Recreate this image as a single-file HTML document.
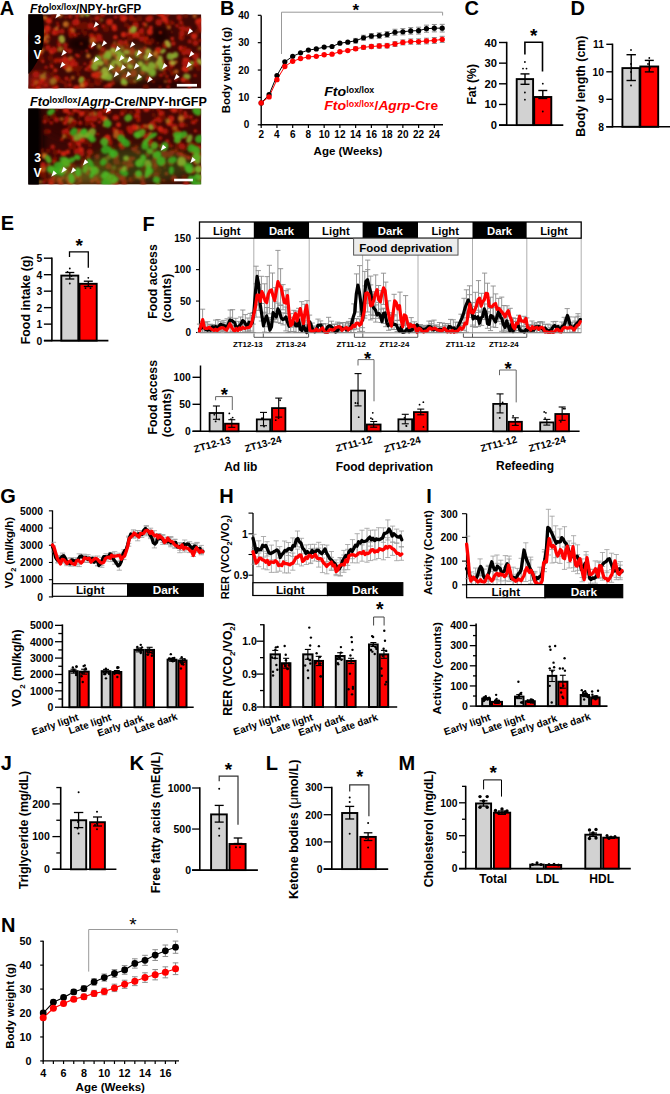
<!DOCTYPE html>
<html><head><meta charset="utf-8"><style>
html,body{margin:0;padding:0;background:#fff;overflow:hidden;}
svg{display:block;}
text{font-family:"Liberation Sans", sans-serif;}
</style></head><body>
<svg width="670" height="1094" viewBox="0 0 670 1094">
<rect width="670" height="1094" fill="#fff"/>
<text x="-0.3" y="15.4" font-size="20" font-weight="bold" font-style="normal" text-anchor="start" fill="#000">A</text>
<text x="220.1" y="15.1" font-size="20" font-weight="bold" font-style="normal" text-anchor="start" fill="#000">B</text>
<text x="464.6" y="15.2" font-size="20" font-weight="bold" font-style="normal" text-anchor="start" fill="#000">C</text>
<text x="570.6" y="15.2" font-size="20" font-weight="bold" font-style="normal" text-anchor="start" fill="#000">D</text>
<text x="0.8" y="230.0" font-size="20" font-weight="bold" font-style="normal" text-anchor="start" fill="#000">E</text>
<text x="142.4" y="230.6" font-size="20" font-weight="bold" font-style="normal" text-anchor="start" fill="#000">F</text>
<text x="0.3" y="503.2" font-size="20" font-weight="bold" font-style="normal" text-anchor="start" fill="#000">G</text>
<text x="219.2" y="503.4" font-size="20" font-weight="bold" font-style="normal" text-anchor="start" fill="#000">H</text>
<text x="426.2" y="503.0" font-size="20" font-weight="bold" font-style="normal" text-anchor="start" fill="#000">I</text>
<text x="0.8" y="769.9" font-size="20" font-weight="bold" font-style="normal" text-anchor="start" fill="#000">J</text>
<text x="129.5" y="770.2" font-size="20" font-weight="bold" font-style="normal" text-anchor="start" fill="#000">K</text>
<text x="265.8" y="769.9" font-size="20" font-weight="bold" font-style="normal" text-anchor="start" fill="#000">L</text>
<text x="398.4" y="770.0" font-size="20" font-weight="bold" font-style="normal" text-anchor="start" fill="#000">M</text>
<text x="0.9" y="932.4" font-size="20" font-weight="bold" font-style="normal" text-anchor="start" fill="#000">N</text>
<line x1="261.20" y1="15.40" x2="261.20" y2="125.50" stroke="#000" stroke-width="1.4"/>
<line x1="260.50" y1="124.80" x2="443.00" y2="124.80" stroke="#000" stroke-width="1.4"/>
<line x1="257.80" y1="124.80" x2="261.20" y2="124.80" stroke="#000" stroke-width="1.2"/>
<text x="249.3" y="128.4" font-size="10" font-weight="bold" font-style="normal" text-anchor="end" fill="#000">0</text>
<line x1="257.80" y1="97.42" x2="261.20" y2="97.42" stroke="#000" stroke-width="1.2"/>
<text x="249.3" y="101.0" font-size="10" font-weight="bold" font-style="normal" text-anchor="end" fill="#000">10</text>
<line x1="257.80" y1="70.05" x2="261.20" y2="70.05" stroke="#000" stroke-width="1.2"/>
<text x="249.3" y="73.6" font-size="10" font-weight="bold" font-style="normal" text-anchor="end" fill="#000">20</text>
<line x1="257.80" y1="42.67" x2="261.20" y2="42.67" stroke="#000" stroke-width="1.2"/>
<text x="249.3" y="46.3" font-size="10" font-weight="bold" font-style="normal" text-anchor="end" fill="#000">30</text>
<line x1="257.80" y1="15.30" x2="261.20" y2="15.30" stroke="#000" stroke-width="1.2"/>
<text x="249.3" y="18.9" font-size="10" font-weight="bold" font-style="normal" text-anchor="end" fill="#000">40</text>
<line x1="261.20" y1="124.80" x2="261.20" y2="128.00" stroke="#000" stroke-width="1.2"/>
<text x="261.2" y="138.3" font-size="10" font-weight="bold" font-style="normal" text-anchor="middle" fill="#000">2</text>
<line x1="276.94" y1="124.80" x2="276.94" y2="128.00" stroke="#000" stroke-width="1.2"/>
<text x="276.9" y="138.3" font-size="10" font-weight="bold" font-style="normal" text-anchor="middle" fill="#000">4</text>
<line x1="292.68" y1="124.80" x2="292.68" y2="128.00" stroke="#000" stroke-width="1.2"/>
<text x="292.7" y="138.3" font-size="10" font-weight="bold" font-style="normal" text-anchor="middle" fill="#000">6</text>
<line x1="308.42" y1="124.80" x2="308.42" y2="128.00" stroke="#000" stroke-width="1.2"/>
<text x="308.4" y="138.3" font-size="10" font-weight="bold" font-style="normal" text-anchor="middle" fill="#000">8</text>
<line x1="324.16" y1="124.80" x2="324.16" y2="128.00" stroke="#000" stroke-width="1.2"/>
<text x="324.2" y="138.3" font-size="10" font-weight="bold" font-style="normal" text-anchor="middle" fill="#000">10</text>
<line x1="339.90" y1="124.80" x2="339.90" y2="128.00" stroke="#000" stroke-width="1.2"/>
<text x="339.9" y="138.3" font-size="10" font-weight="bold" font-style="normal" text-anchor="middle" fill="#000">12</text>
<line x1="355.64" y1="124.80" x2="355.64" y2="128.00" stroke="#000" stroke-width="1.2"/>
<text x="355.6" y="138.3" font-size="10" font-weight="bold" font-style="normal" text-anchor="middle" fill="#000">14</text>
<line x1="371.38" y1="124.80" x2="371.38" y2="128.00" stroke="#000" stroke-width="1.2"/>
<text x="371.4" y="138.3" font-size="10" font-weight="bold" font-style="normal" text-anchor="middle" fill="#000">16</text>
<line x1="387.12" y1="124.80" x2="387.12" y2="128.00" stroke="#000" stroke-width="1.2"/>
<text x="387.1" y="138.3" font-size="10" font-weight="bold" font-style="normal" text-anchor="middle" fill="#000">18</text>
<line x1="402.86" y1="124.80" x2="402.86" y2="128.00" stroke="#000" stroke-width="1.2"/>
<text x="402.9" y="138.3" font-size="10" font-weight="bold" font-style="normal" text-anchor="middle" fill="#000">20</text>
<line x1="418.60" y1="124.80" x2="418.60" y2="128.00" stroke="#000" stroke-width="1.2"/>
<text x="418.6" y="138.3" font-size="10" font-weight="bold" font-style="normal" text-anchor="middle" fill="#000">22</text>
<line x1="434.34" y1="124.80" x2="434.34" y2="128.00" stroke="#000" stroke-width="1.2"/>
<text x="434.3" y="138.3" font-size="10" font-weight="bold" font-style="normal" text-anchor="middle" fill="#000">24</text>
<text x="348.0" y="154.8" font-size="11.5" font-weight="bold" font-style="normal" text-anchor="middle" fill="#000">Age (Weeks)</text>
<text transform="translate(229.5,70.1) rotate(-90)" font-size="11.5" font-weight="bold" text-anchor="middle" fill="#000">Body weight (g)</text>
<path d="M281.5,54 L281.5,12.2 L442.6,12.2 L442.6,15.5" fill="none" stroke="#999" stroke-width="1"/>
<text x="355.8" y="16.0" font-size="17" font-weight="bold" font-style="normal" text-anchor="middle" fill="#000">*</text>
<line x1="355.64" y1="38.43" x2="355.64" y2="43.09" stroke="#8c8c8c" stroke-width="1"/>
<line x1="353.14" y1="38.43" x2="358.14" y2="38.43" stroke="#8c8c8c" stroke-width="1"/>
<line x1="353.14" y1="43.09" x2="358.14" y2="43.09" stroke="#8c8c8c" stroke-width="1"/>
<line x1="355.64" y1="46.84" x2="355.64" y2="50.56" stroke="#8c8c8c" stroke-width="1"/>
<line x1="353.14" y1="46.84" x2="358.14" y2="46.84" stroke="#8c8c8c" stroke-width="1"/>
<line x1="353.14" y1="50.56" x2="358.14" y2="50.56" stroke="#8c8c8c" stroke-width="1"/>
<line x1="363.51" y1="35.28" x2="363.51" y2="40.21" stroke="#8c8c8c" stroke-width="1"/>
<line x1="361.01" y1="35.28" x2="366.01" y2="35.28" stroke="#8c8c8c" stroke-width="1"/>
<line x1="361.01" y1="40.21" x2="366.01" y2="40.21" stroke="#8c8c8c" stroke-width="1"/>
<line x1="363.51" y1="45.36" x2="363.51" y2="49.30" stroke="#8c8c8c" stroke-width="1"/>
<line x1="361.01" y1="45.36" x2="366.01" y2="45.36" stroke="#8c8c8c" stroke-width="1"/>
<line x1="361.01" y1="49.30" x2="366.01" y2="49.30" stroke="#8c8c8c" stroke-width="1"/>
<line x1="371.38" y1="33.50" x2="371.38" y2="38.71" stroke="#8c8c8c" stroke-width="1"/>
<line x1="368.88" y1="33.50" x2="373.88" y2="33.50" stroke="#8c8c8c" stroke-width="1"/>
<line x1="368.88" y1="38.71" x2="373.88" y2="38.71" stroke="#8c8c8c" stroke-width="1"/>
<line x1="371.38" y1="44.43" x2="371.38" y2="48.59" stroke="#8c8c8c" stroke-width="1"/>
<line x1="368.88" y1="44.43" x2="373.88" y2="44.43" stroke="#8c8c8c" stroke-width="1"/>
<line x1="368.88" y1="48.59" x2="373.88" y2="48.59" stroke="#8c8c8c" stroke-width="1"/>
<line x1="379.25" y1="32.82" x2="379.25" y2="38.30" stroke="#8c8c8c" stroke-width="1"/>
<line x1="376.75" y1="32.82" x2="381.75" y2="32.82" stroke="#8c8c8c" stroke-width="1"/>
<line x1="376.75" y1="38.30" x2="381.75" y2="38.30" stroke="#8c8c8c" stroke-width="1"/>
<line x1="379.25" y1="43.77" x2="379.25" y2="48.15" stroke="#8c8c8c" stroke-width="1"/>
<line x1="376.75" y1="43.77" x2="381.75" y2="43.77" stroke="#8c8c8c" stroke-width="1"/>
<line x1="376.75" y1="48.15" x2="381.75" y2="48.15" stroke="#8c8c8c" stroke-width="1"/>
<line x1="387.12" y1="31.59" x2="387.12" y2="37.34" stroke="#8c8c8c" stroke-width="1"/>
<line x1="384.62" y1="31.59" x2="389.62" y2="31.59" stroke="#8c8c8c" stroke-width="1"/>
<line x1="384.62" y1="37.34" x2="389.62" y2="37.34" stroke="#8c8c8c" stroke-width="1"/>
<line x1="387.12" y1="43.39" x2="387.12" y2="47.99" stroke="#8c8c8c" stroke-width="1"/>
<line x1="384.62" y1="43.39" x2="389.62" y2="43.39" stroke="#8c8c8c" stroke-width="1"/>
<line x1="384.62" y1="47.99" x2="389.62" y2="47.99" stroke="#8c8c8c" stroke-width="1"/>
<line x1="394.99" y1="29.26" x2="394.99" y2="35.28" stroke="#8c8c8c" stroke-width="1"/>
<line x1="392.49" y1="29.26" x2="397.49" y2="29.26" stroke="#8c8c8c" stroke-width="1"/>
<line x1="392.49" y1="35.28" x2="397.49" y2="35.28" stroke="#8c8c8c" stroke-width="1"/>
<line x1="394.99" y1="41.63" x2="394.99" y2="46.45" stroke="#8c8c8c" stroke-width="1"/>
<line x1="392.49" y1="41.63" x2="397.49" y2="41.63" stroke="#8c8c8c" stroke-width="1"/>
<line x1="392.49" y1="46.45" x2="397.49" y2="46.45" stroke="#8c8c8c" stroke-width="1"/>
<line x1="402.86" y1="28.58" x2="402.86" y2="34.87" stroke="#8c8c8c" stroke-width="1"/>
<line x1="400.36" y1="28.58" x2="405.36" y2="28.58" stroke="#8c8c8c" stroke-width="1"/>
<line x1="400.36" y1="34.87" x2="405.36" y2="34.87" stroke="#8c8c8c" stroke-width="1"/>
<line x1="402.86" y1="39.88" x2="402.86" y2="44.92" stroke="#8c8c8c" stroke-width="1"/>
<line x1="400.36" y1="39.88" x2="405.36" y2="39.88" stroke="#8c8c8c" stroke-width="1"/>
<line x1="400.36" y1="44.92" x2="405.36" y2="44.92" stroke="#8c8c8c" stroke-width="1"/>
<line x1="410.73" y1="27.62" x2="410.73" y2="34.19" stroke="#8c8c8c" stroke-width="1"/>
<line x1="408.23" y1="27.62" x2="413.23" y2="27.62" stroke="#8c8c8c" stroke-width="1"/>
<line x1="408.23" y1="34.19" x2="413.23" y2="34.19" stroke="#8c8c8c" stroke-width="1"/>
<line x1="410.73" y1="38.95" x2="410.73" y2="44.21" stroke="#8c8c8c" stroke-width="1"/>
<line x1="408.23" y1="38.95" x2="413.23" y2="38.95" stroke="#8c8c8c" stroke-width="1"/>
<line x1="408.23" y1="44.21" x2="413.23" y2="44.21" stroke="#8c8c8c" stroke-width="1"/>
<line x1="418.60" y1="27.21" x2="418.60" y2="34.05" stroke="#8c8c8c" stroke-width="1"/>
<line x1="416.10" y1="27.21" x2="421.10" y2="27.21" stroke="#8c8c8c" stroke-width="1"/>
<line x1="416.10" y1="34.05" x2="421.10" y2="34.05" stroke="#8c8c8c" stroke-width="1"/>
<line x1="418.60" y1="38.84" x2="418.60" y2="44.32" stroke="#8c8c8c" stroke-width="1"/>
<line x1="416.10" y1="38.84" x2="421.10" y2="38.84" stroke="#8c8c8c" stroke-width="1"/>
<line x1="416.10" y1="44.32" x2="421.10" y2="44.32" stroke="#8c8c8c" stroke-width="1"/>
<line x1="426.47" y1="25.16" x2="426.47" y2="32.27" stroke="#8c8c8c" stroke-width="1"/>
<line x1="423.97" y1="25.16" x2="428.97" y2="25.16" stroke="#8c8c8c" stroke-width="1"/>
<line x1="423.97" y1="32.27" x2="428.97" y2="32.27" stroke="#8c8c8c" stroke-width="1"/>
<line x1="426.47" y1="38.19" x2="426.47" y2="43.88" stroke="#8c8c8c" stroke-width="1"/>
<line x1="423.97" y1="38.19" x2="428.97" y2="38.19" stroke="#8c8c8c" stroke-width="1"/>
<line x1="423.97" y1="43.88" x2="428.97" y2="43.88" stroke="#8c8c8c" stroke-width="1"/>
<line x1="434.34" y1="24.47" x2="434.34" y2="31.86" stroke="#8c8c8c" stroke-width="1"/>
<line x1="431.84" y1="24.47" x2="436.84" y2="24.47" stroke="#8c8c8c" stroke-width="1"/>
<line x1="431.84" y1="31.86" x2="436.84" y2="31.86" stroke="#8c8c8c" stroke-width="1"/>
<line x1="434.34" y1="37.53" x2="434.34" y2="43.44" stroke="#8c8c8c" stroke-width="1"/>
<line x1="431.84" y1="37.53" x2="436.84" y2="37.53" stroke="#8c8c8c" stroke-width="1"/>
<line x1="431.84" y1="43.44" x2="436.84" y2="43.44" stroke="#8c8c8c" stroke-width="1"/>
<line x1="442.21" y1="24.33" x2="442.21" y2="32.00" stroke="#8c8c8c" stroke-width="1"/>
<line x1="439.71" y1="24.33" x2="444.71" y2="24.33" stroke="#8c8c8c" stroke-width="1"/>
<line x1="439.71" y1="32.00" x2="444.71" y2="32.00" stroke="#8c8c8c" stroke-width="1"/>
<line x1="442.21" y1="36.32" x2="442.21" y2="42.46" stroke="#8c8c8c" stroke-width="1"/>
<line x1="439.71" y1="36.32" x2="444.71" y2="36.32" stroke="#8c8c8c" stroke-width="1"/>
<line x1="439.71" y1="42.46" x2="444.71" y2="42.46" stroke="#8c8c8c" stroke-width="1"/>
<polyline points="261.20,102.90 269.07,94.69 276.94,75.53 284.81,61.84 292.68,56.36 300.55,52.80 308.42,50.07 316.29,48.97 324.16,47.06 332.03,46.51 339.90,43.22 347.77,42.13 355.64,40.76 363.51,37.75 371.38,36.11 379.25,35.56 387.12,34.46 394.99,32.27 402.86,31.73 410.73,30.90 418.60,30.63 426.47,28.71 434.34,28.17 442.21,28.17" fill="none" stroke="#000" stroke-width="1" stroke-linejoin="round" stroke-linecap="round"/>
<polyline points="261.20,102.90 269.07,96.88 276.94,79.63 284.81,66.49 292.68,61.29 300.55,58.55 308.42,56.91 316.29,56.36 324.16,54.72 332.03,54.17 339.90,51.71 347.77,50.61 355.64,48.70 363.51,47.33 371.38,46.51 379.25,45.96 387.12,45.69 394.99,44.04 402.86,42.40 410.73,41.58 418.60,41.58 426.47,41.03 434.34,40.48 442.21,39.39" fill="none" stroke="#ff0000" stroke-width="1" stroke-linejoin="round" stroke-linecap="round"/>
<circle cx="261.20" cy="102.90" r="2.6" fill="#000"/>
<circle cx="269.07" cy="94.69" r="2.6" fill="#000"/>
<circle cx="276.94" cy="75.53" r="2.6" fill="#000"/>
<circle cx="284.81" cy="61.84" r="2.6" fill="#000"/>
<circle cx="292.68" cy="56.36" r="2.6" fill="#000"/>
<circle cx="300.55" cy="52.80" r="2.6" fill="#000"/>
<circle cx="308.42" cy="50.07" r="2.6" fill="#000"/>
<circle cx="316.29" cy="48.97" r="2.6" fill="#000"/>
<circle cx="324.16" cy="47.06" r="2.6" fill="#000"/>
<circle cx="332.03" cy="46.51" r="2.6" fill="#000"/>
<circle cx="339.90" cy="43.22" r="2.6" fill="#000"/>
<circle cx="347.77" cy="42.13" r="2.6" fill="#000"/>
<circle cx="355.64" cy="40.76" r="2.6" fill="#000"/>
<circle cx="363.51" cy="37.75" r="2.6" fill="#000"/>
<circle cx="371.38" cy="36.11" r="2.6" fill="#000"/>
<circle cx="379.25" cy="35.56" r="2.6" fill="#000"/>
<circle cx="387.12" cy="34.46" r="2.6" fill="#000"/>
<circle cx="394.99" cy="32.27" r="2.6" fill="#000"/>
<circle cx="402.86" cy="31.73" r="2.6" fill="#000"/>
<circle cx="410.73" cy="30.90" r="2.6" fill="#000"/>
<circle cx="418.60" cy="30.63" r="2.6" fill="#000"/>
<circle cx="426.47" cy="28.71" r="2.6" fill="#000"/>
<circle cx="434.34" cy="28.17" r="2.6" fill="#000"/>
<circle cx="442.21" cy="28.17" r="2.6" fill="#000"/>
<circle cx="261.20" cy="102.90" r="2.7" fill="#ff0000"/>
<circle cx="269.07" cy="96.88" r="2.7" fill="#ff0000"/>
<circle cx="276.94" cy="79.63" r="2.7" fill="#ff0000"/>
<circle cx="284.81" cy="66.49" r="2.7" fill="#ff0000"/>
<circle cx="292.68" cy="61.29" r="2.7" fill="#ff0000"/>
<circle cx="300.55" cy="58.55" r="2.7" fill="#ff0000"/>
<circle cx="308.42" cy="56.91" r="2.7" fill="#ff0000"/>
<circle cx="316.29" cy="56.36" r="2.7" fill="#ff0000"/>
<circle cx="324.16" cy="54.72" r="2.7" fill="#ff0000"/>
<circle cx="332.03" cy="54.17" r="2.7" fill="#ff0000"/>
<circle cx="339.90" cy="51.71" r="2.7" fill="#ff0000"/>
<circle cx="347.77" cy="50.61" r="2.7" fill="#ff0000"/>
<circle cx="355.64" cy="48.70" r="2.7" fill="#ff0000"/>
<circle cx="363.51" cy="47.33" r="2.7" fill="#ff0000"/>
<circle cx="371.38" cy="46.51" r="2.7" fill="#ff0000"/>
<circle cx="379.25" cy="45.96" r="2.7" fill="#ff0000"/>
<circle cx="387.12" cy="45.69" r="2.7" fill="#ff0000"/>
<circle cx="394.99" cy="44.04" r="2.7" fill="#ff0000"/>
<circle cx="402.86" cy="42.40" r="2.7" fill="#ff0000"/>
<circle cx="410.73" cy="41.58" r="2.7" fill="#ff0000"/>
<circle cx="418.60" cy="41.58" r="2.7" fill="#ff0000"/>
<circle cx="426.47" cy="41.03" r="2.7" fill="#ff0000"/>
<circle cx="434.34" cy="40.48" r="2.7" fill="#ff0000"/>
<circle cx="442.21" cy="39.39" r="2.7" fill="#ff0000"/>
<text y="96.3" font-size="13" font-weight="bold" fill="#000"><tspan x="324.2" font-style="italic" textLength="22" lengthAdjust="spacingAndGlyphs">Fto</tspan><tspan x="346.3" font-size="8.8" dy="-3.0" textLength="28" lengthAdjust="spacingAndGlyphs">lox/lox</tspan></text>
<text y="110.3" font-size="13" font-weight="bold" fill="#ff0000"><tspan x="324.2" font-style="italic" textLength="22" lengthAdjust="spacingAndGlyphs">Fto</tspan><tspan x="346.3" font-size="8.8" dy="-3.0" textLength="28" lengthAdjust="spacingAndGlyphs">lox/lox</tspan><tspan x="374.6" dy="3.0" textLength="63.5" lengthAdjust="spacingAndGlyphs">/<tspan font-style="italic">Agrp</tspan>-Cre</tspan></text>
<line x1="506.70" y1="41.80" x2="506.70" y2="125.80" stroke="#000" stroke-width="1.6"/>
<line x1="499.00" y1="125.10" x2="563.30" y2="125.10" stroke="#000" stroke-width="1.6"/>
<line x1="499.00" y1="125.10" x2="506.70" y2="125.10" stroke="#000" stroke-width="1.4"/>
<text x="497.0" y="129.1" font-size="11.2" font-weight="bold" font-style="normal" text-anchor="end" fill="#000">0</text>
<line x1="499.00" y1="104.45" x2="506.70" y2="104.45" stroke="#000" stroke-width="1.4"/>
<text x="497.0" y="108.4" font-size="11.2" font-weight="bold" font-style="normal" text-anchor="end" fill="#000">10</text>
<line x1="499.00" y1="83.80" x2="506.70" y2="83.80" stroke="#000" stroke-width="1.4"/>
<text x="497.0" y="87.8" font-size="11.2" font-weight="bold" font-style="normal" text-anchor="end" fill="#000">20</text>
<line x1="499.00" y1="63.15" x2="506.70" y2="63.15" stroke="#000" stroke-width="1.4"/>
<text x="497.0" y="67.2" font-size="11.2" font-weight="bold" font-style="normal" text-anchor="end" fill="#000">30</text>
<line x1="499.00" y1="42.50" x2="506.70" y2="42.50" stroke="#000" stroke-width="1.4"/>
<text x="497.0" y="46.5" font-size="11.2" font-weight="bold" font-style="normal" text-anchor="end" fill="#000">40</text>
<text transform="translate(475.5,84.3) rotate(-90)" font-size="12.2" font-weight="bold" text-anchor="middle" fill="#000">Fat (%)</text>
<rect x="516.70" y="79.10" width="16.40" height="46.00" fill="#d2d2d2" stroke="#000" stroke-width="1.9"/>
<rect x="534.20" y="97.00" width="17.10" height="28.10" fill="#ff0000" stroke="#000" stroke-width="1.9"/>
<line x1="525.00" y1="73.90" x2="525.00" y2="84.30" stroke="#000" stroke-width="1.4"/>
<line x1="520.50" y1="73.90" x2="529.50" y2="73.90" stroke="#000" stroke-width="1.4"/>
<line x1="520.50" y1="84.30" x2="529.50" y2="84.30" stroke="#000" stroke-width="1.4"/>
<line x1="542.80" y1="90.50" x2="542.80" y2="98.50" stroke="#000" stroke-width="1.4"/>
<line x1="538.30" y1="90.50" x2="547.30" y2="90.50" stroke="#000" stroke-width="1.4"/>
<line x1="538.30" y1="98.50" x2="547.30" y2="98.50" stroke="#000" stroke-width="1.4"/>
<circle cx="524.90" cy="62.00" r="0.9" fill="#000"/>
<circle cx="523.00" cy="68.60" r="0.9" fill="#000"/>
<circle cx="526.50" cy="68.60" r="0.9" fill="#000"/>
<circle cx="524.90" cy="92.50" r="0.9" fill="#000"/>
<circle cx="524.90" cy="99.70" r="0.9" fill="#000"/>
<circle cx="542.80" cy="83.70" r="0.9" fill="#000"/>
<circle cx="542.80" cy="111.50" r="0.9" fill="#000"/>
<circle cx="540.00" cy="97.00" r="0.9" fill="#000"/>
<path d="M524.9,54.5 L524.9,42.2 L542.5,42.2 L542.5,71.6" fill="none" stroke="#000" stroke-width="1.6"/>
<text x="533.8" y="41.5" font-size="19" font-weight="bold" font-style="normal" text-anchor="middle" fill="#000">*</text>
<line x1="612.50" y1="43.60" x2="612.50" y2="127.50" stroke="#000" stroke-width="1.6"/>
<line x1="606.30" y1="126.80" x2="670.00" y2="126.80" stroke="#000" stroke-width="1.6"/>
<line x1="606.30" y1="126.80" x2="612.50" y2="126.80" stroke="#000" stroke-width="1.4"/>
<text x="604.0" y="130.7" font-size="10.3" font-weight="bold" font-style="normal" text-anchor="end" fill="#000">8</text>
<line x1="606.30" y1="99.30" x2="612.50" y2="99.30" stroke="#000" stroke-width="1.4"/>
<text x="604.0" y="103.2" font-size="10.3" font-weight="bold" font-style="normal" text-anchor="end" fill="#000">9</text>
<line x1="606.30" y1="71.80" x2="612.50" y2="71.80" stroke="#000" stroke-width="1.4"/>
<text x="604.0" y="75.7" font-size="10.3" font-weight="bold" font-style="normal" text-anchor="end" fill="#000">10</text>
<line x1="606.30" y1="44.30" x2="612.50" y2="44.30" stroke="#000" stroke-width="1.4"/>
<text x="604.0" y="48.2" font-size="10.3" font-weight="bold" font-style="normal" text-anchor="end" fill="#000">11</text>
<text transform="translate(584.7,86.1) rotate(-90)" font-size="12.4" font-weight="bold" text-anchor="middle" fill="#000">Body length (cm)</text>
<rect x="622.40" y="68.10" width="17.20" height="58.70" fill="#d2d2d2" stroke="#000" stroke-width="1.9"/>
<rect x="640.30" y="66.50" width="17.90" height="60.30" fill="#ff0000" stroke="#000" stroke-width="1.9"/>
<line x1="631.20" y1="54.70" x2="631.20" y2="80.50" stroke="#000" stroke-width="1.4"/>
<line x1="626.50" y1="54.70" x2="635.90" y2="54.70" stroke="#000" stroke-width="1.4"/>
<line x1="626.50" y1="80.50" x2="635.90" y2="80.50" stroke="#000" stroke-width="1.4"/>
<line x1="649.30" y1="60.40" x2="649.30" y2="71.90" stroke="#000" stroke-width="1.4"/>
<line x1="644.80" y1="60.40" x2="653.80" y2="60.40" stroke="#000" stroke-width="1.4"/>
<line x1="644.80" y1="71.90" x2="653.80" y2="71.90" stroke="#000" stroke-width="1.4"/>
<circle cx="631.00" cy="50.00" r="0.9" fill="#000"/>
<circle cx="631.00" cy="64.00" r="0.9" fill="#000"/>
<circle cx="631.00" cy="85.50" r="0.9" fill="#000"/>
<circle cx="631.00" cy="72.00" r="0.9" fill="#000"/>
<circle cx="649.30" cy="58.00" r="0.9" fill="#000"/>
<circle cx="648.00" cy="64.00" r="0.9" fill="#000"/>
<circle cx="650.00" cy="68.00" r="0.9" fill="#000"/>
<line x1="51.90" y1="257.50" x2="51.90" y2="341.30" stroke="#000" stroke-width="1.6"/>
<line x1="43.90" y1="340.60" x2="108.40" y2="340.60" stroke="#000" stroke-width="1.6"/>
<line x1="43.90" y1="340.60" x2="51.90" y2="340.60" stroke="#000" stroke-width="1.4"/>
<text x="42.2" y="344.5" font-size="10.3" font-weight="bold" font-style="normal" text-anchor="end" fill="#000">0</text>
<line x1="43.90" y1="324.12" x2="51.90" y2="324.12" stroke="#000" stroke-width="1.4"/>
<text x="42.2" y="328.0" font-size="10.3" font-weight="bold" font-style="normal" text-anchor="end" fill="#000">1</text>
<line x1="43.90" y1="307.64" x2="51.90" y2="307.64" stroke="#000" stroke-width="1.4"/>
<text x="42.2" y="311.5" font-size="10.3" font-weight="bold" font-style="normal" text-anchor="end" fill="#000">2</text>
<line x1="43.90" y1="291.16" x2="51.90" y2="291.16" stroke="#000" stroke-width="1.4"/>
<text x="42.2" y="295.1" font-size="10.3" font-weight="bold" font-style="normal" text-anchor="end" fill="#000">3</text>
<line x1="43.90" y1="274.68" x2="51.90" y2="274.68" stroke="#000" stroke-width="1.4"/>
<text x="42.2" y="278.6" font-size="10.3" font-weight="bold" font-style="normal" text-anchor="end" fill="#000">4</text>
<line x1="43.90" y1="258.20" x2="51.90" y2="258.20" stroke="#000" stroke-width="1.4"/>
<text x="42.2" y="262.1" font-size="10.3" font-weight="bold" font-style="normal" text-anchor="end" fill="#000">5</text>
<text transform="translate(29.5,299.9) rotate(-90)" font-size="12.4" font-weight="bold" text-anchor="middle" fill="#000">Food intake (g)</text>
<rect x="61.30" y="275.60" width="17.00" height="65.00" fill="#d2d2d2" stroke="#000" stroke-width="1.9"/>
<rect x="79.50" y="283.80" width="17.20" height="56.80" fill="#ff0000" stroke="#000" stroke-width="1.9"/>
<line x1="69.80" y1="272.50" x2="69.80" y2="279.00" stroke="#000" stroke-width="1.3"/>
<line x1="65.30" y1="272.50" x2="74.30" y2="272.50" stroke="#000" stroke-width="1.3"/>
<line x1="65.30" y1="279.00" x2="74.30" y2="279.00" stroke="#000" stroke-width="1.3"/>
<line x1="88.30" y1="281.20" x2="88.30" y2="286.50" stroke="#000" stroke-width="1.3"/>
<line x1="83.80" y1="281.20" x2="92.80" y2="281.20" stroke="#000" stroke-width="1.3"/>
<line x1="83.80" y1="286.50" x2="92.80" y2="286.50" stroke="#000" stroke-width="1.3"/>
<circle cx="69.80" cy="268.50" r="0.9" fill="#000"/>
<circle cx="67.50" cy="272.00" r="0.9" fill="#000"/>
<circle cx="71.50" cy="276.00" r="0.9" fill="#000"/>
<circle cx="69.80" cy="283.50" r="0.9" fill="#000"/>
<circle cx="88.30" cy="277.80" r="0.9" fill="#000"/>
<circle cx="85.50" cy="288.20" r="0.9" fill="#000"/>
<circle cx="90.50" cy="288.20" r="0.9" fill="#000"/>
<path d="M69.5,257.0 L69.5,251.9 L88.3,251.9 L88.3,267.7" fill="none" stroke="#000" stroke-width="1.3"/>
<text x="79.2" y="251.6" font-size="19" font-weight="bold" font-style="normal" text-anchor="middle" fill="#000">*</text>
<defs><filter id="bl1" x="-20%" y="-20%" width="140%" height="140%"><feGaussianBlur stdDeviation="0.9"/></filter><filter id="bl2" x="-20%" y="-20%" width="140%" height="140%"><feGaussianBlur stdDeviation="0.8"/></filter><filter id="bl3" x="-50%" y="-50%" width="200%" height="200%"><feGaussianBlur stdDeviation="4"/></filter><clipPath id="cpA1"><rect x="28.3" y="14.3" width="173" height="74.3"/></clipPath><clipPath id="cpA2"><rect x="28.3" y="108.5" width="173" height="76"/></clipPath></defs>
<g clip-path="url(#cpA1)">
<rect x="28.30" y="14.30" width="173.00" height="74.30" fill="#3e0704"/>
<g filter="url(#bl3)">
<ellipse cx="80" cy="44" rx="14" ry="8" fill="#100201" opacity="0.9"/>
<ellipse cx="160" cy="36" rx="10" ry="11" fill="#100201" opacity="0.8"/>
<ellipse cx="150" cy="86" rx="45" ry="6" fill="#180302" opacity="0.7"/>
<ellipse cx="40" cy="82" rx="14" ry="10" fill="#9a1a0c" opacity="0.8"/>
</g><g filter="url(#bl1)">
<circle cx="106.6" cy="55.9" r="3.2" fill="#b01808" opacity="0.9"/>
<circle cx="129.9" cy="28.0" r="2.3" fill="#b01808" opacity="0.9"/>
<circle cx="44.6" cy="36.8" r="1.4" fill="#d42410" opacity="0.9"/>
<circle cx="35.5" cy="87.3" r="3.3" fill="#b01808" opacity="0.9"/>
<circle cx="55.5" cy="15.4" r="2.4" fill="#700c06" opacity="0.9"/>
<circle cx="70.2" cy="16.5" r="2.2" fill="#b01808" opacity="0.9"/>
<circle cx="118.1" cy="61.9" r="2.3" fill="#b01808" opacity="0.9"/>
<circle cx="76.4" cy="88.4" r="3.4" fill="#d42410" opacity="0.9"/>
<circle cx="82.8" cy="31.4" r="1.8" fill="#700c06" opacity="0.9"/>
<circle cx="97.6" cy="77.2" r="2.1" fill="#b85a18" opacity="0.9"/>
<circle cx="65.2" cy="83.2" r="1.3" fill="#b01808" opacity="0.9"/>
<circle cx="100.9" cy="56.4" r="1.6" fill="#b01808" opacity="0.9"/>
<circle cx="82.1" cy="15.4" r="2.1" fill="#a0701c" opacity="0.9"/>
<circle cx="45.8" cy="18.8" r="3.0" fill="#700c06" opacity="0.9"/>
<circle cx="105.7" cy="28.5" r="2.8" fill="#700c06" opacity="0.9"/>
<circle cx="48.5" cy="45.6" r="1.7" fill="#700c06" opacity="0.9"/>
<circle cx="176.1" cy="62.0" r="1.4" fill="#c87020" opacity="0.9"/>
<circle cx="64.4" cy="61.6" r="1.2" fill="#b01808" opacity="0.9"/>
<circle cx="50.3" cy="57.9" r="3.0" fill="#700c06" opacity="0.9"/>
<circle cx="136.8" cy="37.4" r="1.7" fill="#b01808" opacity="0.9"/>
<circle cx="55.7" cy="61.0" r="2.4" fill="#b01808" opacity="0.9"/>
<circle cx="111.8" cy="20.1" r="1.3" fill="#700c06" opacity="0.9"/>
<circle cx="72.4" cy="69.3" r="2.1" fill="#b01808" opacity="0.9"/>
<circle cx="113.2" cy="52.9" r="3.2" fill="#c87020" opacity="0.9"/>
<circle cx="125.1" cy="77.6" r="2.6" fill="#700c06" opacity="0.9"/>
<circle cx="58.8" cy="41.7" r="2.5" fill="#700c06" opacity="0.9"/>
<circle cx="52.6" cy="16.9" r="1.2" fill="#b85a18" opacity="0.9"/>
<circle cx="32.0" cy="61.6" r="2.3" fill="#d42410" opacity="0.9"/>
<circle cx="201.2" cy="19.9" r="2.4" fill="#d42410" opacity="0.9"/>
<circle cx="155.8" cy="66.6" r="2.9" fill="#a0701c" opacity="0.9"/>
<circle cx="40.8" cy="21.0" r="1.5" fill="#700c06" opacity="0.9"/>
<circle cx="85.4" cy="83.7" r="2.7" fill="#b01808" opacity="0.9"/>
<circle cx="32.2" cy="85.4" r="1.4" fill="#d42410" opacity="0.9"/>
<circle cx="112.4" cy="80.9" r="2.0" fill="#700c06" opacity="0.9"/>
<circle cx="118.0" cy="70.3" r="2.0" fill="#b85a18" opacity="0.9"/>
<circle cx="84.9" cy="63.8" r="1.6" fill="#b01808" opacity="0.9"/>
<circle cx="186.5" cy="79.7" r="2.0" fill="#b01808" opacity="0.9"/>
<circle cx="51.9" cy="51.2" r="3.0" fill="#d42410" opacity="0.9"/>
<circle cx="192.7" cy="34.9" r="1.6" fill="#b01808" opacity="0.9"/>
<circle cx="65.3" cy="45.1" r="2.6" fill="#b01808" opacity="0.9"/>
<circle cx="179.3" cy="17.4" r="2.8" fill="#b01808" opacity="0.9"/>
<circle cx="171.8" cy="31.9" r="1.5" fill="#700c06" opacity="0.9"/>
<circle cx="105.5" cy="61.1" r="2.6" fill="#d42410" opacity="0.9"/>
<circle cx="110.0" cy="67.4" r="1.6" fill="#700c06" opacity="0.9"/>
<circle cx="148.9" cy="53.0" r="2.6" fill="#d42410" opacity="0.9"/>
<circle cx="165.3" cy="81.6" r="1.4" fill="#b85a18" opacity="0.9"/>
<circle cx="106.2" cy="28.9" r="3.2" fill="#700c06" opacity="0.9"/>
<circle cx="141.2" cy="51.6" r="3.0" fill="#b01808" opacity="0.9"/>
<circle cx="198.2" cy="21.7" r="3.1" fill="#d42410" opacity="0.9"/>
<circle cx="49.7" cy="32.3" r="2.1" fill="#700c06" opacity="0.9"/>
<circle cx="115.6" cy="17.1" r="2.0" fill="#b01808" opacity="0.9"/>
<circle cx="120.5" cy="65.3" r="3.2" fill="#b01808" opacity="0.9"/>
<circle cx="184.1" cy="52.8" r="2.7" fill="#b01808" opacity="0.9"/>
<circle cx="128.5" cy="65.5" r="2.9" fill="#b01808" opacity="0.9"/>
<circle cx="172.1" cy="56.0" r="1.6" fill="#b01808" opacity="0.9"/>
<circle cx="72.7" cy="64.2" r="3.3" fill="#d42410" opacity="0.9"/>
<circle cx="81.0" cy="24.8" r="2.4" fill="#700c06" opacity="0.9"/>
<circle cx="99.4" cy="22.8" r="1.2" fill="#b01808" opacity="0.9"/>
<circle cx="35.9" cy="82.5" r="2.4" fill="#b85a18" opacity="0.9"/>
<circle cx="147.8" cy="19.2" r="2.4" fill="#b01808" opacity="0.9"/>
<circle cx="188.1" cy="34.3" r="2.2" fill="#700c06" opacity="0.9"/>
<circle cx="169.4" cy="81.2" r="2.2" fill="#b01808" opacity="0.9"/>
<circle cx="61.9" cy="31.2" r="2.7" fill="#b01808" opacity="0.9"/>
<circle cx="135.5" cy="22.1" r="2.8" fill="#700c06" opacity="0.9"/>
<circle cx="71.6" cy="29.0" r="2.4" fill="#b01808" opacity="0.9"/>
<circle cx="99.8" cy="53.6" r="1.6" fill="#700c06" opacity="0.9"/>
<circle cx="138.8" cy="53.7" r="3.1" fill="#b01808" opacity="0.9"/>
<circle cx="68.5" cy="69.3" r="3.0" fill="#c87020" opacity="0.9"/>
<circle cx="182.1" cy="24.1" r="1.4" fill="#b01808" opacity="0.9"/>
<circle cx="191.1" cy="54.7" r="2.8" fill="#700c06" opacity="0.9"/>
<circle cx="166.5" cy="21.4" r="2.5" fill="#b01808" opacity="0.9"/>
<circle cx="90.8" cy="66.7" r="2.6" fill="#b01808" opacity="0.9"/>
<circle cx="172.4" cy="74.0" r="2.3" fill="#700c06" opacity="0.9"/>
<circle cx="134.4" cy="81.5" r="2.3" fill="#700c06" opacity="0.9"/>
<circle cx="58.1" cy="26.0" r="1.8" fill="#b01808" opacity="0.9"/>
<circle cx="51.6" cy="64.9" r="1.4" fill="#700c06" opacity="0.9"/>
<circle cx="102.1" cy="40.6" r="1.7" fill="#b01808" opacity="0.9"/>
<circle cx="35.4" cy="29.2" r="2.1" fill="#b01808" opacity="0.9"/>
<circle cx="187.8" cy="59.2" r="1.4" fill="#d42410" opacity="0.9"/>
<circle cx="43.0" cy="76.9" r="3.1" fill="#a0701c" opacity="0.9"/>
<circle cx="132.0" cy="51.8" r="3.4" fill="#d42410" opacity="0.9"/>
<circle cx="186.0" cy="69.6" r="2.9" fill="#d42410" opacity="0.9"/>
<circle cx="183.4" cy="79.7" r="2.7" fill="#d42410" opacity="0.9"/>
<circle cx="98.5" cy="68.0" r="1.4" fill="#b01808" opacity="0.9"/>
<circle cx="30.1" cy="40.7" r="2.6" fill="#b01808" opacity="0.9"/>
<circle cx="191.7" cy="63.8" r="1.9" fill="#b01808" opacity="0.9"/>
<circle cx="120.5" cy="43.2" r="3.4" fill="#b01808" opacity="0.9"/>
<circle cx="160.1" cy="87.1" r="1.3" fill="#b01808" opacity="0.9"/>
<circle cx="45.3" cy="32.9" r="3.2" fill="#b01808" opacity="0.9"/>
<circle cx="195.6" cy="56.5" r="3.4" fill="#b01808" opacity="0.9"/>
<circle cx="41.5" cy="58.7" r="2.9" fill="#700c06" opacity="0.9"/>
<circle cx="56.0" cy="49.4" r="1.6" fill="#b01808" opacity="0.9"/>
<circle cx="38.4" cy="84.5" r="2.1" fill="#b01808" opacity="0.9"/>
<circle cx="91.5" cy="35.5" r="2.6" fill="#b01808" opacity="0.9"/>
<circle cx="55.4" cy="70.4" r="2.1" fill="#d42410" opacity="0.9"/>
<circle cx="37.0" cy="87.8" r="3.3" fill="#700c06" opacity="0.9"/>
<circle cx="102.6" cy="49.8" r="3.3" fill="#700c06" opacity="0.9"/>
<circle cx="190.4" cy="68.0" r="2.2" fill="#a0701c" opacity="0.9"/>
<circle cx="150.5" cy="18.0" r="2.1" fill="#700c06" opacity="0.9"/>
<circle cx="90.0" cy="25.8" r="2.0" fill="#700c06" opacity="0.9"/>
<circle cx="132.3" cy="61.8" r="2.7" fill="#b01808" opacity="0.9"/>
<circle cx="169.3" cy="24.5" r="1.8" fill="#700c06" opacity="0.9"/>
<circle cx="115.3" cy="37.2" r="2.3" fill="#d42410" opacity="0.9"/>
<circle cx="133.8" cy="68.2" r="2.7" fill="#700c06" opacity="0.9"/>
<circle cx="69.7" cy="85.0" r="2.3" fill="#b01808" opacity="0.9"/>
<circle cx="34.9" cy="30.8" r="1.8" fill="#d42410" opacity="0.9"/>
<circle cx="56.1" cy="31.7" r="3.4" fill="#b01808" opacity="0.9"/>
<circle cx="86.8" cy="51.0" r="1.5" fill="#d42410" opacity="0.9"/>
<circle cx="105.7" cy="75.4" r="3.0" fill="#d42410" opacity="0.9"/>
<circle cx="157.6" cy="43.3" r="1.5" fill="#700c06" opacity="0.9"/>
<circle cx="131.5" cy="35.9" r="2.9" fill="#d42410" opacity="0.9"/>
<circle cx="141.4" cy="57.4" r="2.2" fill="#b01808" opacity="0.9"/>
<circle cx="103.0" cy="56.5" r="3.0" fill="#b01808" opacity="0.9"/>
<circle cx="29.9" cy="37.3" r="3.2" fill="#b01808" opacity="0.9"/>
<circle cx="113.9" cy="71.1" r="1.9" fill="#d42410" opacity="0.9"/>
<circle cx="142.0" cy="38.6" r="3.2" fill="#b01808" opacity="0.9"/>
<circle cx="131.2" cy="81.3" r="2.7" fill="#700c06" opacity="0.9"/>
<circle cx="200.0" cy="48.3" r="1.7" fill="#a0701c" opacity="0.9"/>
<circle cx="95.4" cy="28.8" r="2.4" fill="#d42410" opacity="0.9"/>
<circle cx="173.0" cy="56.1" r="1.6" fill="#d42410" opacity="0.9"/>
<circle cx="77.0" cy="16.0" r="2.3" fill="#b01808" opacity="0.9"/>
<circle cx="195.5" cy="62.7" r="3.0" fill="#700c06" opacity="0.9"/>
<circle cx="164.6" cy="20.5" r="1.4" fill="#d42410" opacity="0.9"/>
<circle cx="43.0" cy="61.4" r="1.5" fill="#d42410" opacity="0.9"/>
<circle cx="70.8" cy="30.7" r="2.9" fill="#b01808" opacity="0.9"/>
<circle cx="96.5" cy="39.4" r="3.3" fill="#b01808" opacity="0.9"/>
<circle cx="121.3" cy="67.9" r="2.8" fill="#a0701c" opacity="0.9"/>
<circle cx="88.7" cy="14.6" r="2.0" fill="#700c06" opacity="0.9"/>
<circle cx="122.0" cy="16.1" r="2.0" fill="#700c06" opacity="0.9"/>
<circle cx="188.1" cy="82.3" r="1.7" fill="#700c06" opacity="0.9"/>
<circle cx="146.6" cy="38.1" r="2.1" fill="#b01808" opacity="0.9"/>
<circle cx="181.6" cy="49.3" r="2.8" fill="#b01808" opacity="0.9"/>
<circle cx="187.4" cy="82.1" r="2.9" fill="#700c06" opacity="0.9"/>
<circle cx="132.1" cy="49.4" r="2.3" fill="#b01808" opacity="0.9"/>
<circle cx="97.9" cy="82.0" r="3.3" fill="#b01808" opacity="0.9"/>
<circle cx="123.5" cy="77.7" r="2.3" fill="#b01808" opacity="0.9"/>
<circle cx="142.5" cy="71.6" r="1.4" fill="#d42410" opacity="0.9"/>
<circle cx="65.9" cy="24.3" r="3.0" fill="#c87020" opacity="0.9"/>
<circle cx="164.6" cy="18.6" r="3.2" fill="#d42410" opacity="0.9"/>
<circle cx="184.9" cy="47.7" r="1.7" fill="#b01808" opacity="0.9"/>
<circle cx="100.2" cy="71.7" r="1.5" fill="#b85a18" opacity="0.9"/>
<circle cx="161.6" cy="14.4" r="3.0" fill="#d42410" opacity="0.9"/>
<circle cx="42.6" cy="34.4" r="2.8" fill="#700c06" opacity="0.9"/>
<circle cx="109.4" cy="85.3" r="2.5" fill="#d42410" opacity="0.9"/>
<circle cx="164.9" cy="45.3" r="3.2" fill="#700c06" opacity="0.9"/>
<circle cx="64.4" cy="54.7" r="2.4" fill="#700c06" opacity="0.9"/>
<circle cx="152.0" cy="41.0" r="2.7" fill="#700c06" opacity="0.9"/>
<circle cx="93.5" cy="67.1" r="1.7" fill="#b01808" opacity="0.9"/>
<circle cx="30.1" cy="88.0" r="3.0" fill="#700c06" opacity="0.9"/>
<circle cx="96.2" cy="63.8" r="1.8" fill="#700c06" opacity="0.9"/>
<circle cx="85.3" cy="84.5" r="2.4" fill="#d42410" opacity="0.9"/>
<circle cx="171.4" cy="21.2" r="1.5" fill="#700c06" opacity="0.9"/>
<circle cx="150.8" cy="27.7" r="2.1" fill="#d42410" opacity="0.9"/>
<circle cx="43.9" cy="31.1" r="1.5" fill="#700c06" opacity="0.9"/>
<circle cx="40.9" cy="82.7" r="2.1" fill="#b01808" opacity="0.9"/>
<circle cx="161.0" cy="75.3" r="2.0" fill="#b01808" opacity="0.9"/>
<circle cx="31.0" cy="44.1" r="2.7" fill="#a0701c" opacity="0.9"/>
<circle cx="198.8" cy="53.7" r="1.8" fill="#700c06" opacity="0.9"/>
<circle cx="104.6" cy="55.7" r="1.7" fill="#b01808" opacity="0.9"/>
<circle cx="46.1" cy="67.3" r="1.8" fill="#b01808" opacity="0.9"/>
<circle cx="68.8" cy="59.8" r="2.3" fill="#b01808" opacity="0.9"/>
<circle cx="32.9" cy="63.3" r="2.9" fill="#700c06" opacity="0.9"/>
<circle cx="100.5" cy="39.1" r="1.4" fill="#d42410" opacity="0.9"/>
<circle cx="181.1" cy="47.9" r="2.8" fill="#700c06" opacity="0.9"/>
<circle cx="122.8" cy="19.0" r="3.2" fill="#700c06" opacity="0.9"/>
<circle cx="146.8" cy="41.3" r="2.9" fill="#b01808" opacity="0.9"/>
<circle cx="131.7" cy="74.6" r="2.2" fill="#b01808" opacity="0.9"/>
<circle cx="189.2" cy="88.5" r="1.5" fill="#d42410" opacity="0.9"/>
<circle cx="185.1" cy="60.0" r="2.6" fill="#d42410" opacity="0.9"/>
<circle cx="99.6" cy="16.8" r="2.4" fill="#700c06" opacity="0.9"/>
<circle cx="163.9" cy="67.9" r="2.9" fill="#b01808" opacity="0.9"/>
<circle cx="46.0" cy="40.0" r="3.2" fill="#c87020" opacity="0.9"/>
<circle cx="158.3" cy="50.4" r="3.4" fill="#d42410" opacity="0.9"/>
<circle cx="99.1" cy="46.5" r="2.4" fill="#a0701c" opacity="0.9"/>
<circle cx="118.4" cy="45.5" r="1.3" fill="#a0701c" opacity="0.9"/>
<circle cx="184.0" cy="68.7" r="2.5" fill="#d42410" opacity="0.9"/>
<circle cx="131.0" cy="19.5" r="1.5" fill="#b01808" opacity="0.9"/>
<circle cx="96.9" cy="18.2" r="2.7" fill="#b01808" opacity="0.9"/>
<circle cx="81.3" cy="43.7" r="1.7" fill="#700c06" opacity="0.9"/>
<circle cx="195.5" cy="63.8" r="3.1" fill="#b01808" opacity="0.9"/>
<circle cx="70.5" cy="36.5" r="1.9" fill="#700c06" opacity="0.9"/>
<circle cx="33.7" cy="81.1" r="1.9" fill="#b01808" opacity="0.9"/>
<circle cx="197.4" cy="49.4" r="1.7" fill="#700c06" opacity="0.9"/>
<circle cx="183.4" cy="28.8" r="3.0" fill="#b01808" opacity="0.9"/>
<circle cx="58.0" cy="79.7" r="3.4" fill="#700c06" opacity="0.9"/>
<circle cx="61.4" cy="79.7" r="1.3" fill="#700c06" opacity="0.9"/>
<circle cx="82.4" cy="81.2" r="3.1" fill="#b01808" opacity="0.9"/>
<circle cx="81.4" cy="67.1" r="1.6" fill="#700c06" opacity="0.9"/>
<circle cx="143.3" cy="73.0" r="2.0" fill="#b01808" opacity="0.9"/>
<circle cx="130.4" cy="31.3" r="1.9" fill="#c87020" opacity="0.9"/>
<circle cx="51.2" cy="63.9" r="2.2" fill="#700c06" opacity="0.9"/>
<circle cx="41.1" cy="81.7" r="1.2" fill="#b01808" opacity="0.9"/>
<circle cx="101.6" cy="56.5" r="1.6" fill="#b85a18" opacity="0.9"/>
<circle cx="76.6" cy="55.0" r="1.6" fill="#d42410" opacity="0.9"/>
<circle cx="34.1" cy="48.6" r="2.9" fill="#b01808" opacity="0.9"/>
<circle cx="114.8" cy="27.7" r="2.4" fill="#b01808" opacity="0.9"/>
<circle cx="142.2" cy="72.5" r="2.3" fill="#b01808" opacity="0.9"/>
<circle cx="146.7" cy="53.0" r="3.3" fill="#700c06" opacity="0.9"/>
<circle cx="56.9" cy="59.5" r="1.7" fill="#b01808" opacity="0.9"/>
<circle cx="164.4" cy="73.1" r="1.7" fill="#b01808" opacity="0.9"/>
<circle cx="128.7" cy="51.4" r="1.3" fill="#b01808" opacity="0.9"/>
<circle cx="114.1" cy="46.6" r="2.2" fill="#700c06" opacity="0.9"/>
<circle cx="40.8" cy="81.7" r="2.5" fill="#b01808" opacity="0.9"/>
<circle cx="69.5" cy="25.2" r="1.9" fill="#700c06" opacity="0.9"/>
<circle cx="170.3" cy="27.0" r="1.8" fill="#700c06" opacity="0.9"/>
<circle cx="172.1" cy="72.8" r="1.3" fill="#b01808" opacity="0.9"/>
<circle cx="65.7" cy="86.4" r="1.3" fill="#b01808" opacity="0.9"/>
<circle cx="69.9" cy="80.4" r="1.5" fill="#b01808" opacity="0.9"/>
<circle cx="101.7" cy="20.0" r="1.3" fill="#a0701c" opacity="0.9"/>
<circle cx="134.3" cy="36.3" r="1.5" fill="#d42410" opacity="0.9"/>
<circle cx="43.2" cy="31.2" r="1.9" fill="#b85a18" opacity="0.9"/>
<circle cx="35.2" cy="44.2" r="2.6" fill="#700c06" opacity="0.9"/>
<circle cx="148.5" cy="78.5" r="2.5" fill="#d42410" opacity="0.9"/>
<circle cx="96.3" cy="76.9" r="2.0" fill="#d42410" opacity="0.9"/>
<circle cx="88.4" cy="27.9" r="2.4" fill="#700c06" opacity="0.9"/>
<circle cx="65.4" cy="49.1" r="1.9" fill="#b01808" opacity="0.9"/>
<circle cx="147.9" cy="41.3" r="1.8" fill="#700c06" opacity="0.9"/>
<circle cx="90.8" cy="25.7" r="3.3" fill="#b01808" opacity="0.9"/>
<circle cx="153.5" cy="81.7" r="1.2" fill="#b01808" opacity="0.9"/>
<circle cx="42.7" cy="79.9" r="1.9" fill="#d42410" opacity="0.9"/>
<circle cx="37.8" cy="43.6" r="1.7" fill="#700c06" opacity="0.9"/>
<circle cx="131.3" cy="16.7" r="1.9" fill="#b01808" opacity="0.9"/>
<circle cx="51.8" cy="66.8" r="1.8" fill="#d42410" opacity="0.9"/>
<circle cx="53.8" cy="29.5" r="1.8" fill="#b01808" opacity="0.9"/>
<circle cx="95.2" cy="78.6" r="1.7" fill="#700c06" opacity="0.9"/>
<circle cx="65.6" cy="17.3" r="1.3" fill="#b01808" opacity="0.9"/>
<circle cx="168.2" cy="86.8" r="1.9" fill="#b01808" opacity="0.9"/>
<circle cx="65.7" cy="65.5" r="2.7" fill="#b85a18" opacity="0.9"/>
<circle cx="113.1" cy="83.4" r="1.8" fill="#b01808" opacity="0.9"/>
<circle cx="188.4" cy="29.3" r="2.9" fill="#b01808" opacity="0.9"/>
<circle cx="118.3" cy="69.5" r="3.2" fill="#d42410" opacity="0.9"/>
<circle cx="72.8" cy="77.7" r="1.9" fill="#b85a18" opacity="0.9"/>
<circle cx="91.3" cy="19.0" r="2.1" fill="#700c06" opacity="0.9"/>
<circle cx="88.3" cy="80.6" r="2.4" fill="#700c06" opacity="0.9"/>
<circle cx="60.5" cy="49.2" r="2.6" fill="#a0701c" opacity="0.9"/>
<circle cx="150.7" cy="30.4" r="1.4" fill="#700c06" opacity="0.9"/>
<circle cx="134.3" cy="19.0" r="1.4" fill="#b01808" opacity="0.9"/>
<circle cx="195.5" cy="42.9" r="3.0" fill="#b01808" opacity="0.9"/>
<circle cx="113.9" cy="49.4" r="1.2" fill="#b01808" opacity="0.9"/>
<circle cx="73.0" cy="30.7" r="2.3" fill="#b85a18" opacity="0.9"/>
<circle cx="69.7" cy="51.0" r="2.6" fill="#b01808" opacity="0.9"/>
<circle cx="125.3" cy="76.1" r="3.3" fill="#b01808" opacity="0.9"/>
<circle cx="181.6" cy="37.6" r="2.8" fill="#b01808" opacity="0.9"/>
<circle cx="195.1" cy="75.6" r="1.6" fill="#b01808" opacity="0.9"/>
<circle cx="125.8" cy="41.8" r="1.8" fill="#d42410" opacity="0.9"/>
<circle cx="69.3" cy="32.8" r="1.9" fill="#700c06" opacity="0.9"/>
<circle cx="50.1" cy="19.0" r="1.4" fill="#700c06" opacity="0.9"/>
<circle cx="47.8" cy="47.9" r="2.9" fill="#b01808" opacity="0.9"/>
<circle cx="178.2" cy="78.9" r="1.3" fill="#700c06" opacity="0.9"/>
<circle cx="166.1" cy="43.4" r="2.8" fill="#700c06" opacity="0.9"/>
<circle cx="126.5" cy="45.6" r="2.8" fill="#b01808" opacity="0.9"/>
<circle cx="166.9" cy="23.6" r="2.0" fill="#b01808" opacity="0.9"/>
<circle cx="60.2" cy="15.3" r="2.5" fill="#b85a18" opacity="0.9"/>
<circle cx="74.7" cy="34.4" r="1.8" fill="#b01808" opacity="0.9"/>
<circle cx="145.8" cy="24.6" r="1.5" fill="#b85a18" opacity="0.9"/>
<circle cx="77.8" cy="68.6" r="3.4" fill="#700c06" opacity="0.9"/>
<circle cx="32.9" cy="54.6" r="2.3" fill="#b01808" opacity="0.9"/>
<circle cx="166.8" cy="76.6" r="1.8" fill="#b01808" opacity="0.9"/>
<circle cx="166.7" cy="25.2" r="1.6" fill="#700c06" opacity="0.9"/>
<circle cx="126.2" cy="25.0" r="2.6" fill="#700c06" opacity="0.9"/>
<circle cx="182.7" cy="37.3" r="1.4" fill="#700c06" opacity="0.9"/>
<circle cx="200.8" cy="29.3" r="3.1" fill="#b01808" opacity="0.9"/>
<circle cx="167.9" cy="43.7" r="1.3" fill="#b01808" opacity="0.9"/>
<circle cx="136.1" cy="34.9" r="3.3" fill="#d42410" opacity="0.9"/>
<circle cx="57.5" cy="23.1" r="1.4" fill="#b01808" opacity="0.9"/>
<circle cx="81.9" cy="52.5" r="1.2" fill="#700c06" opacity="0.9"/>
<circle cx="30.2" cy="53.5" r="3.0" fill="#d42410" opacity="0.9"/>
<circle cx="97.4" cy="74.0" r="3.0" fill="#d42410" opacity="0.9"/>
<circle cx="45.7" cy="84.9" r="2.1" fill="#b01808" opacity="0.9"/>
<circle cx="185.7" cy="16.0" r="2.5" fill="#700c06" opacity="0.9"/>
<circle cx="92.2" cy="63.1" r="3.0" fill="#b01808" opacity="0.9"/>
<circle cx="86.2" cy="69.4" r="1.7" fill="#d42410" opacity="0.9"/>
<circle cx="146.0" cy="27.5" r="1.4" fill="#700c06" opacity="0.9"/>
<circle cx="102.8" cy="15.0" r="2.3" fill="#b01808" opacity="0.9"/>
<circle cx="158.8" cy="22.4" r="3.4" fill="#b01808" opacity="0.9"/>
<circle cx="199.5" cy="25.3" r="2.6" fill="#b01808" opacity="0.9"/>
<circle cx="65.0" cy="60.1" r="3.2" fill="#d42410" opacity="0.9"/>
<circle cx="115.6" cy="56.5" r="1.5" fill="#d42410" opacity="0.9"/>
<circle cx="106.7" cy="63.7" r="2.1" fill="#b01808" opacity="0.9"/>
<circle cx="132.2" cy="56.9" r="2.3" fill="#700c06" opacity="0.9"/>
<circle cx="105.6" cy="58.4" r="2.5" fill="#c87020" opacity="0.9"/>
<circle cx="85.1" cy="33.3" r="2.6" fill="#700c06" opacity="0.9"/>
<circle cx="123.7" cy="18.2" r="3.3" fill="#d42410" opacity="0.9"/>
<circle cx="47.5" cy="28.2" r="3.2" fill="#d42410" opacity="0.9"/>
<circle cx="48.1" cy="22.0" r="1.8" fill="#700c06" opacity="0.9"/>
<circle cx="34.9" cy="39.7" r="2.3" fill="#b01808" opacity="0.9"/>
<circle cx="30.8" cy="46.0" r="2.3" fill="#b85a18" opacity="0.9"/>
<circle cx="124.3" cy="72.8" r="2.3" fill="#700c06" opacity="0.9"/>
<circle cx="176.2" cy="71.6" r="2.4" fill="#b85a18" opacity="0.9"/>
<circle cx="168.7" cy="27.6" r="1.9" fill="#b85a18" opacity="0.9"/>
<circle cx="172.6" cy="23.0" r="1.6" fill="#b01808" opacity="0.9"/>
<circle cx="135.1" cy="81.3" r="1.4" fill="#a0701c" opacity="0.9"/>
<circle cx="83.0" cy="85.4" r="3.3" fill="#b01808" opacity="0.9"/>
<circle cx="93.7" cy="75.0" r="2.7" fill="#d42410" opacity="0.9"/>
<circle cx="142.2" cy="29.8" r="1.7" fill="#d42410" opacity="0.9"/>
<circle cx="128.7" cy="17.4" r="1.8" fill="#700c06" opacity="0.9"/>
<circle cx="136.1" cy="37.1" r="1.2" fill="#700c06" opacity="0.9"/>
<circle cx="49.7" cy="21.4" r="2.3" fill="#b01808" opacity="0.9"/>
<circle cx="140.5" cy="31.1" r="2.3" fill="#700c06" opacity="0.9"/>
<circle cx="66.4" cy="61.8" r="2.0" fill="#b01808" opacity="0.9"/>
<circle cx="142.2" cy="34.2" r="2.7" fill="#700c06" opacity="0.9"/>
<circle cx="30.9" cy="42.2" r="2.5" fill="#d42410" opacity="0.9"/>
<circle cx="76.4" cy="21.9" r="3.1" fill="#d42410" opacity="0.9"/>
<circle cx="33.5" cy="58.2" r="2.7" fill="#b85a18" opacity="0.9"/>
<circle cx="143.9" cy="25.9" r="1.4" fill="#700c06" opacity="0.9"/>
<circle cx="165.0" cy="46.5" r="1.7" fill="#b01808" opacity="0.9"/>
<circle cx="38.2" cy="88.6" r="2.6" fill="#d42410" opacity="0.9"/>
<circle cx="117.9" cy="57.7" r="2.3" fill="#d42410" opacity="0.9"/>
<circle cx="44.9" cy="73.3" r="1.2" fill="#a0701c" opacity="0.9"/>
<circle cx="185.1" cy="63.6" r="3.3" fill="#b01808" opacity="0.9"/>
<circle cx="103.2" cy="25.9" r="2.0" fill="#b01808" opacity="0.9"/>
<circle cx="180.9" cy="22.4" r="2.1" fill="#b01808" opacity="0.9"/>
<circle cx="69.5" cy="63.5" r="2.3" fill="#b01808" opacity="0.9"/>
<circle cx="70.8" cy="58.2" r="2.2" fill="#b85a18" opacity="0.9"/>
<circle cx="124.9" cy="48.4" r="3.1" fill="#700c06" opacity="0.9"/>
<circle cx="55.1" cy="86.4" r="2.4" fill="#b01808" opacity="0.9"/>
<circle cx="169.9" cy="68.9" r="2.8" fill="#700c06" opacity="0.9"/>
<circle cx="33.2" cy="22.5" r="1.9" fill="#b85a18" opacity="0.9"/>
<circle cx="95.7" cy="36.6" r="1.7" fill="#b01808" opacity="0.9"/>
<circle cx="100.8" cy="80.8" r="1.6" fill="#b85a18" opacity="0.9"/>
<circle cx="126.5" cy="51.5" r="3.2" fill="#b01808" opacity="0.9"/>
<circle cx="90.3" cy="46.3" r="2.2" fill="#700c06" opacity="0.9"/>
<circle cx="39.0" cy="53.5" r="2.4" fill="#b01808" opacity="0.9"/>
<circle cx="45.5" cy="41.9" r="1.9" fill="#b01808" opacity="0.9"/>
<circle cx="158.0" cy="50.5" r="1.2" fill="#b01808" opacity="0.9"/>
<circle cx="29.5" cy="58.4" r="3.3" fill="#b01808" opacity="0.9"/>
<circle cx="92.1" cy="36.7" r="2.5" fill="#b01808" opacity="0.9"/>
<circle cx="71.9" cy="34.4" r="3.0" fill="#b01808" opacity="0.9"/>
<circle cx="97.9" cy="35.5" r="2.7" fill="#700c06" opacity="0.9"/>
<circle cx="172.2" cy="38.7" r="1.9" fill="#d42410" opacity="0.9"/>
<circle cx="139.4" cy="18.5" r="2.9" fill="#700c06" opacity="0.9"/>
<circle cx="123.8" cy="83.2" r="2.6" fill="#700c06" opacity="0.9"/>
<circle cx="158.5" cy="57.4" r="1.2" fill="#d42410" opacity="0.9"/>
<circle cx="145.9" cy="87.4" r="3.2" fill="#700c06" opacity="0.9"/>
<circle cx="104.5" cy="70.1" r="2.0" fill="#b01808" opacity="0.9"/>
<circle cx="48.7" cy="38.1" r="2.8" fill="#700c06" opacity="0.9"/>
<circle cx="172.6" cy="63.8" r="2.4" fill="#700c06" opacity="0.9"/>
<circle cx="81.9" cy="85.2" r="2.4" fill="#c87020" opacity="0.9"/>
<circle cx="84.4" cy="24.7" r="3.3" fill="#700c06" opacity="0.9"/>
<circle cx="98.8" cy="80.9" r="3.2" fill="#700c06" opacity="0.9"/>
<circle cx="113.8" cy="46.8" r="3.0" fill="#b01808" opacity="0.9"/>
<circle cx="170.7" cy="62.7" r="2.0" fill="#d42410" opacity="0.9"/>
<circle cx="106.6" cy="58.0" r="2.2" fill="#d42410" opacity="0.9"/>
<circle cx="150.1" cy="43.7" r="1.4" fill="#b01808" opacity="0.9"/>
<circle cx="59.4" cy="45.0" r="2.4" fill="#b01808" opacity="0.9"/>
<circle cx="60.5" cy="60.4" r="2.7" fill="#b01808" opacity="0.9"/>
<circle cx="200.2" cy="40.4" r="1.6" fill="#b01808" opacity="0.9"/>
<circle cx="105.6" cy="86.4" r="2.0" fill="#b01808" opacity="0.9"/>
<circle cx="55.3" cy="87.6" r="3.1" fill="#d42410" opacity="0.9"/>
<circle cx="56.5" cy="28.4" r="1.6" fill="#c87020" opacity="0.9"/>
<circle cx="91.3" cy="85.0" r="2.8" fill="#700c06" opacity="0.9"/>
<circle cx="72.2" cy="36.1" r="1.8" fill="#700c06" opacity="0.9"/>
<circle cx="75.5" cy="35.5" r="1.8" fill="#b01808" opacity="0.9"/>
<circle cx="56.0" cy="78.2" r="3.1" fill="#b01808" opacity="0.9"/>
<circle cx="155.3" cy="54.0" r="2.7" fill="#c87020" opacity="0.9"/>
<circle cx="111.5" cy="65.3" r="2.0" fill="#700c06" opacity="0.9"/>
<circle cx="75.1" cy="68.3" r="3.1" fill="#700c06" opacity="0.9"/>
<circle cx="189.8" cy="85.7" r="1.6" fill="#b01808" opacity="0.9"/>
<circle cx="52.7" cy="84.8" r="2.7" fill="#700c06" opacity="0.9"/>
<circle cx="53.0" cy="81.3" r="3.3" fill="#a0701c" opacity="0.9"/>
<circle cx="41.7" cy="53.5" r="1.6" fill="#b01808" opacity="0.9"/>
<circle cx="114.6" cy="29.0" r="2.8" fill="#b01808" opacity="0.9"/>
<circle cx="41.9" cy="50.5" r="2.4" fill="#b85a18" opacity="0.9"/>
<circle cx="183.9" cy="33.3" r="1.7" fill="#700c06" opacity="0.9"/>
<circle cx="121.9" cy="79.1" r="1.5" fill="#b01808" opacity="0.9"/>
<circle cx="133.6" cy="73.4" r="3.4" fill="#b01808" opacity="0.9"/>
<circle cx="83.0" cy="26.9" r="2.9" fill="#700c06" opacity="0.9"/>
<circle cx="47.2" cy="36.4" r="1.9" fill="#b85a18" opacity="0.9"/>
<circle cx="171.8" cy="65.5" r="2.3" fill="#b01808" opacity="0.9"/>
<circle cx="168.1" cy="14.4" r="1.3" fill="#d42410" opacity="0.9"/>
<circle cx="145.1" cy="48.1" r="1.7" fill="#d42410" opacity="0.9"/>
<circle cx="54.2" cy="33.1" r="2.3" fill="#d42410" opacity="0.9"/>
<circle cx="69.5" cy="62.9" r="1.8" fill="#b01808" opacity="0.9"/>
<circle cx="180.0" cy="28.0" r="1.7" fill="#b01808" opacity="0.9"/>
<circle cx="160.4" cy="32.5" r="1.7" fill="#b01808" opacity="0.9"/>
<circle cx="92.4" cy="40.8" r="3.2" fill="#b85a18" opacity="0.9"/>
<circle cx="100.8" cy="64.1" r="1.7" fill="#c87020" opacity="0.9"/>
<circle cx="125.6" cy="84.4" r="1.3" fill="#b85a18" opacity="0.9"/>
<circle cx="114.6" cy="42.6" r="1.3" fill="#b85a18" opacity="0.9"/>
<circle cx="56.0" cy="50.9" r="1.7" fill="#b01808" opacity="0.9"/>
<circle cx="51.9" cy="74.0" r="1.9" fill="#700c06" opacity="0.9"/>
<circle cx="149.7" cy="31.9" r="3.1" fill="#d42410" opacity="0.9"/>
<circle cx="91.9" cy="68.3" r="3.2" fill="#700c06" opacity="0.9"/>
<circle cx="198.4" cy="68.2" r="2.7" fill="#700c06" opacity="0.9"/>
<circle cx="129.1" cy="34.6" r="2.3" fill="#d42410" opacity="0.9"/>
<circle cx="195.3" cy="61.7" r="1.4" fill="#b01808" opacity="0.9"/>
<circle cx="53.8" cy="49.2" r="2.7" fill="#b01808" opacity="0.9"/>
<circle cx="122.3" cy="35.2" r="1.3" fill="#b01808" opacity="0.9"/>
<circle cx="194.6" cy="16.1" r="2.1" fill="#b85a18" opacity="0.9"/>
<circle cx="73.4" cy="60.3" r="2.0" fill="#b01808" opacity="0.9"/>
<circle cx="121.7" cy="48.5" r="1.9" fill="#a0701c" opacity="0.9"/>
<circle cx="175.9" cy="79.8" r="1.6" fill="#b01808" opacity="0.9"/>
<circle cx="78.2" cy="27.0" r="2.8" fill="#700c06" opacity="0.9"/>
<circle cx="55.6" cy="84.7" r="1.8" fill="#700c06" opacity="0.9"/>
<circle cx="88.3" cy="55.9" r="2.3" fill="#c87020" opacity="0.9"/>
<circle cx="146.9" cy="63.5" r="2.1" fill="#b01808" opacity="0.9"/>
<circle cx="53.0" cy="16.3" r="2.4" fill="#700c06" opacity="0.9"/>
<circle cx="37.0" cy="57.6" r="2.1" fill="#700c06" opacity="0.9"/>
<circle cx="177.0" cy="25.6" r="1.9" fill="#b01808" opacity="0.9"/>
<circle cx="188.6" cy="62.3" r="2.7" fill="#b01808" opacity="0.9"/>
<circle cx="143.9" cy="23.8" r="1.7" fill="#d42410" opacity="0.9"/>
<circle cx="79.8" cy="79.8" r="1.5" fill="#b01808" opacity="0.9"/>
<circle cx="35.9" cy="74.4" r="3.3" fill="#b01808" opacity="0.9"/>
<circle cx="139.7" cy="64.5" r="2.1" fill="#a0701c" opacity="0.9"/>
<circle cx="55.9" cy="33.6" r="1.8" fill="#b01808" opacity="0.9"/>
<circle cx="133.9" cy="71.9" r="1.8" fill="#b01808" opacity="0.9"/>
<circle cx="157.9" cy="64.0" r="2.2" fill="#b01808" opacity="0.9"/>
<circle cx="158.4" cy="14.5" r="1.8" fill="#b01808" opacity="0.9"/>
<circle cx="67.2" cy="67.1" r="1.3" fill="#d42410" opacity="0.9"/>
<circle cx="197.7" cy="31.5" r="2.6" fill="#700c06" opacity="0.9"/>
<circle cx="102.9" cy="49.0" r="2.7" fill="#700c06" opacity="0.9"/>
<circle cx="150.3" cy="18.0" r="2.9" fill="#b01808" opacity="0.9"/>
<circle cx="189.7" cy="41.4" r="2.2" fill="#b01808" opacity="0.9"/>
<circle cx="194.2" cy="36.3" r="3.1" fill="#d42410" opacity="0.9"/>
<circle cx="102.6" cy="49.7" r="2.1" fill="#b01808" opacity="0.9"/>
<circle cx="188.3" cy="51.5" r="3.3" fill="#b01808" opacity="0.9"/>
<circle cx="30.4" cy="20.8" r="1.6" fill="#b85a18" opacity="0.9"/>
<circle cx="123.7" cy="34.6" r="2.8" fill="#d42410" opacity="0.9"/>
<circle cx="161.0" cy="62.4" r="2.8" fill="#b01808" opacity="0.9"/>
<circle cx="40.6" cy="34.3" r="2.7" fill="#b01808" opacity="0.9"/>
<circle cx="101.9" cy="56.9" r="2.8" fill="#b01808" opacity="0.9"/>
<circle cx="146.2" cy="60.0" r="1.3" fill="#b01808" opacity="0.9"/>
<circle cx="37.8" cy="49.5" r="1.2" fill="#700c06" opacity="0.9"/>
<circle cx="109.4" cy="22.1" r="3.3" fill="#d42410" opacity="0.9"/>
<circle cx="130.0" cy="37.7" r="3.4" fill="#700c06" opacity="0.9"/>
<circle cx="66.5" cy="78.6" r="2.3" fill="#b01808" opacity="0.9"/>
<circle cx="181.8" cy="33.4" r="2.9" fill="#b01808" opacity="0.9"/>
<circle cx="91.6" cy="46.8" r="2.2" fill="#b01808" opacity="0.9"/>
<circle cx="99.4" cy="36.9" r="2.9" fill="#b01808" opacity="0.9"/>
<circle cx="180.5" cy="48.1" r="2.0" fill="#d42410" opacity="0.9"/>
<circle cx="141.3" cy="31.1" r="2.9" fill="#b01808" opacity="0.9"/>
<circle cx="87.4" cy="67.2" r="1.2" fill="#b01808" opacity="0.9"/>
<circle cx="73.2" cy="59.9" r="1.7" fill="#b01808" opacity="0.9"/>
<circle cx="62.3" cy="82.1" r="1.3" fill="#b01808" opacity="0.9"/>
<circle cx="173.2" cy="43.4" r="2.5" fill="#b01808" opacity="0.9"/>
<circle cx="157.5" cy="57.3" r="1.8" fill="#b01808" opacity="0.9"/>
<circle cx="114.0" cy="26.7" r="2.6" fill="#d42410" opacity="0.9"/>
<circle cx="78.3" cy="74.2" r="2.1" fill="#700c06" opacity="0.9"/>
<circle cx="107.9" cy="53.7" r="3.4" fill="#b01808" opacity="0.9"/>
<circle cx="89.3" cy="70.7" r="1.4" fill="#b01808" opacity="0.9"/>
<circle cx="147.7" cy="75.9" r="2.0" fill="#700c06" opacity="0.9"/>
<circle cx="121.3" cy="16.1" r="2.0" fill="#b01808" opacity="0.9"/>
<circle cx="82.1" cy="79.1" r="3.3" fill="#700c06" opacity="0.9"/>
<circle cx="48.7" cy="20.7" r="2.9" fill="#d42410" opacity="0.9"/>
<circle cx="112.9" cy="66.0" r="1.3" fill="#d42410" opacity="0.9"/>
<circle cx="64.9" cy="66.6" r="2.7" fill="#b01808" opacity="0.9"/>
<circle cx="66.1" cy="49.5" r="1.9" fill="#b01808" opacity="0.9"/>
<circle cx="126.9" cy="59.6" r="3.4" fill="#700c06" opacity="0.9"/>
<circle cx="135.5" cy="25.5" r="3.3" fill="#b01808" opacity="0.9"/>
<circle cx="102.9" cy="75.8" r="3.2" fill="#b01808" opacity="0.9"/>
<circle cx="89.7" cy="66.8" r="1.7" fill="#d42410" opacity="0.9"/>
<circle cx="148.7" cy="19.0" r="3.1" fill="#b01808" opacity="0.9"/>
<circle cx="44.8" cy="17.6" r="2.0" fill="#c87020" opacity="0.9"/>
<circle cx="39.1" cy="21.9" r="1.2" fill="#b01808" opacity="0.9"/>
<circle cx="75.5" cy="63.9" r="2.7" fill="#b01808" opacity="0.9"/>
<circle cx="78.3" cy="56.0" r="2.0" fill="#b01808" opacity="0.9"/>
<circle cx="78.8" cy="33.7" r="1.2" fill="#b01808" opacity="0.9"/>
<circle cx="74.8" cy="22.7" r="3.1" fill="#b01808" opacity="0.9"/>
<circle cx="82.3" cy="80.2" r="2.9" fill="#b01808" opacity="0.9"/>
</g><g filter="url(#bl3)">
<ellipse cx="128" cy="64" rx="32" ry="17" fill="#6a7a20" opacity="0.45"/>
</g><g filter="url(#bl2)">
<ellipse cx="148.1" cy="51.5" rx="3.1" ry="2.9" fill="#a8b03a" opacity="0.88" transform="rotate(113 148.1 51.5)"/>
<ellipse cx="119.8" cy="53.9" rx="4.2" ry="2.4" fill="#88b030" opacity="0.88" transform="rotate(75 119.8 53.9)"/>
<ellipse cx="148.0" cy="69.6" rx="3.1" ry="3.0" fill="#90a830" opacity="0.88" transform="rotate(167 148.0 69.6)"/>
<ellipse cx="186.9" cy="76.4" rx="2.7" ry="3.7" fill="#90a830" opacity="0.88" transform="rotate(109 186.9 76.4)"/>
<ellipse cx="95.7" cy="61.8" rx="3.4" ry="3.7" fill="#a8b03a" opacity="0.88" transform="rotate(151 95.7 61.8)"/>
<ellipse cx="160.2" cy="58.3" rx="2.6" ry="2.8" fill="#98b434" opacity="0.88" transform="rotate(172 160.2 58.3)"/>
<ellipse cx="152.1" cy="73.1" rx="3.8" ry="3.6" fill="#7aa82a" opacity="0.88" transform="rotate(66 152.1 73.1)"/>
<ellipse cx="100.2" cy="63.0" rx="3.5" ry="2.5" fill="#98b434" opacity="0.88" transform="rotate(172 100.2 63.0)"/>
<ellipse cx="133.5" cy="29.5" rx="3.6" ry="3.2" fill="#98b434" opacity="0.88" transform="rotate(114 133.5 29.5)"/>
<ellipse cx="109.2" cy="77.0" rx="3.8" ry="3.4" fill="#88b030" opacity="0.88" transform="rotate(89 109.2 77.0)"/>
<ellipse cx="126.6" cy="52.0" rx="3.2" ry="2.1" fill="#90a830" opacity="0.88" transform="rotate(7 126.6 52.0)"/>
<ellipse cx="61.8" cy="39.2" rx="4.2" ry="3.1" fill="#a8b03a" opacity="0.88" transform="rotate(74 61.8 39.2)"/>
<ellipse cx="94.6" cy="66.9" rx="3.8" ry="3.6" fill="#88b030" opacity="0.88" transform="rotate(67 94.6 66.9)"/>
<ellipse cx="87.0" cy="14.4" rx="2.2" ry="2.6" fill="#7aa82a" opacity="0.88" transform="rotate(120 87.0 14.4)"/>
<ellipse cx="199.8" cy="61.7" rx="3.8" ry="2.4" fill="#a8b03a" opacity="0.88" transform="rotate(45 199.8 61.7)"/>
<ellipse cx="144.4" cy="68.4" rx="3.4" ry="3.0" fill="#88b030" opacity="0.88" transform="rotate(173 144.4 68.4)"/>
<ellipse cx="104.7" cy="77.6" rx="4.2" ry="2.3" fill="#7aa82a" opacity="0.88" transform="rotate(15 104.7 77.6)"/>
<ellipse cx="105.1" cy="56.6" rx="2.7" ry="2.3" fill="#7aa82a" opacity="0.88" transform="rotate(79 105.1 56.6)"/>
<ellipse cx="114.2" cy="62.2" rx="3.0" ry="2.3" fill="#90a830" opacity="0.88" transform="rotate(155 114.2 62.2)"/>
<ellipse cx="108.9" cy="56.0" rx="3.7" ry="2.3" fill="#7aa82a" opacity="0.88" transform="rotate(98 108.9 56.0)"/>
<ellipse cx="137.2" cy="54.0" rx="3.3" ry="2.2" fill="#88b030" opacity="0.88" transform="rotate(90 137.2 54.0)"/>
<ellipse cx="163.0" cy="51.2" rx="3.1" ry="2.1" fill="#90a830" opacity="0.88" transform="rotate(141 163.0 51.2)"/>
<ellipse cx="159.4" cy="62.3" rx="3.9" ry="3.2" fill="#98b434" opacity="0.88" transform="rotate(132 159.4 62.3)"/>
<ellipse cx="151.7" cy="65.5" rx="3.9" ry="3.5" fill="#88b030" opacity="0.88" transform="rotate(37 151.7 65.5)"/>
<ellipse cx="140.4" cy="63.9" rx="2.6" ry="2.6" fill="#98b434" opacity="0.88" transform="rotate(109 140.4 63.9)"/>
<ellipse cx="120.5" cy="57.5" rx="4.4" ry="3.5" fill="#a8b03a" opacity="0.88" transform="rotate(160 120.5 57.5)"/>
<ellipse cx="152.9" cy="72.0" rx="3.2" ry="2.8" fill="#7aa82a" opacity="0.88" transform="rotate(116 152.9 72.0)"/>
<ellipse cx="123.5" cy="80.8" rx="2.7" ry="2.6" fill="#88b030" opacity="0.88" transform="rotate(81 123.5 80.8)"/>
<ellipse cx="105.1" cy="71.2" rx="4.0" ry="3.7" fill="#98b434" opacity="0.88" transform="rotate(48 105.1 71.2)"/>
<ellipse cx="167.8" cy="43.9" rx="4.1" ry="2.7" fill="#a8b03a" opacity="0.88" transform="rotate(62 167.8 43.9)"/>
<ellipse cx="98.1" cy="58.7" rx="3.3" ry="3.4" fill="#7aa82a" opacity="0.88" transform="rotate(105 98.1 58.7)"/>
<ellipse cx="172.6" cy="62.9" rx="3.0" ry="2.5" fill="#a8b03a" opacity="0.88" transform="rotate(178 172.6 62.9)"/>
<ellipse cx="108.2" cy="53.9" rx="3.4" ry="3.5" fill="#88b030" opacity="0.88" transform="rotate(157 108.2 53.9)"/>
<ellipse cx="121.2" cy="55.8" rx="3.5" ry="2.2" fill="#88b030" opacity="0.88" transform="rotate(148 121.2 55.8)"/>
<ellipse cx="81.4" cy="79.9" rx="2.7" ry="3.3" fill="#7aa82a" opacity="0.88" transform="rotate(20 81.4 79.9)"/>
<ellipse cx="130.1" cy="66.4" rx="3.2" ry="2.4" fill="#98b434" opacity="0.88" transform="rotate(26 130.1 66.4)"/>
<ellipse cx="117.4" cy="53.3" rx="2.9" ry="2.0" fill="#90a830" opacity="0.88" transform="rotate(58 117.4 53.3)"/>
<ellipse cx="111.7" cy="66.6" rx="2.8" ry="3.2" fill="#98b434" opacity="0.88" transform="rotate(23 111.7 66.6)"/>
<ellipse cx="191.6" cy="63.2" rx="2.5" ry="2.1" fill="#7aa82a" opacity="0.88" transform="rotate(140 191.6 63.2)"/>
<ellipse cx="119.1" cy="63.5" rx="3.6" ry="2.3" fill="#98b434" opacity="0.88" transform="rotate(44 119.1 63.5)"/>
<ellipse cx="170.4" cy="56.4" rx="3.8" ry="3.5" fill="#88b030" opacity="0.88" transform="rotate(11 170.4 56.4)"/>
<ellipse cx="104.8" cy="75.4" rx="2.5" ry="3.8" fill="#98b434" opacity="0.88" transform="rotate(58 104.8 75.4)"/>
<ellipse cx="144.2" cy="66.8" rx="2.9" ry="2.3" fill="#88b030" opacity="0.88" transform="rotate(86 144.2 66.8)"/>
<ellipse cx="175.3" cy="55.1" rx="3.2" ry="2.9" fill="#88b030" opacity="0.88" transform="rotate(118 175.3 55.1)"/>
<ellipse cx="138.8" cy="78.4" rx="3.0" ry="2.0" fill="#7aa82a" opacity="0.88" transform="rotate(159 138.8 78.4)"/>
<ellipse cx="113.3" cy="50.3" rx="2.3" ry="3.1" fill="#98b434" opacity="0.88" transform="rotate(118 113.3 50.3)"/>
<ellipse cx="124.2" cy="82.5" rx="3.5" ry="2.6" fill="#88b030" opacity="0.88" transform="rotate(176 124.2 82.5)"/>
<ellipse cx="146.6" cy="57.1" rx="2.9" ry="2.9" fill="#a8b03a" opacity="0.88" transform="rotate(176 146.6 57.1)"/>
<ellipse cx="161.5" cy="66.4" rx="4.1" ry="3.3" fill="#88b030" opacity="0.88" transform="rotate(88 161.5 66.4)"/>
<ellipse cx="126.4" cy="60.7" rx="2.5" ry="3.7" fill="#90a830" opacity="0.88" transform="rotate(68 126.4 60.7)"/>
</g></g>
<path d="M28.3,14.3 L42.5,14.3 C44,22 44.5,36 43,45 C41,55 37,63 31,71 L28.3,74 Z" fill="#060000"/>
<g clip-path="url(#cpA2)">
<rect x="28.30" y="108.50" width="173.00" height="76.00" fill="#3e0704"/>
<g filter="url(#bl3)">
<ellipse cx="34" cy="146" rx="10" ry="45" fill="#080101" opacity="0.9"/>
<ellipse cx="70" cy="125" rx="25" ry="15" fill="#2a0503" opacity="0.5"/>
</g><g filter="url(#bl1)">
<circle cx="44.8" cy="121.5" r="2.2" fill="#b01808" opacity="0.9"/>
<circle cx="197.2" cy="151.2" r="1.7" fill="#d42410" opacity="0.9"/>
<circle cx="184.4" cy="135.7" r="2.5" fill="#d42410" opacity="0.9"/>
<circle cx="117.0" cy="160.8" r="1.7" fill="#d42410" opacity="0.9"/>
<circle cx="171.1" cy="118.5" r="3.1" fill="#d42410" opacity="0.9"/>
<circle cx="176.6" cy="146.1" r="2.2" fill="#700c06" opacity="0.9"/>
<circle cx="100.0" cy="163.2" r="3.1" fill="#700c06" opacity="0.9"/>
<circle cx="199.9" cy="167.5" r="2.3" fill="#b01808" opacity="0.9"/>
<circle cx="150.4" cy="133.9" r="2.1" fill="#b85a18" opacity="0.9"/>
<circle cx="66.6" cy="119.7" r="1.3" fill="#b01808" opacity="0.9"/>
<circle cx="92.0" cy="180.8" r="1.9" fill="#d42410" opacity="0.9"/>
<circle cx="149.8" cy="126.2" r="2.7" fill="#d42410" opacity="0.9"/>
<circle cx="70.6" cy="120.4" r="3.3" fill="#a0701c" opacity="0.9"/>
<circle cx="113.5" cy="170.8" r="3.1" fill="#700c06" opacity="0.9"/>
<circle cx="146.4" cy="108.7" r="3.2" fill="#d42410" opacity="0.9"/>
<circle cx="90.5" cy="131.2" r="1.5" fill="#700c06" opacity="0.9"/>
<circle cx="104.5" cy="118.0" r="2.5" fill="#d42410" opacity="0.9"/>
<circle cx="122.5" cy="137.1" r="1.7" fill="#b01808" opacity="0.9"/>
<circle cx="112.3" cy="182.9" r="1.5" fill="#d42410" opacity="0.9"/>
<circle cx="199.3" cy="147.2" r="2.0" fill="#d42410" opacity="0.9"/>
<circle cx="37.2" cy="156.5" r="2.2" fill="#b01808" opacity="0.9"/>
<circle cx="69.2" cy="113.3" r="2.2" fill="#b01808" opacity="0.9"/>
<circle cx="70.2" cy="144.3" r="2.0" fill="#d42410" opacity="0.9"/>
<circle cx="72.5" cy="177.3" r="3.4" fill="#b01808" opacity="0.9"/>
<circle cx="106.4" cy="138.9" r="2.3" fill="#b01808" opacity="0.9"/>
<circle cx="182.1" cy="158.9" r="3.2" fill="#700c06" opacity="0.9"/>
<circle cx="154.5" cy="171.7" r="1.9" fill="#700c06" opacity="0.9"/>
<circle cx="107.6" cy="141.9" r="1.5" fill="#700c06" opacity="0.9"/>
<circle cx="195.4" cy="130.8" r="1.6" fill="#d42410" opacity="0.9"/>
<circle cx="80.6" cy="150.4" r="3.4" fill="#d42410" opacity="0.9"/>
<circle cx="135.5" cy="150.7" r="2.4" fill="#b01808" opacity="0.9"/>
<circle cx="159.1" cy="145.0" r="1.7" fill="#700c06" opacity="0.9"/>
<circle cx="115.6" cy="169.0" r="3.3" fill="#700c06" opacity="0.9"/>
<circle cx="170.7" cy="160.2" r="2.8" fill="#700c06" opacity="0.9"/>
<circle cx="105.3" cy="160.2" r="3.0" fill="#a0701c" opacity="0.9"/>
<circle cx="157.9" cy="118.8" r="1.3" fill="#700c06" opacity="0.9"/>
<circle cx="87.9" cy="172.7" r="2.3" fill="#b01808" opacity="0.9"/>
<circle cx="99.6" cy="115.5" r="3.0" fill="#b01808" opacity="0.9"/>
<circle cx="89.0" cy="134.6" r="1.6" fill="#700c06" opacity="0.9"/>
<circle cx="119.8" cy="163.8" r="2.4" fill="#700c06" opacity="0.9"/>
<circle cx="156.9" cy="170.1" r="1.7" fill="#b01808" opacity="0.9"/>
<circle cx="124.6" cy="110.5" r="3.0" fill="#700c06" opacity="0.9"/>
<circle cx="161.7" cy="152.7" r="1.7" fill="#700c06" opacity="0.9"/>
<circle cx="144.6" cy="176.6" r="2.2" fill="#700c06" opacity="0.9"/>
<circle cx="70.3" cy="126.1" r="2.6" fill="#700c06" opacity="0.9"/>
<circle cx="77.4" cy="183.7" r="2.1" fill="#700c06" opacity="0.9"/>
<circle cx="143.3" cy="127.0" r="1.5" fill="#700c06" opacity="0.9"/>
<circle cx="79.4" cy="176.2" r="3.0" fill="#700c06" opacity="0.9"/>
<circle cx="164.4" cy="153.8" r="1.8" fill="#b01808" opacity="0.9"/>
<circle cx="46.7" cy="179.7" r="1.2" fill="#b01808" opacity="0.9"/>
<circle cx="109.8" cy="181.2" r="2.5" fill="#b01808" opacity="0.9"/>
<circle cx="171.2" cy="109.1" r="2.7" fill="#700c06" opacity="0.9"/>
<circle cx="129.5" cy="160.5" r="3.0" fill="#d42410" opacity="0.9"/>
<circle cx="52.7" cy="147.0" r="2.4" fill="#b01808" opacity="0.9"/>
<circle cx="45.7" cy="179.3" r="1.9" fill="#700c06" opacity="0.9"/>
<circle cx="64.4" cy="131.9" r="2.9" fill="#b01808" opacity="0.9"/>
<circle cx="123.3" cy="135.6" r="1.5" fill="#b01808" opacity="0.9"/>
<circle cx="86.9" cy="120.4" r="2.2" fill="#700c06" opacity="0.9"/>
<circle cx="158.5" cy="173.3" r="1.7" fill="#d42410" opacity="0.9"/>
<circle cx="112.4" cy="172.2" r="2.7" fill="#b01808" opacity="0.9"/>
<circle cx="74.8" cy="173.9" r="2.4" fill="#700c06" opacity="0.9"/>
<circle cx="154.1" cy="165.1" r="2.1" fill="#b01808" opacity="0.9"/>
<circle cx="66.7" cy="130.7" r="2.6" fill="#b01808" opacity="0.9"/>
<circle cx="62.9" cy="177.5" r="1.4" fill="#d42410" opacity="0.9"/>
<circle cx="176.3" cy="136.6" r="1.8" fill="#d42410" opacity="0.9"/>
<circle cx="198.4" cy="170.6" r="1.2" fill="#b01808" opacity="0.9"/>
<circle cx="60.9" cy="183.6" r="2.7" fill="#b01808" opacity="0.9"/>
<circle cx="130.3" cy="178.4" r="1.7" fill="#b01808" opacity="0.9"/>
<circle cx="105.0" cy="124.4" r="1.7" fill="#b01808" opacity="0.9"/>
<circle cx="109.0" cy="157.0" r="2.6" fill="#a0701c" opacity="0.9"/>
<circle cx="197.3" cy="150.0" r="1.9" fill="#700c06" opacity="0.9"/>
<circle cx="103.9" cy="160.5" r="1.8" fill="#d42410" opacity="0.9"/>
<circle cx="178.8" cy="141.8" r="2.1" fill="#b01808" opacity="0.9"/>
<circle cx="199.2" cy="109.7" r="1.3" fill="#d42410" opacity="0.9"/>
<circle cx="56.9" cy="109.5" r="1.3" fill="#b01808" opacity="0.9"/>
<circle cx="195.9" cy="157.8" r="3.1" fill="#b01808" opacity="0.9"/>
<circle cx="188.2" cy="145.2" r="1.6" fill="#b01808" opacity="0.9"/>
<circle cx="75.6" cy="153.2" r="1.4" fill="#700c06" opacity="0.9"/>
<circle cx="115.7" cy="160.8" r="1.7" fill="#b01808" opacity="0.9"/>
<circle cx="158.2" cy="184.2" r="1.9" fill="#a0701c" opacity="0.9"/>
<circle cx="136.8" cy="127.6" r="2.8" fill="#b85a18" opacity="0.9"/>
<circle cx="42.9" cy="149.7" r="1.6" fill="#700c06" opacity="0.9"/>
<circle cx="105.5" cy="119.7" r="2.7" fill="#c87020" opacity="0.9"/>
<circle cx="152.4" cy="123.6" r="2.9" fill="#b01808" opacity="0.9"/>
<circle cx="136.3" cy="127.7" r="1.2" fill="#b01808" opacity="0.9"/>
<circle cx="155.2" cy="160.1" r="1.8" fill="#700c06" opacity="0.9"/>
<circle cx="73.9" cy="139.3" r="2.9" fill="#b01808" opacity="0.9"/>
<circle cx="165.1" cy="131.3" r="3.0" fill="#b01808" opacity="0.9"/>
<circle cx="180.7" cy="109.8" r="1.9" fill="#b01808" opacity="0.9"/>
<circle cx="122.0" cy="148.0" r="2.0" fill="#b01808" opacity="0.9"/>
<circle cx="89.8" cy="152.1" r="3.2" fill="#b01808" opacity="0.9"/>
<circle cx="158.0" cy="118.9" r="2.4" fill="#b01808" opacity="0.9"/>
<circle cx="160.6" cy="146.2" r="1.6" fill="#b01808" opacity="0.9"/>
<circle cx="106.3" cy="110.0" r="2.3" fill="#d42410" opacity="0.9"/>
<circle cx="161.5" cy="130.3" r="2.9" fill="#b01808" opacity="0.9"/>
<circle cx="138.3" cy="152.5" r="2.3" fill="#b01808" opacity="0.9"/>
<circle cx="91.6" cy="123.7" r="1.4" fill="#d42410" opacity="0.9"/>
<circle cx="184.9" cy="148.6" r="2.5" fill="#700c06" opacity="0.9"/>
<circle cx="138.4" cy="120.0" r="2.2" fill="#b01808" opacity="0.9"/>
<circle cx="58.1" cy="177.1" r="1.2" fill="#700c06" opacity="0.9"/>
<circle cx="124.0" cy="176.2" r="2.5" fill="#b01808" opacity="0.9"/>
<circle cx="117.5" cy="130.0" r="1.7" fill="#700c06" opacity="0.9"/>
<circle cx="167.2" cy="141.1" r="1.8" fill="#d42410" opacity="0.9"/>
<circle cx="146.1" cy="168.9" r="2.6" fill="#700c06" opacity="0.9"/>
<circle cx="88.4" cy="157.3" r="2.4" fill="#b01808" opacity="0.9"/>
<circle cx="184.3" cy="177.2" r="2.9" fill="#700c06" opacity="0.9"/>
<circle cx="156.2" cy="158.9" r="3.2" fill="#b01808" opacity="0.9"/>
<circle cx="198.5" cy="154.2" r="2.6" fill="#b01808" opacity="0.9"/>
<circle cx="94.0" cy="113.7" r="2.5" fill="#a0701c" opacity="0.9"/>
<circle cx="191.7" cy="144.0" r="1.7" fill="#d42410" opacity="0.9"/>
<circle cx="176.1" cy="150.4" r="1.8" fill="#b01808" opacity="0.9"/>
<circle cx="33.0" cy="148.4" r="2.8" fill="#b01808" opacity="0.9"/>
<circle cx="133.6" cy="158.5" r="1.8" fill="#d42410" opacity="0.9"/>
<circle cx="174.5" cy="127.1" r="3.3" fill="#b01808" opacity="0.9"/>
<circle cx="154.9" cy="120.3" r="2.0" fill="#b01808" opacity="0.9"/>
<circle cx="90.9" cy="120.7" r="2.1" fill="#700c06" opacity="0.9"/>
<circle cx="89.5" cy="162.6" r="2.1" fill="#a0701c" opacity="0.9"/>
<circle cx="114.1" cy="129.0" r="2.0" fill="#b01808" opacity="0.9"/>
<circle cx="107.6" cy="110.6" r="2.4" fill="#b01808" opacity="0.9"/>
<circle cx="196.0" cy="145.6" r="2.9" fill="#700c06" opacity="0.9"/>
<circle cx="55.2" cy="152.3" r="2.8" fill="#700c06" opacity="0.9"/>
<circle cx="175.8" cy="133.8" r="1.9" fill="#700c06" opacity="0.9"/>
<circle cx="142.1" cy="177.7" r="3.0" fill="#b01808" opacity="0.9"/>
<circle cx="170.6" cy="162.7" r="3.1" fill="#b01808" opacity="0.9"/>
<circle cx="93.5" cy="126.2" r="2.1" fill="#b01808" opacity="0.9"/>
<circle cx="145.6" cy="165.9" r="3.2" fill="#b01808" opacity="0.9"/>
<circle cx="112.2" cy="149.0" r="2.7" fill="#700c06" opacity="0.9"/>
<circle cx="117.4" cy="160.8" r="1.9" fill="#700c06" opacity="0.9"/>
<circle cx="179.3" cy="162.6" r="2.2" fill="#d42410" opacity="0.9"/>
<circle cx="126.9" cy="169.0" r="2.1" fill="#b01808" opacity="0.9"/>
<circle cx="82.9" cy="165.6" r="1.9" fill="#b01808" opacity="0.9"/>
<circle cx="149.7" cy="137.8" r="2.9" fill="#b01808" opacity="0.9"/>
<circle cx="136.9" cy="115.9" r="3.2" fill="#b01808" opacity="0.9"/>
<circle cx="170.9" cy="145.7" r="1.7" fill="#d42410" opacity="0.9"/>
<circle cx="156.5" cy="155.9" r="3.3" fill="#c87020" opacity="0.9"/>
<circle cx="155.3" cy="167.1" r="3.3" fill="#b01808" opacity="0.9"/>
<circle cx="158.9" cy="110.4" r="2.2" fill="#700c06" opacity="0.9"/>
<circle cx="142.4" cy="179.2" r="2.6" fill="#b01808" opacity="0.9"/>
<circle cx="99.5" cy="122.1" r="1.6" fill="#d42410" opacity="0.9"/>
<circle cx="193.0" cy="122.3" r="2.3" fill="#b01808" opacity="0.9"/>
<circle cx="74.5" cy="122.7" r="1.6" fill="#700c06" opacity="0.9"/>
<circle cx="143.6" cy="127.6" r="3.3" fill="#b01808" opacity="0.9"/>
<circle cx="188.7" cy="157.8" r="2.2" fill="#d42410" opacity="0.9"/>
<circle cx="81.6" cy="113.8" r="2.8" fill="#d42410" opacity="0.9"/>
<circle cx="48.5" cy="165.1" r="1.6" fill="#d42410" opacity="0.9"/>
<circle cx="42.4" cy="172.1" r="3.1" fill="#b01808" opacity="0.9"/>
<circle cx="158.2" cy="109.2" r="1.6" fill="#b01808" opacity="0.9"/>
<circle cx="43.0" cy="164.7" r="2.6" fill="#d42410" opacity="0.9"/>
<circle cx="115.3" cy="182.7" r="2.2" fill="#b01808" opacity="0.9"/>
<circle cx="164.7" cy="153.2" r="3.3" fill="#700c06" opacity="0.9"/>
<circle cx="180.2" cy="134.8" r="1.3" fill="#b01808" opacity="0.9"/>
<circle cx="194.3" cy="150.9" r="2.8" fill="#d42410" opacity="0.9"/>
<circle cx="143.7" cy="141.8" r="1.7" fill="#700c06" opacity="0.9"/>
<circle cx="155.4" cy="150.5" r="1.9" fill="#700c06" opacity="0.9"/>
<circle cx="158.7" cy="172.1" r="2.9" fill="#700c06" opacity="0.9"/>
<circle cx="106.3" cy="112.3" r="1.3" fill="#b01808" opacity="0.9"/>
<circle cx="122.1" cy="113.8" r="2.4" fill="#b01808" opacity="0.9"/>
<circle cx="66.9" cy="120.3" r="2.3" fill="#b01808" opacity="0.9"/>
<circle cx="144.9" cy="129.5" r="2.5" fill="#700c06" opacity="0.9"/>
<circle cx="63.6" cy="153.7" r="2.8" fill="#d42410" opacity="0.9"/>
<circle cx="186.1" cy="183.4" r="2.9" fill="#b01808" opacity="0.9"/>
<circle cx="136.7" cy="118.3" r="1.6" fill="#700c06" opacity="0.9"/>
<circle cx="95.3" cy="178.5" r="3.0" fill="#b01808" opacity="0.9"/>
<circle cx="83.7" cy="112.5" r="1.4" fill="#d42410" opacity="0.9"/>
<circle cx="43.3" cy="168.4" r="3.3" fill="#b85a18" opacity="0.9"/>
<circle cx="78.8" cy="117.8" r="1.4" fill="#700c06" opacity="0.9"/>
<circle cx="178.2" cy="153.9" r="2.5" fill="#b01808" opacity="0.9"/>
<circle cx="110.2" cy="140.5" r="1.7" fill="#b01808" opacity="0.9"/>
<circle cx="130.0" cy="142.0" r="2.0" fill="#700c06" opacity="0.9"/>
<circle cx="90.0" cy="132.5" r="2.1" fill="#b01808" opacity="0.9"/>
<circle cx="113.8" cy="167.5" r="2.1" fill="#a0701c" opacity="0.9"/>
<circle cx="186.1" cy="125.3" r="2.1" fill="#700c06" opacity="0.9"/>
<circle cx="194.6" cy="122.7" r="1.6" fill="#b01808" opacity="0.9"/>
<circle cx="148.5" cy="174.5" r="3.0" fill="#d42410" opacity="0.9"/>
<circle cx="81.9" cy="154.1" r="2.6" fill="#b01808" opacity="0.9"/>
<circle cx="68.7" cy="126.6" r="1.4" fill="#700c06" opacity="0.9"/>
<circle cx="43.2" cy="175.1" r="3.3" fill="#700c06" opacity="0.9"/>
<circle cx="136.2" cy="108.9" r="2.0" fill="#b01808" opacity="0.9"/>
<circle cx="68.4" cy="178.7" r="3.1" fill="#b01808" opacity="0.9"/>
<circle cx="89.4" cy="165.7" r="2.9" fill="#b01808" opacity="0.9"/>
<circle cx="89.1" cy="121.7" r="2.1" fill="#700c06" opacity="0.9"/>
<circle cx="71.9" cy="146.3" r="3.0" fill="#b01808" opacity="0.9"/>
<circle cx="153.9" cy="161.1" r="2.8" fill="#b01808" opacity="0.9"/>
<circle cx="131.2" cy="158.7" r="2.4" fill="#b01808" opacity="0.9"/>
<circle cx="80.2" cy="122.9" r="2.3" fill="#b01808" opacity="0.9"/>
<circle cx="138.3" cy="108.7" r="1.7" fill="#b01808" opacity="0.9"/>
<circle cx="145.9" cy="144.2" r="1.4" fill="#b01808" opacity="0.9"/>
<circle cx="44.2" cy="155.3" r="2.5" fill="#b01808" opacity="0.9"/>
<circle cx="116.0" cy="183.7" r="3.1" fill="#b01808" opacity="0.9"/>
<circle cx="143.8" cy="169.7" r="3.4" fill="#700c06" opacity="0.9"/>
<circle cx="68.5" cy="170.7" r="3.2" fill="#700c06" opacity="0.9"/>
<circle cx="182.2" cy="163.4" r="2.5" fill="#d42410" opacity="0.9"/>
<circle cx="44.0" cy="181.9" r="1.8" fill="#b01808" opacity="0.9"/>
<circle cx="79.1" cy="131.8" r="3.2" fill="#d42410" opacity="0.9"/>
<circle cx="44.5" cy="156.1" r="2.8" fill="#c87020" opacity="0.9"/>
<circle cx="80.3" cy="180.9" r="1.8" fill="#b01808" opacity="0.9"/>
<circle cx="92.3" cy="113.1" r="2.1" fill="#b01808" opacity="0.9"/>
<circle cx="178.2" cy="111.1" r="1.8" fill="#700c06" opacity="0.9"/>
<circle cx="43.5" cy="165.4" r="2.4" fill="#b01808" opacity="0.9"/>
<circle cx="53.9" cy="177.7" r="2.3" fill="#b01808" opacity="0.9"/>
<circle cx="83.8" cy="160.8" r="3.1" fill="#700c06" opacity="0.9"/>
<circle cx="170.1" cy="154.4" r="3.4" fill="#b01808" opacity="0.9"/>
<circle cx="60.9" cy="165.7" r="3.1" fill="#d42410" opacity="0.9"/>
<circle cx="145.6" cy="125.9" r="1.7" fill="#b85a18" opacity="0.9"/>
<circle cx="149.2" cy="135.5" r="1.2" fill="#d42410" opacity="0.9"/>
<circle cx="74.8" cy="148.0" r="1.3" fill="#d42410" opacity="0.9"/>
<circle cx="77.1" cy="142.7" r="2.4" fill="#b01808" opacity="0.9"/>
<circle cx="86.3" cy="135.1" r="1.7" fill="#d42410" opacity="0.9"/>
<circle cx="65.0" cy="123.1" r="2.1" fill="#d42410" opacity="0.9"/>
<circle cx="169.1" cy="144.3" r="2.5" fill="#700c06" opacity="0.9"/>
<circle cx="153.6" cy="114.9" r="2.2" fill="#700c06" opacity="0.9"/>
<circle cx="86.8" cy="123.6" r="2.5" fill="#700c06" opacity="0.9"/>
<circle cx="73.9" cy="122.3" r="3.0" fill="#b01808" opacity="0.9"/>
<circle cx="51.3" cy="122.8" r="1.9" fill="#b01808" opacity="0.9"/>
<circle cx="172.7" cy="173.9" r="1.2" fill="#700c06" opacity="0.9"/>
<circle cx="102.5" cy="109.0" r="2.0" fill="#700c06" opacity="0.9"/>
<circle cx="104.3" cy="125.3" r="1.7" fill="#a0701c" opacity="0.9"/>
<circle cx="161.4" cy="113.6" r="3.3" fill="#b01808" opacity="0.9"/>
<circle cx="119.6" cy="139.2" r="1.4" fill="#700c06" opacity="0.9"/>
<circle cx="182.6" cy="158.5" r="3.4" fill="#b01808" opacity="0.9"/>
<circle cx="143.2" cy="184.0" r="2.7" fill="#b01808" opacity="0.9"/>
<circle cx="134.3" cy="127.4" r="3.2" fill="#d42410" opacity="0.9"/>
<circle cx="164.4" cy="156.7" r="2.8" fill="#b01808" opacity="0.9"/>
<circle cx="51.2" cy="182.5" r="2.9" fill="#d42410" opacity="0.9"/>
<circle cx="98.7" cy="181.6" r="2.6" fill="#b01808" opacity="0.9"/>
<circle cx="86.7" cy="169.3" r="2.2" fill="#d42410" opacity="0.9"/>
<circle cx="120.1" cy="169.0" r="1.8" fill="#a0701c" opacity="0.9"/>
<circle cx="181.1" cy="118.4" r="3.1" fill="#c87020" opacity="0.9"/>
<circle cx="152.9" cy="151.6" r="2.1" fill="#b01808" opacity="0.9"/>
<circle cx="163.7" cy="180.3" r="1.4" fill="#b01808" opacity="0.9"/>
<circle cx="65.9" cy="110.1" r="3.2" fill="#d42410" opacity="0.9"/>
<circle cx="85.8" cy="141.8" r="3.0" fill="#700c06" opacity="0.9"/>
<circle cx="150.7" cy="143.7" r="3.3" fill="#b01808" opacity="0.9"/>
<circle cx="61.9" cy="139.5" r="1.8" fill="#b01808" opacity="0.9"/>
<circle cx="199.8" cy="177.7" r="3.1" fill="#a0701c" opacity="0.9"/>
<circle cx="195.3" cy="163.5" r="1.3" fill="#d42410" opacity="0.9"/>
<circle cx="53.0" cy="115.7" r="3.2" fill="#700c06" opacity="0.9"/>
<circle cx="89.9" cy="114.3" r="1.5" fill="#b85a18" opacity="0.9"/>
<circle cx="147.4" cy="155.0" r="2.3" fill="#b01808" opacity="0.9"/>
<circle cx="185.1" cy="112.7" r="1.7" fill="#d42410" opacity="0.9"/>
<circle cx="124.4" cy="162.8" r="2.0" fill="#d42410" opacity="0.9"/>
<circle cx="136.0" cy="116.3" r="1.9" fill="#b01808" opacity="0.9"/>
<circle cx="108.5" cy="111.3" r="2.4" fill="#d42410" opacity="0.9"/>
<circle cx="136.4" cy="175.5" r="2.9" fill="#b01808" opacity="0.9"/>
<circle cx="175.1" cy="128.9" r="2.0" fill="#a0701c" opacity="0.9"/>
<circle cx="132.1" cy="179.9" r="2.0" fill="#700c06" opacity="0.9"/>
<circle cx="140.8" cy="160.4" r="3.2" fill="#700c06" opacity="0.9"/>
<circle cx="69.4" cy="136.3" r="3.3" fill="#700c06" opacity="0.9"/>
<circle cx="169.9" cy="118.0" r="2.4" fill="#b01808" opacity="0.9"/>
<circle cx="173.8" cy="178.2" r="3.1" fill="#b01808" opacity="0.9"/>
<circle cx="181.8" cy="146.3" r="3.4" fill="#b01808" opacity="0.9"/>
<circle cx="98.5" cy="166.7" r="1.3" fill="#d42410" opacity="0.9"/>
<circle cx="121.1" cy="110.8" r="1.2" fill="#700c06" opacity="0.9"/>
<circle cx="159.7" cy="150.5" r="1.2" fill="#700c06" opacity="0.9"/>
<circle cx="106.4" cy="138.4" r="2.9" fill="#b01808" opacity="0.9"/>
<circle cx="42.3" cy="151.0" r="1.9" fill="#700c06" opacity="0.9"/>
<circle cx="131.4" cy="158.1" r="1.3" fill="#d42410" opacity="0.9"/>
<circle cx="104.6" cy="111.3" r="1.7" fill="#b01808" opacity="0.9"/>
<circle cx="79.2" cy="144.7" r="2.1" fill="#d42410" opacity="0.9"/>
<circle cx="45.7" cy="117.0" r="2.6" fill="#700c06" opacity="0.9"/>
<circle cx="50.0" cy="173.8" r="1.3" fill="#b01808" opacity="0.9"/>
<circle cx="121.5" cy="144.7" r="3.0" fill="#d42410" opacity="0.9"/>
<circle cx="40.1" cy="181.8" r="1.9" fill="#a0701c" opacity="0.9"/>
<circle cx="169.4" cy="122.9" r="3.1" fill="#d42410" opacity="0.9"/>
<circle cx="55.1" cy="158.5" r="2.6" fill="#700c06" opacity="0.9"/>
<circle cx="65.6" cy="171.8" r="3.3" fill="#700c06" opacity="0.9"/>
<circle cx="123.4" cy="178.1" r="2.2" fill="#b01808" opacity="0.9"/>
<circle cx="174.8" cy="132.8" r="3.2" fill="#700c06" opacity="0.9"/>
<circle cx="99.9" cy="113.5" r="3.0" fill="#b01808" opacity="0.9"/>
<circle cx="32.2" cy="137.2" r="2.1" fill="#d42410" opacity="0.9"/>
<circle cx="69.8" cy="164.9" r="2.0" fill="#d42410" opacity="0.9"/>
<circle cx="147.8" cy="139.1" r="2.3" fill="#d42410" opacity="0.9"/>
<circle cx="61.7" cy="119.0" r="1.8" fill="#c87020" opacity="0.9"/>
<circle cx="195.2" cy="161.6" r="2.0" fill="#d42410" opacity="0.9"/>
<circle cx="193.1" cy="146.6" r="2.6" fill="#b01808" opacity="0.9"/>
<circle cx="59.1" cy="151.7" r="2.1" fill="#b01808" opacity="0.9"/>
<circle cx="64.0" cy="136.6" r="1.8" fill="#c87020" opacity="0.9"/>
<circle cx="79.1" cy="176.1" r="1.7" fill="#700c06" opacity="0.9"/>
<circle cx="107.0" cy="143.2" r="2.3" fill="#700c06" opacity="0.9"/>
<circle cx="97.7" cy="134.1" r="1.4" fill="#b01808" opacity="0.9"/>
<circle cx="138.9" cy="176.1" r="3.0" fill="#c87020" opacity="0.9"/>
<circle cx="130.8" cy="112.2" r="2.3" fill="#700c06" opacity="0.9"/>
<circle cx="108.4" cy="166.3" r="3.3" fill="#d42410" opacity="0.9"/>
<circle cx="116.1" cy="117.1" r="2.8" fill="#700c06" opacity="0.9"/>
<circle cx="129.3" cy="128.6" r="3.1" fill="#b01808" opacity="0.9"/>
<circle cx="130.5" cy="179.9" r="2.2" fill="#b01808" opacity="0.9"/>
<circle cx="121.4" cy="177.7" r="3.1" fill="#d42410" opacity="0.9"/>
<circle cx="116.7" cy="130.6" r="1.6" fill="#b01808" opacity="0.9"/>
<circle cx="124.1" cy="183.1" r="3.0" fill="#b01808" opacity="0.9"/>
<circle cx="100.6" cy="177.4" r="3.0" fill="#700c06" opacity="0.9"/>
<circle cx="145.4" cy="135.9" r="2.8" fill="#b01808" opacity="0.9"/>
<circle cx="115.6" cy="156.4" r="3.2" fill="#d42410" opacity="0.9"/>
<circle cx="95.3" cy="162.8" r="2.7" fill="#700c06" opacity="0.9"/>
<circle cx="76.6" cy="157.7" r="1.6" fill="#700c06" opacity="0.9"/>
<circle cx="76.8" cy="151.5" r="3.1" fill="#b01808" opacity="0.9"/>
<circle cx="160.1" cy="138.2" r="2.1" fill="#b01808" opacity="0.9"/>
<circle cx="158.6" cy="178.5" r="3.1" fill="#700c06" opacity="0.9"/>
<circle cx="67.0" cy="118.4" r="2.6" fill="#b01808" opacity="0.9"/>
<circle cx="133.5" cy="149.3" r="2.4" fill="#b01808" opacity="0.9"/>
<circle cx="162.8" cy="163.3" r="2.8" fill="#d42410" opacity="0.9"/>
<circle cx="139.0" cy="117.1" r="1.4" fill="#b01808" opacity="0.9"/>
<circle cx="68.9" cy="181.4" r="1.8" fill="#b01808" opacity="0.9"/>
<circle cx="196.3" cy="120.2" r="1.8" fill="#b01808" opacity="0.9"/>
<circle cx="87.7" cy="118.5" r="3.2" fill="#b01808" opacity="0.9"/>
<circle cx="120.2" cy="133.2" r="3.3" fill="#b01808" opacity="0.9"/>
<circle cx="73.2" cy="136.1" r="2.4" fill="#b01808" opacity="0.9"/>
<circle cx="110.4" cy="144.2" r="1.6" fill="#b01808" opacity="0.9"/>
<circle cx="127.5" cy="164.7" r="2.2" fill="#700c06" opacity="0.9"/>
<circle cx="48.7" cy="131.6" r="2.1" fill="#b01808" opacity="0.9"/>
<circle cx="177.2" cy="131.5" r="2.4" fill="#b01808" opacity="0.9"/>
<circle cx="102.9" cy="118.6" r="2.4" fill="#d42410" opacity="0.9"/>
<circle cx="190.8" cy="117.1" r="2.2" fill="#b01808" opacity="0.9"/>
<circle cx="191.7" cy="146.1" r="3.1" fill="#700c06" opacity="0.9"/>
<circle cx="148.8" cy="172.2" r="2.3" fill="#d42410" opacity="0.9"/>
<circle cx="99.8" cy="162.3" r="2.3" fill="#700c06" opacity="0.9"/>
<circle cx="114.8" cy="131.5" r="2.3" fill="#b01808" opacity="0.9"/>
<circle cx="103.3" cy="166.2" r="2.6" fill="#700c06" opacity="0.9"/>
<circle cx="69.4" cy="133.3" r="2.1" fill="#b01808" opacity="0.9"/>
<circle cx="138.2" cy="111.4" r="2.5" fill="#b01808" opacity="0.9"/>
<circle cx="199.7" cy="132.2" r="1.2" fill="#700c06" opacity="0.9"/>
<circle cx="155.9" cy="164.7" r="2.0" fill="#d42410" opacity="0.9"/>
<circle cx="67.8" cy="151.9" r="2.4" fill="#d42410" opacity="0.9"/>
<circle cx="184.3" cy="156.5" r="2.7" fill="#b01808" opacity="0.9"/>
<circle cx="125.8" cy="180.2" r="1.2" fill="#b01808" opacity="0.9"/>
<circle cx="72.4" cy="167.1" r="2.6" fill="#700c06" opacity="0.9"/>
<circle cx="180.3" cy="113.5" r="1.2" fill="#b01808" opacity="0.9"/>
<circle cx="123.5" cy="147.0" r="2.1" fill="#b01808" opacity="0.9"/>
<circle cx="131.7" cy="165.2" r="2.2" fill="#d42410" opacity="0.9"/>
<circle cx="116.3" cy="131.4" r="1.9" fill="#b85a18" opacity="0.9"/>
<circle cx="55.4" cy="181.6" r="1.2" fill="#b01808" opacity="0.9"/>
<circle cx="87.5" cy="173.3" r="1.7" fill="#b01808" opacity="0.9"/>
<circle cx="178.7" cy="134.1" r="2.4" fill="#700c06" opacity="0.9"/>
<circle cx="165.3" cy="145.5" r="1.2" fill="#d42410" opacity="0.9"/>
<circle cx="160.1" cy="128.5" r="2.7" fill="#d42410" opacity="0.9"/>
<circle cx="130.8" cy="131.1" r="3.1" fill="#b01808" opacity="0.9"/>
<circle cx="78.2" cy="111.0" r="2.3" fill="#b01808" opacity="0.9"/>
<circle cx="168.7" cy="122.5" r="1.7" fill="#d42410" opacity="0.9"/>
<circle cx="117.0" cy="117.7" r="2.4" fill="#b01808" opacity="0.9"/>
<circle cx="133.3" cy="179.1" r="2.4" fill="#700c06" opacity="0.9"/>
<circle cx="121.1" cy="169.5" r="2.5" fill="#d42410" opacity="0.9"/>
<circle cx="160.8" cy="113.9" r="1.2" fill="#d42410" opacity="0.9"/>
<circle cx="59.6" cy="180.0" r="2.6" fill="#d42410" opacity="0.9"/>
<circle cx="159.5" cy="119.9" r="3.0" fill="#b01808" opacity="0.9"/>
<circle cx="193.7" cy="151.3" r="2.8" fill="#d42410" opacity="0.9"/>
<circle cx="181.8" cy="124.8" r="3.0" fill="#b01808" opacity="0.9"/>
<circle cx="51.1" cy="180.5" r="2.8" fill="#b01808" opacity="0.9"/>
<circle cx="166.4" cy="173.6" r="1.9" fill="#d42410" opacity="0.9"/>
<circle cx="136.4" cy="146.9" r="1.6" fill="#b01808" opacity="0.9"/>
<circle cx="111.2" cy="142.5" r="1.3" fill="#b01808" opacity="0.9"/>
<circle cx="48.1" cy="150.8" r="2.5" fill="#700c06" opacity="0.9"/>
<circle cx="164.9" cy="167.5" r="1.9" fill="#700c06" opacity="0.9"/>
<circle cx="108.3" cy="123.8" r="1.5" fill="#d42410" opacity="0.9"/>
<circle cx="128.2" cy="165.5" r="2.4" fill="#d42410" opacity="0.9"/>
<circle cx="117.8" cy="174.9" r="3.0" fill="#b01808" opacity="0.9"/>
<circle cx="181.1" cy="154.2" r="2.1" fill="#d42410" opacity="0.9"/>
<circle cx="107.5" cy="137.5" r="3.0" fill="#d42410" opacity="0.9"/>
<circle cx="155.3" cy="173.6" r="1.6" fill="#700c06" opacity="0.9"/>
<circle cx="77.1" cy="176.7" r="2.3" fill="#b01808" opacity="0.9"/>
<circle cx="167.7" cy="121.1" r="2.3" fill="#a0701c" opacity="0.9"/>
<circle cx="81.5" cy="139.5" r="3.1" fill="#d42410" opacity="0.9"/>
<circle cx="84.2" cy="133.4" r="1.2" fill="#b01808" opacity="0.9"/>
<circle cx="185.6" cy="116.2" r="2.8" fill="#b01808" opacity="0.9"/>
<circle cx="172.5" cy="152.2" r="2.5" fill="#b01808" opacity="0.9"/>
<circle cx="183.2" cy="167.4" r="3.3" fill="#700c06" opacity="0.9"/>
<circle cx="48.2" cy="120.0" r="2.2" fill="#700c06" opacity="0.9"/>
<circle cx="192.5" cy="170.1" r="3.2" fill="#b85a18" opacity="0.9"/>
<circle cx="115.1" cy="117.7" r="2.6" fill="#b01808" opacity="0.9"/>
<circle cx="74.5" cy="110.3" r="2.2" fill="#d42410" opacity="0.9"/>
<circle cx="174.2" cy="109.9" r="2.9" fill="#d42410" opacity="0.9"/>
<circle cx="153.9" cy="126.5" r="3.0" fill="#b01808" opacity="0.9"/>
<circle cx="73.5" cy="146.5" r="2.9" fill="#700c06" opacity="0.9"/>
<circle cx="70.2" cy="182.8" r="2.6" fill="#d42410" opacity="0.9"/>
<circle cx="118.5" cy="124.7" r="2.5" fill="#d42410" opacity="0.9"/>
<circle cx="163.1" cy="117.4" r="2.7" fill="#700c06" opacity="0.9"/>
<circle cx="177.8" cy="136.1" r="1.5" fill="#b01808" opacity="0.9"/>
<circle cx="116.3" cy="161.7" r="3.3" fill="#b01808" opacity="0.9"/>
<circle cx="159.1" cy="169.8" r="2.7" fill="#700c06" opacity="0.9"/>
<circle cx="95.6" cy="172.3" r="2.5" fill="#d42410" opacity="0.9"/>
<circle cx="116.2" cy="135.4" r="3.1" fill="#b85a18" opacity="0.9"/>
<circle cx="119.3" cy="139.2" r="1.5" fill="#a0701c" opacity="0.9"/>
<circle cx="198.8" cy="114.7" r="1.9" fill="#700c06" opacity="0.9"/>
<circle cx="87.1" cy="112.5" r="3.0" fill="#700c06" opacity="0.9"/>
<circle cx="123.4" cy="165.7" r="1.6" fill="#700c06" opacity="0.9"/>
<circle cx="56.5" cy="119.7" r="2.7" fill="#b01808" opacity="0.9"/>
<circle cx="94.1" cy="118.4" r="3.4" fill="#b01808" opacity="0.9"/>
<circle cx="72.5" cy="125.1" r="3.3" fill="#700c06" opacity="0.9"/>
<circle cx="46.4" cy="131.6" r="2.8" fill="#700c06" opacity="0.9"/>
<circle cx="72.5" cy="114.0" r="1.5" fill="#b01808" opacity="0.9"/>
<circle cx="155.9" cy="175.1" r="3.1" fill="#b01808" opacity="0.9"/>
<circle cx="72.7" cy="166.4" r="3.1" fill="#700c06" opacity="0.9"/>
<circle cx="97.1" cy="156.8" r="2.6" fill="#b01808" opacity="0.9"/>
<circle cx="62.7" cy="121.2" r="2.0" fill="#700c06" opacity="0.9"/>
<circle cx="179.9" cy="132.2" r="1.7" fill="#b01808" opacity="0.9"/>
<circle cx="90.0" cy="145.1" r="2.4" fill="#700c06" opacity="0.9"/>
<circle cx="54.1" cy="161.5" r="2.2" fill="#b01808" opacity="0.9"/>
<circle cx="96.9" cy="168.9" r="3.2" fill="#700c06" opacity="0.9"/>
<circle cx="112.1" cy="155.0" r="2.5" fill="#b01808" opacity="0.9"/>
<circle cx="152.7" cy="110.4" r="1.3" fill="#700c06" opacity="0.9"/>
<circle cx="164.2" cy="153.5" r="3.2" fill="#b01808" opacity="0.9"/>
</g><g filter="url(#bl3)">
<ellipse cx="80" cy="176" rx="30" ry="9" fill="#7a8a20" opacity="0.55"/>
<ellipse cx="140" cy="165" rx="55" ry="18" fill="#2a6a12" opacity="0.45"/>
</g><g filter="url(#bl2)">
<ellipse cx="197.6" cy="176.8" rx="3.9" ry="3.0" fill="#4cb422" opacity="0.88" transform="rotate(25 197.6 176.8)"/>
<ellipse cx="92.5" cy="139.3" rx="3.4" ry="3.2" fill="#40b020" opacity="0.88" transform="rotate(161 92.5 139.3)"/>
<ellipse cx="196.9" cy="110.8" rx="5.2" ry="4.1" fill="#40b020" opacity="0.88" transform="rotate(48 196.9 110.8)"/>
<ellipse cx="71.8" cy="160.0" rx="3.4" ry="2.6" fill="#40b020" opacity="0.88" transform="rotate(156 71.8 160.0)"/>
<ellipse cx="64.7" cy="160.3" rx="5.4" ry="3.6" fill="#38a81c" opacity="0.88" transform="rotate(22 64.7 160.3)"/>
<ellipse cx="125.5" cy="142.8" rx="5.0" ry="3.8" fill="#38a81c" opacity="0.88" transform="rotate(33 125.5 142.8)"/>
<ellipse cx="139.9" cy="163.1" rx="5.0" ry="4.3" fill="#38a81c" opacity="0.88" transform="rotate(170 139.9 163.1)"/>
<ellipse cx="126.1" cy="158.2" rx="2.9" ry="2.8" fill="#80a82a" opacity="0.88" transform="rotate(0 126.1 158.2)"/>
<ellipse cx="138.5" cy="173.5" rx="3.3" ry="3.3" fill="#4cb422" opacity="0.88" transform="rotate(66 138.5 173.5)"/>
<ellipse cx="145.9" cy="141.5" rx="4.0" ry="2.5" fill="#4cb422" opacity="0.88" transform="rotate(133 145.9 141.5)"/>
<ellipse cx="71.5" cy="178.3" rx="5.4" ry="3.3" fill="#4cb422" opacity="0.88" transform="rotate(82 71.5 178.3)"/>
<ellipse cx="104.3" cy="141.9" rx="4.0" ry="4.1" fill="#4cb422" opacity="0.88" transform="rotate(136 104.3 141.9)"/>
<ellipse cx="196.0" cy="150.3" rx="5.1" ry="4.1" fill="#40b020" opacity="0.88" transform="rotate(47 196.0 150.3)"/>
<ellipse cx="78.1" cy="172.0" rx="3.3" ry="4.6" fill="#4cb422" opacity="0.88" transform="rotate(172 78.1 172.0)"/>
<ellipse cx="48.3" cy="159.3" rx="2.9" ry="4.4" fill="#58ac20" opacity="0.88" transform="rotate(155 48.3 159.3)"/>
<ellipse cx="93.1" cy="168.7" rx="4.6" ry="2.5" fill="#80a82a" opacity="0.88" transform="rotate(180 93.1 168.7)"/>
<ellipse cx="54.1" cy="171.1" rx="4.6" ry="3.8" fill="#40b020" opacity="0.88" transform="rotate(43 54.1 171.1)"/>
<ellipse cx="152.2" cy="135.9" rx="5.6" ry="2.5" fill="#40b020" opacity="0.88" transform="rotate(152 152.2 135.9)"/>
<ellipse cx="198.6" cy="183.4" rx="3.5" ry="2.6" fill="#4cb422" opacity="0.88" transform="rotate(178 198.6 183.4)"/>
<ellipse cx="107.2" cy="176.2" rx="4.2" ry="4.1" fill="#58ac20" opacity="0.88" transform="rotate(170 107.2 176.2)"/>
<ellipse cx="183.4" cy="134.7" rx="4.2" ry="3.3" fill="#38a81c" opacity="0.88" transform="rotate(151 183.4 134.7)"/>
<ellipse cx="172.4" cy="160.1" rx="3.4" ry="4.3" fill="#38a81c" opacity="0.88" transform="rotate(68 172.4 160.1)"/>
<ellipse cx="66.3" cy="162.2" rx="5.5" ry="3.5" fill="#58ac20" opacity="0.88" transform="rotate(59 66.3 162.2)"/>
<ellipse cx="199.3" cy="138.9" rx="4.6" ry="4.0" fill="#38a81c" opacity="0.88" transform="rotate(140 199.3 138.9)"/>
<ellipse cx="85.4" cy="168.3" rx="4.9" ry="2.8" fill="#58ac20" opacity="0.88" transform="rotate(105 85.4 168.3)"/>
<ellipse cx="197.6" cy="169.8" rx="2.8" ry="3.6" fill="#38a81c" opacity="0.88" transform="rotate(125 197.6 169.8)"/>
<ellipse cx="123.9" cy="172.4" rx="3.2" ry="4.5" fill="#38a81c" opacity="0.88" transform="rotate(120 123.9 172.4)"/>
<ellipse cx="184.6" cy="163.9" rx="4.1" ry="2.5" fill="#58ac20" opacity="0.88" transform="rotate(68 184.6 163.9)"/>
<ellipse cx="103.2" cy="162.2" rx="3.7" ry="3.0" fill="#38a81c" opacity="0.88" transform="rotate(124 103.2 162.2)"/>
<ellipse cx="58.5" cy="170.0" rx="5.3" ry="3.5" fill="#40b020" opacity="0.88" transform="rotate(138 58.5 170.0)"/>
<ellipse cx="73.8" cy="131.8" rx="3.5" ry="4.4" fill="#38a81c" opacity="0.88" transform="rotate(35 73.8 131.8)"/>
<ellipse cx="154.4" cy="145.7" rx="3.8" ry="3.5" fill="#58ac20" opacity="0.88" transform="rotate(134 154.4 145.7)"/>
<ellipse cx="60.5" cy="172.1" rx="4.3" ry="3.4" fill="#38a81c" opacity="0.88" transform="rotate(32 60.5 172.1)"/>
<ellipse cx="192.0" cy="178.8" rx="4.3" ry="3.3" fill="#38a81c" opacity="0.88" transform="rotate(20 192.0 178.8)"/>
<ellipse cx="91.9" cy="132.6" rx="4.7" ry="3.8" fill="#80a82a" opacity="0.88" transform="rotate(121 91.9 132.6)"/>
<ellipse cx="148.3" cy="163.9" rx="3.4" ry="4.4" fill="#80a82a" opacity="0.88" transform="rotate(158 148.3 163.9)"/>
<ellipse cx="82.8" cy="132.7" rx="5.3" ry="3.1" fill="#58ac20" opacity="0.88" transform="rotate(144 82.8 132.7)"/>
<ellipse cx="189.4" cy="138.8" rx="2.8" ry="4.5" fill="#80a82a" opacity="0.88" transform="rotate(20 189.4 138.8)"/>
<ellipse cx="197.5" cy="160.8" rx="3.3" ry="3.5" fill="#80a82a" opacity="0.88" transform="rotate(136 197.5 160.8)"/>
<ellipse cx="89.0" cy="136.3" rx="4.4" ry="3.3" fill="#4cb422" opacity="0.88" transform="rotate(34 89.0 136.3)"/>
<ellipse cx="156.5" cy="179.8" rx="3.6" ry="3.3" fill="#40b020" opacity="0.88" transform="rotate(23 156.5 179.8)"/>
<ellipse cx="51.0" cy="111.9" rx="4.3" ry="2.9" fill="#40b020" opacity="0.88" transform="rotate(144 51.0 111.9)"/>
<ellipse cx="50.4" cy="169.1" rx="3.6" ry="3.9" fill="#4cb422" opacity="0.88" transform="rotate(6 50.4 169.1)"/>
<ellipse cx="148.1" cy="167.6" rx="3.7" ry="2.4" fill="#58ac20" opacity="0.88" transform="rotate(84 148.1 167.6)"/>
<ellipse cx="164.4" cy="146.6" rx="4.9" ry="3.7" fill="#40b020" opacity="0.88" transform="rotate(117 164.4 146.6)"/>
<ellipse cx="84.9" cy="135.1" rx="4.8" ry="3.0" fill="#80a82a" opacity="0.88" transform="rotate(168 84.9 135.1)"/>
<ellipse cx="111.4" cy="152.9" rx="4.7" ry="2.8" fill="#38a81c" opacity="0.88" transform="rotate(78 111.4 152.9)"/>
<ellipse cx="140.6" cy="133.5" rx="5.6" ry="3.6" fill="#58ac20" opacity="0.88" transform="rotate(144 140.6 133.5)"/>
<ellipse cx="194.5" cy="183.6" rx="3.9" ry="3.2" fill="#38a81c" opacity="0.88" transform="rotate(78 194.5 183.6)"/>
<ellipse cx="191.1" cy="148.1" rx="4.3" ry="3.7" fill="#38a81c" opacity="0.88" transform="rotate(110 191.1 148.1)"/>
<ellipse cx="160.9" cy="161.1" rx="4.8" ry="4.6" fill="#40b020" opacity="0.88" transform="rotate(69 160.9 161.1)"/>
<ellipse cx="181.7" cy="160.7" rx="4.3" ry="4.0" fill="#80a82a" opacity="0.88" transform="rotate(39 181.7 160.7)"/>
<ellipse cx="106.0" cy="149.6" rx="5.2" ry="4.2" fill="#38a81c" opacity="0.88" transform="rotate(163 106.0 149.6)"/>
<ellipse cx="107.5" cy="123.6" rx="3.8" ry="3.9" fill="#40b020" opacity="0.88" transform="rotate(131 107.5 123.6)"/>
<ellipse cx="151.0" cy="127.1" rx="3.1" ry="2.6" fill="#80a82a" opacity="0.88" transform="rotate(68 151.0 127.1)"/>
<ellipse cx="104.5" cy="174.9" rx="4.2" ry="3.0" fill="#4cb422" opacity="0.88" transform="rotate(134 104.5 174.9)"/>
<ellipse cx="128.3" cy="117.9" rx="3.6" ry="4.0" fill="#58ac20" opacity="0.88" transform="rotate(55 128.3 117.9)"/>
<ellipse cx="90.4" cy="163.3" rx="5.6" ry="2.6" fill="#38a81c" opacity="0.88" transform="rotate(59 90.4 163.3)"/>
<ellipse cx="177.6" cy="134.9" rx="4.6" ry="3.5" fill="#40b020" opacity="0.88" transform="rotate(179 177.6 134.9)"/>
<ellipse cx="143.2" cy="157.9" rx="3.0" ry="3.5" fill="#4cb422" opacity="0.88" transform="rotate(177 143.2 157.9)"/>
<ellipse cx="177.6" cy="139.2" rx="4.2" ry="3.5" fill="#4cb422" opacity="0.88" transform="rotate(112 177.6 139.2)"/>
<ellipse cx="189.5" cy="169.8" rx="3.6" ry="3.0" fill="#4cb422" opacity="0.88" transform="rotate(26 189.5 169.8)"/>
<ellipse cx="77.3" cy="157.3" rx="3.4" ry="2.8" fill="#40b020" opacity="0.88" transform="rotate(24 77.3 157.3)"/>
<ellipse cx="77.8" cy="137.2" rx="4.8" ry="3.3" fill="#80a82a" opacity="0.88" transform="rotate(151 77.8 137.2)"/>
<ellipse cx="124.2" cy="168.7" rx="3.0" ry="2.5" fill="#80a82a" opacity="0.88" transform="rotate(120 124.2 168.7)"/>
<ellipse cx="188.9" cy="167.0" rx="4.0" ry="4.0" fill="#38a81c" opacity="0.88" transform="rotate(60 188.9 167.0)"/>
<ellipse cx="149.8" cy="151.2" rx="3.4" ry="3.0" fill="#58ac20" opacity="0.88" transform="rotate(5 149.8 151.2)"/>
<ellipse cx="63.5" cy="170.5" rx="3.7" ry="2.6" fill="#80a82a" opacity="0.88" transform="rotate(172 63.5 170.5)"/>
<ellipse cx="139.3" cy="162.8" rx="2.9" ry="4.1" fill="#58ac20" opacity="0.88" transform="rotate(42 139.3 162.8)"/>
<ellipse cx="149.3" cy="171.1" rx="3.8" ry="4.0" fill="#40b020" opacity="0.88" transform="rotate(40 149.3 171.1)"/>
<ellipse cx="171.4" cy="170.3" rx="4.1" ry="2.5" fill="#38a81c" opacity="0.88" transform="rotate(94 171.4 170.3)"/>
<ellipse cx="136.9" cy="134.9" rx="3.3" ry="3.7" fill="#4cb422" opacity="0.88" transform="rotate(144 136.9 134.9)"/>
<ellipse cx="157.0" cy="154.4" rx="4.3" ry="3.3" fill="#40b020" opacity="0.88" transform="rotate(156 157.0 154.4)"/>
<ellipse cx="196.6" cy="157.7" rx="5.2" ry="3.3" fill="#80a82a" opacity="0.88" transform="rotate(163 196.6 157.7)"/>
<ellipse cx="145.1" cy="145.9" rx="3.7" ry="3.7" fill="#40b020" opacity="0.88" transform="rotate(172 145.1 145.9)"/>
<ellipse cx="64.0" cy="164.3" rx="3.1" ry="3.8" fill="#58ac20" opacity="0.88" transform="rotate(119 64.0 164.3)"/>
<ellipse cx="180.8" cy="162.7" rx="3.2" ry="3.7" fill="#80a82a" opacity="0.88" transform="rotate(7 180.8 162.7)"/>
<ellipse cx="147.7" cy="172.9" rx="5.5" ry="2.5" fill="#4cb422" opacity="0.88" transform="rotate(112 147.7 172.9)"/>
<ellipse cx="198.7" cy="169.1" rx="3.6" ry="3.8" fill="#80a82a" opacity="0.88" transform="rotate(159 198.7 169.1)"/>
<ellipse cx="113.9" cy="153.8" rx="3.9" ry="4.1" fill="#40b020" opacity="0.88" transform="rotate(50 113.9 153.8)"/>
<ellipse cx="188.7" cy="169.4" rx="4.2" ry="3.5" fill="#4cb422" opacity="0.88" transform="rotate(50 188.7 169.4)"/>
<ellipse cx="112.3" cy="178.1" rx="4.1" ry="4.2" fill="#58ac20" opacity="0.88" transform="rotate(98 112.3 178.1)"/>
<ellipse cx="58.4" cy="165.1" rx="5.0" ry="3.5" fill="#38a81c" opacity="0.88" transform="rotate(176 58.4 165.1)"/>
<ellipse cx="106.3" cy="183.4" rx="5.4" ry="4.5" fill="#40b020" opacity="0.88" transform="rotate(28 106.3 183.4)"/>
<ellipse cx="95.0" cy="170.7" rx="3.9" ry="3.9" fill="#58ac20" opacity="0.88" transform="rotate(45 95.0 170.7)"/>
<ellipse cx="121.6" cy="138.6" rx="3.5" ry="4.5" fill="#38a81c" opacity="0.88" transform="rotate(138 121.6 138.6)"/>
<ellipse cx="196.3" cy="156.9" rx="4.3" ry="3.6" fill="#58ac20" opacity="0.88" transform="rotate(61 196.3 156.9)"/>
<ellipse cx="92.7" cy="173.2" rx="5.4" ry="2.4" fill="#4cb422" opacity="0.88" transform="rotate(114 92.7 173.2)"/>
<ellipse cx="114.8" cy="180.5" rx="4.4" ry="2.8" fill="#58ac20" opacity="0.88" transform="rotate(138 114.8 180.5)"/>
<ellipse cx="83.9" cy="131.6" rx="3.1" ry="3.3" fill="#40b020" opacity="0.88" transform="rotate(62 83.9 131.6)"/>
</g></g>
<defs><linearGradient id="lgA2" x1="0" x2="1" y1="0" y2="0"><stop offset="0" stop-color="#050000"/><stop offset="0.7" stop-color="#050000"/><stop offset="1" stop-color="#050000" stop-opacity="0"/></linearGradient></defs>
<path d="M28.3,108.5 L41,108.5 C42,125 41,150 39,184.5 L28.3,184.5 Z" fill="url(#lgA2)"/>
<text x="37.6" y="43.8" font-size="12.2" font-weight="bold" font-style="normal" text-anchor="middle" fill="#fff">3</text>
<text x="37.6" y="58.5" font-size="12.2" font-weight="bold" font-style="normal" text-anchor="middle" fill="#fff">V</text>
<text x="37.6" y="162.2" font-size="12.2" font-weight="bold" font-style="normal" text-anchor="middle" fill="#fff">3</text>
<text x="37.6" y="177.3" font-size="12.2" font-weight="bold" font-style="normal" text-anchor="middle" fill="#fff">V</text>
<polygon points="93.5,27.7 99.1,24.5 95.7,21.5" fill="#fff"/>
<polygon points="187.5,34.4 193.1,31.2 189.7,28.2" fill="#fff"/>
<polygon points="90.8,47.8 96.4,44.6 93.0,41.6" fill="#fff"/>
<polygon points="101.6,46.5 107.2,43.3 103.8,40.3" fill="#fff"/>
<polygon points="115.0,51.9 120.6,48.7 117.2,45.7" fill="#fff"/>
<polygon points="129.8,47.8 135.4,44.6 132.0,41.6" fill="#fff"/>
<polygon points="61.3,55.9 66.9,52.7 63.5,49.7" fill="#fff"/>
<polygon points="93.5,62.6 99.1,59.4 95.7,56.4" fill="#fff"/>
<polygon points="119.0,61.3 124.6,58.1 121.2,55.1" fill="#fff"/>
<polygon points="127.1,62.6 132.7,59.4 129.3,56.4" fill="#fff"/>
<polygon points="136.5,55.9 142.1,52.7 138.7,49.7" fill="#fff"/>
<polygon points="147.2,58.6 152.8,55.4 149.4,52.4" fill="#fff"/>
<polygon points="188.9,57.2 194.5,54.0 191.1,51.0" fill="#fff"/>
<polygon points="59.9,68.0 65.5,64.8 62.1,61.8" fill="#fff"/>
<polygon points="108.3,70.7 113.9,67.5 110.5,64.5" fill="#fff"/>
<polygon points="120.4,70.7 126.0,67.5 122.6,64.5" fill="#fff"/>
<polygon points="133.8,69.3 139.4,66.1 136.0,63.1" fill="#fff"/>
<polygon points="162.0,69.3 167.6,66.1 164.2,63.1" fill="#fff"/>
<polygon points="186.2,68.0 191.8,64.8 188.4,61.8" fill="#fff"/>
<polygon points="113.6,77.4 119.2,74.2 115.8,71.2" fill="#fff"/>
<polygon points="125.7,77.4 131.3,74.2 127.9,71.2" fill="#fff"/>
<polygon points="136.5,80.1 142.1,76.9 138.7,73.9" fill="#fff"/>
<polygon points="147.2,82.8 152.8,79.6 149.4,76.6" fill="#fff"/>
<polygon points="174.1,80.1 179.7,76.9 176.3,73.9" fill="#fff"/>
<polygon points="55.3,18.4 60.9,15.2 57.5,12.2" fill="#fff"/>
<polygon points="105.6,113.1 111.2,109.9 107.8,106.9" fill="#fff"/>
<polygon points="160.7,150.7 166.3,147.5 162.9,144.5" fill="#fff"/>
<polygon points="190.2,163.3 195.8,160.1 192.4,157.1" fill="#fff"/>
<polygon points="82.8,165.4 88.4,162.2 85.0,159.2" fill="#fff"/>
<polygon points="70.7,173.5 76.3,170.3 72.9,167.3" fill="#fff"/>
<polygon points="61.3,173.0 66.9,169.8 63.5,166.8" fill="#fff"/>
<polygon points="51.3,176.7 56.9,173.5 53.5,170.5" fill="#fff"/>
<rect x="176.80" y="83.90" width="20.20" height="2.70" fill="#fff"/>
<rect x="174.10" y="178.70" width="18.80" height="2.60" fill="#fff"/>
<text x="30" y="12.8" font-size="12.2" font-weight="bold" fill="#000"><tspan font-style="italic">Fto</tspan><tspan font-size="8.6" dy="-2.8">lox/lox</tspan><tspan dy="2.8" x="76.1" textLength="65.2" lengthAdjust="spacingAndGlyphs">/NPY-hrGFP</tspan></text>
<text x="30" y="105.6" font-size="12.6" font-weight="bold" fill="#000"><tspan font-style="italic">Fto</tspan><tspan font-size="8.8" dy="-2.8">lox/lox</tspan><tspan dy="2.8">/</tspan><tspan font-style="italic">Agrp</tspan><tspan>-Cre/NPY-hrGFP</tspan></text>
<line x1="253.80" y1="238.20" x2="253.80" y2="333.00" stroke="#9a9a9a" stroke-width="0.8"/>
<line x1="309.20" y1="238.20" x2="309.20" y2="333.00" stroke="#9a9a9a" stroke-width="0.8"/>
<line x1="362.60" y1="238.20" x2="362.60" y2="333.00" stroke="#9a9a9a" stroke-width="0.8"/>
<line x1="418.00" y1="238.20" x2="418.00" y2="333.00" stroke="#9a9a9a" stroke-width="0.8"/>
<line x1="472.50" y1="238.20" x2="472.50" y2="333.00" stroke="#9a9a9a" stroke-width="0.8"/>
<line x1="526.80" y1="238.20" x2="526.80" y2="333.00" stroke="#9a9a9a" stroke-width="0.8"/>
<line x1="581.20" y1="238.20" x2="581.20" y2="333.00" stroke="#9a9a9a" stroke-width="0.8"/>
<line x1="199.50" y1="238.20" x2="199.50" y2="333.00" stroke="#000" stroke-width="1.2"/>
<line x1="196.00" y1="332.50" x2="199.50" y2="332.50" stroke="#000" stroke-width="1.1"/>
<text x="191.0" y="336.2" font-size="10" font-weight="bold" font-style="normal" text-anchor="end" fill="#000">0</text>
<line x1="196.00" y1="301.06" x2="199.50" y2="301.06" stroke="#000" stroke-width="1.1"/>
<text x="191.0" y="304.8" font-size="10" font-weight="bold" font-style="normal" text-anchor="end" fill="#000">50</text>
<line x1="196.00" y1="269.63" x2="199.50" y2="269.63" stroke="#000" stroke-width="1.1"/>
<text x="191.0" y="273.3" font-size="10" font-weight="bold" font-style="normal" text-anchor="end" fill="#000">100</text>
<line x1="196.00" y1="238.19" x2="199.50" y2="238.19" stroke="#000" stroke-width="1.1"/>
<text x="191.0" y="241.9" font-size="10" font-weight="bold" font-style="normal" text-anchor="end" fill="#000">150</text>
<text font-size="12.3" font-weight="bold" text-anchor="middle" transform="translate(157.2,281.5) rotate(-90)">Food access</text>
<text font-size="12.3" font-weight="bold" text-anchor="middle" transform="translate(171.2,298) rotate(-90)">(counts)</text>
<path d="M199.5,329.4 V324.1 M196.9,324.1 H202.1 M199.5,329.4 V332.5 M196.9,332.5 H202.1" stroke="#8c8c8c" stroke-width="0.9" fill="none"/>
<path d="M202.6,327.7 V321.3 M200.0,321.3 H205.2 M202.6,327.7 V332.5 M200.0,332.5 H205.2" stroke="#8c8c8c" stroke-width="0.9" fill="none"/>
<path d="M202.6,320.1 V309.2 M200.0,309.2 H205.2 M202.6,320.1 V331.0 M200.0,331.0 H205.2" stroke="#8c8c8c" stroke-width="0.9" fill="none"/>
<path d="M204.9,327.8 V322.6 M202.3,322.6 H207.5 M204.9,327.8 V332.5 M202.3,332.5 H207.5" stroke="#8c8c8c" stroke-width="0.9" fill="none"/>
<path d="M204.9,330.0 V324.0 M202.3,324.0 H207.5 M204.9,330.0 V332.5 M202.3,332.5 H207.5" stroke="#8c8c8c" stroke-width="0.9" fill="none"/>
<path d="M207.7,328.4 V321.7 M205.1,321.7 H210.3 M207.7,328.4 V332.5 M205.1,332.5 H210.3" stroke="#8c8c8c" stroke-width="0.9" fill="none"/>
<path d="M207.7,329.4 V326.1 M205.1,326.1 H210.3 M207.7,329.4 V332.5 M205.1,332.5 H210.3" stroke="#8c8c8c" stroke-width="0.9" fill="none"/>
<path d="M210.4,328.5 V324.4 M207.8,324.4 H213.0 M210.4,328.5 V332.5 M207.8,332.5 H213.0" stroke="#8c8c8c" stroke-width="0.9" fill="none"/>
<path d="M210.4,329.2 V324.3 M207.8,324.3 H213.0 M210.4,329.2 V332.5 M207.8,332.5 H213.0" stroke="#8c8c8c" stroke-width="0.9" fill="none"/>
<path d="M213.2,327.9 V324.5 M210.6,324.5 H215.8 M213.2,327.9 V331.3 M210.6,331.3 H215.8" stroke="#8c8c8c" stroke-width="0.9" fill="none"/>
<path d="M213.2,330.6 V327.2 M210.6,327.2 H215.8 M213.2,330.6 V332.5 M210.6,332.5 H215.8" stroke="#8c8c8c" stroke-width="0.9" fill="none"/>
<path d="M215.6,327.3 V320.1 M213.0,320.1 H218.2 M215.6,327.3 V332.5 M213.0,332.5 H218.2" stroke="#8c8c8c" stroke-width="0.9" fill="none"/>
<path d="M215.6,330.3 V325.0 M213.0,325.0 H218.2 M215.6,330.3 V332.5 M213.0,332.5 H218.2" stroke="#8c8c8c" stroke-width="0.9" fill="none"/>
<path d="M218.0,326.6 V319.5 M215.4,319.5 H220.6 M218.0,326.6 V332.5 M215.4,332.5 H220.6" stroke="#8c8c8c" stroke-width="0.9" fill="none"/>
<path d="M218.0,330.0 V326.7 M215.4,326.7 H220.6 M218.0,330.0 V332.5 M215.4,332.5 H220.6" stroke="#8c8c8c" stroke-width="0.9" fill="none"/>
<path d="M220.8,325.7 V321.2 M218.2,321.2 H223.4 M220.8,325.7 V330.1 M218.2,330.1 H223.4" stroke="#8c8c8c" stroke-width="0.9" fill="none"/>
<path d="M220.8,328.5 V325.3 M218.2,325.3 H223.4 M220.8,328.5 V331.7 M218.2,331.7 H223.4" stroke="#8c8c8c" stroke-width="0.9" fill="none"/>
<path d="M223.9,325.4 V320.4 M221.3,320.4 H226.5 M223.9,325.4 V330.3 M221.3,330.3 H226.5" stroke="#8c8c8c" stroke-width="0.9" fill="none"/>
<path d="M223.9,326.9 V322.4 M221.3,322.4 H226.5 M223.9,326.9 V331.4 M221.3,331.4 H226.5" stroke="#8c8c8c" stroke-width="0.9" fill="none"/>
<path d="M227.1,326.4 V318.8 M224.5,318.8 H229.7 M227.1,326.4 V332.5 M224.5,332.5 H229.7" stroke="#8c8c8c" stroke-width="0.9" fill="none"/>
<path d="M227.1,328.4 V324.1 M224.5,324.1 H229.7 M227.1,328.4 V332.5 M224.5,332.5 H229.7" stroke="#8c8c8c" stroke-width="0.9" fill="none"/>
<path d="M230.2,319.0 V310.0 M227.6,310.0 H232.8 M230.2,319.0 V327.9 M227.6,327.9 H232.8" stroke="#8c8c8c" stroke-width="0.9" fill="none"/>
<path d="M230.2,324.7 V317.3 M227.6,317.3 H232.8 M230.2,324.7 V332.1 M227.6,332.1 H232.8" stroke="#8c8c8c" stroke-width="0.9" fill="none"/>
<path d="M232.6,320.5 V309.7 M230.0,309.7 H235.2 M232.6,320.5 V331.3 M230.0,331.3 H235.2" stroke="#8c8c8c" stroke-width="0.9" fill="none"/>
<path d="M232.6,330.5 V325.5 M230.0,325.5 H235.2 M232.6,330.5 V332.5 M230.0,332.5 H235.2" stroke="#8c8c8c" stroke-width="0.9" fill="none"/>
<path d="M235.8,326.1 V318.3 M233.2,318.3 H238.4 M235.8,326.1 V332.5 M233.2,332.5 H238.4" stroke="#8c8c8c" stroke-width="0.9" fill="none"/>
<path d="M235.8,330.2 V326.4 M233.2,326.4 H238.4 M235.8,330.2 V332.5 M233.2,332.5 H238.4" stroke="#8c8c8c" stroke-width="0.9" fill="none"/>
<path d="M238.4,325.9 V321.4 M235.8,321.4 H241.0 M238.4,325.9 V330.5 M235.8,330.5 H241.0" stroke="#8c8c8c" stroke-width="0.9" fill="none"/>
<path d="M238.4,329.4 V325.9 M235.8,325.9 H241.0 M238.4,329.4 V332.5 M235.8,332.5 H241.0" stroke="#8c8c8c" stroke-width="0.9" fill="none"/>
<path d="M240.6,323.1 V317.0 M238.0,317.0 H243.2 M240.6,323.1 V329.2 M238.0,329.2 H243.2" stroke="#8c8c8c" stroke-width="0.9" fill="none"/>
<path d="M240.6,328.0 V322.3 M238.0,322.3 H243.2 M240.6,328.0 V332.5 M238.0,332.5 H243.2" stroke="#8c8c8c" stroke-width="0.9" fill="none"/>
<path d="M242.8,319.6 V310.0 M240.2,310.0 H245.4 M242.8,319.6 V329.2 M240.2,329.2 H245.4" stroke="#8c8c8c" stroke-width="0.9" fill="none"/>
<path d="M242.8,328.2 V323.6 M240.2,323.6 H245.4 M242.8,328.2 V332.5 M240.2,332.5 H245.4" stroke="#8c8c8c" stroke-width="0.9" fill="none"/>
<path d="M245.3,323.3 V314.6 M242.7,314.6 H247.9 M245.3,323.3 V332.0 M242.7,332.0 H247.9" stroke="#8c8c8c" stroke-width="0.9" fill="none"/>
<path d="M245.3,329.5 V324.8 M242.7,324.8 H247.9 M245.3,329.5 V332.5 M242.7,332.5 H247.9" stroke="#8c8c8c" stroke-width="0.9" fill="none"/>
<path d="M247.9,324.6 V318.0 M245.3,318.0 H250.5 M247.9,324.6 V331.1 M245.3,331.1 H250.5" stroke="#8c8c8c" stroke-width="0.9" fill="none"/>
<path d="M247.9,329.0 V323.3 M245.3,323.3 H250.5 M247.9,329.0 V332.5 M245.3,332.5 H250.5" stroke="#8c8c8c" stroke-width="0.9" fill="none"/>
<path d="M250.1,323.1 V313.4 M247.5,313.4 H252.7 M250.1,323.1 V332.5 M247.5,332.5 H252.7" stroke="#8c8c8c" stroke-width="0.9" fill="none"/>
<path d="M250.1,327.5 V323.9 M247.5,323.9 H252.7 M250.1,327.5 V331.0 M247.5,331.0 H252.7" stroke="#8c8c8c" stroke-width="0.9" fill="none"/>
<path d="M253.1,324.1 V315.6 M250.5,315.6 H255.7 M253.1,324.1 V332.5 M250.5,332.5 H255.7" stroke="#8c8c8c" stroke-width="0.9" fill="none"/>
<path d="M253.1,318.3 V312.5 M250.5,312.5 H255.7 M253.1,318.3 V324.1 M250.5,324.1 H255.7" stroke="#8c8c8c" stroke-width="0.9" fill="none"/>
<path d="M256.1,285.5 V266.2 M253.5,266.2 H258.7 M256.1,285.5 V304.9 M253.5,304.9 H258.7" stroke="#8c8c8c" stroke-width="0.9" fill="none"/>
<path d="M256.1,300.4 V283.8 M253.5,283.8 H258.7 M256.1,300.4 V317.1 M253.5,317.1 H258.7" stroke="#8c8c8c" stroke-width="0.9" fill="none"/>
<path d="M258.3,285.0 V270.6 M255.7,270.6 H260.9 M258.3,285.0 V299.4 M255.7,299.4 H260.9" stroke="#8c8c8c" stroke-width="0.9" fill="none"/>
<path d="M258.3,297.4 V284.5 M255.7,284.5 H260.9 M258.3,297.4 V310.4 M255.7,310.4 H260.9" stroke="#8c8c8c" stroke-width="0.9" fill="none"/>
<path d="M261.4,312.3 V303.5 M258.8,303.5 H264.0 M261.4,312.3 V321.0 M258.8,321.0 H264.0" stroke="#8c8c8c" stroke-width="0.9" fill="none"/>
<path d="M261.4,296.7 V276.3 M258.8,276.3 H264.0 M261.4,296.7 V317.1 M258.8,317.1 H264.0" stroke="#8c8c8c" stroke-width="0.9" fill="none"/>
<path d="M264.6,322.1 V312.2 M262.0,312.2 H267.2 M264.6,322.1 V332.1 M262.0,332.1 H267.2" stroke="#8c8c8c" stroke-width="0.9" fill="none"/>
<path d="M264.6,298.5 V283.8 M262.0,283.8 H267.2 M264.6,298.5 V313.1 M262.0,313.1 H267.2" stroke="#8c8c8c" stroke-width="0.9" fill="none"/>
<path d="M267.1,317.1 V307.5 M264.5,307.5 H269.7 M267.1,317.1 V326.7 M264.5,326.7 H269.7" stroke="#8c8c8c" stroke-width="0.9" fill="none"/>
<path d="M267.1,297.1 V276.6 M264.5,276.6 H269.7 M267.1,297.1 V317.6 M264.5,317.6 H269.7" stroke="#8c8c8c" stroke-width="0.9" fill="none"/>
<path d="M269.4,325.2 V317.7 M266.8,317.7 H272.0 M269.4,325.2 V332.5 M266.8,332.5 H272.0" stroke="#8c8c8c" stroke-width="0.9" fill="none"/>
<path d="M269.4,289.5 V265.3 M266.8,265.3 H272.0 M269.4,289.5 V313.8 M266.8,313.8 H272.0" stroke="#8c8c8c" stroke-width="0.9" fill="none"/>
<path d="M272.5,315.2 V308.5 M269.9,308.5 H275.1 M272.5,315.2 V321.9 M269.9,321.9 H275.1" stroke="#8c8c8c" stroke-width="0.9" fill="none"/>
<path d="M272.5,296.2 V273.0 M269.9,273.0 H275.1 M272.5,296.2 V319.3 M269.9,319.3 H275.1" stroke="#8c8c8c" stroke-width="0.9" fill="none"/>
<path d="M274.8,311.8 V301.7 M272.2,301.7 H277.4 M274.8,311.8 V321.9 M272.2,321.9 H277.4" stroke="#8c8c8c" stroke-width="0.9" fill="none"/>
<path d="M274.8,303.5 V287.6 M272.2,287.6 H277.4 M274.8,303.5 V319.3 M272.2,319.3 H277.4" stroke="#8c8c8c" stroke-width="0.9" fill="none"/>
<path d="M277.9,312.8 V303.1 M275.3,303.1 H280.5 M277.9,312.8 V322.6 M275.3,322.6 H280.5" stroke="#8c8c8c" stroke-width="0.9" fill="none"/>
<path d="M277.9,280.8 V250.4 M275.3,250.4 H280.5 M277.9,280.8 V311.3 M275.3,311.3 H280.5" stroke="#8c8c8c" stroke-width="0.9" fill="none"/>
<path d="M280.6,314.5 V305.5 M278.0,305.5 H283.2 M280.6,314.5 V323.5 M278.0,323.5 H283.2" stroke="#8c8c8c" stroke-width="0.9" fill="none"/>
<path d="M280.6,286.8 V268.7 M278.0,268.7 H283.2 M280.6,286.8 V304.9 M278.0,304.9 H283.2" stroke="#8c8c8c" stroke-width="0.9" fill="none"/>
<path d="M283.0,318.8 V312.8 M280.4,312.8 H285.6 M283.0,318.8 V324.9 M280.4,324.9 H285.6" stroke="#8c8c8c" stroke-width="0.9" fill="none"/>
<path d="M283.0,297.2 V284.6 M280.4,284.6 H285.6 M283.0,297.2 V309.8 M280.4,309.8 H285.6" stroke="#8c8c8c" stroke-width="0.9" fill="none"/>
<path d="M285.9,319.0 V307.0 M283.3,307.0 H288.5 M285.9,319.0 V330.9 M283.3,330.9 H288.5" stroke="#8c8c8c" stroke-width="0.9" fill="none"/>
<path d="M285.9,302.1 V290.7 M283.3,290.7 H288.5 M285.9,302.1 V313.4 M283.3,313.4 H288.5" stroke="#8c8c8c" stroke-width="0.9" fill="none"/>
<path d="M288.1,325.3 V316.7 M285.5,316.7 H290.7 M288.1,325.3 V332.5 M285.5,332.5 H290.7" stroke="#8c8c8c" stroke-width="0.9" fill="none"/>
<path d="M288.1,303.8 V289.0 M285.5,289.0 H290.7 M288.1,303.8 V318.7 M285.5,318.7 H290.7" stroke="#8c8c8c" stroke-width="0.9" fill="none"/>
<path d="M290.7,320.2 V313.6 M288.1,313.6 H293.3 M290.7,320.2 V326.9 M288.1,326.9 H293.3" stroke="#8c8c8c" stroke-width="0.9" fill="none"/>
<path d="M290.7,324.4 V317.3 M288.1,317.3 H293.3 M290.7,324.4 V331.5 M288.1,331.5 H293.3" stroke="#8c8c8c" stroke-width="0.9" fill="none"/>
<path d="M293.8,325.5 V319.4 M291.2,319.4 H296.4 M293.8,325.5 V331.5 M291.2,331.5 H296.4" stroke="#8c8c8c" stroke-width="0.9" fill="none"/>
<path d="M293.8,318.6 V310.3 M291.2,310.3 H296.4 M293.8,318.6 V327.0 M291.2,327.0 H296.4" stroke="#8c8c8c" stroke-width="0.9" fill="none"/>
<path d="M296.0,326.3 V318.5 M293.4,318.5 H298.6 M296.0,326.3 V332.5 M293.4,332.5 H298.6" stroke="#8c8c8c" stroke-width="0.9" fill="none"/>
<path d="M296.0,317.2 V311.1 M293.4,311.1 H298.6 M296.0,317.2 V323.4 M293.4,323.4 H298.6" stroke="#8c8c8c" stroke-width="0.9" fill="none"/>
<path d="M298.7,323.7 V315.1 M296.1,315.1 H301.3 M298.7,323.7 V332.4 M296.1,332.4 H301.3" stroke="#8c8c8c" stroke-width="0.9" fill="none"/>
<path d="M298.7,315.6 V308.3 M296.1,308.3 H301.3 M298.7,315.6 V322.9 M296.1,322.9 H301.3" stroke="#8c8c8c" stroke-width="0.9" fill="none"/>
<path d="M301.7,326.6 V318.9 M299.1,318.9 H304.3 M301.7,326.6 V332.5 M299.1,332.5 H304.3" stroke="#8c8c8c" stroke-width="0.9" fill="none"/>
<path d="M301.7,313.5 V301.7 M299.1,301.7 H304.3 M301.7,313.5 V325.4 M299.1,325.4 H304.3" stroke="#8c8c8c" stroke-width="0.9" fill="none"/>
<path d="M304.6,328.5 V324.9 M302.0,324.9 H307.2 M304.6,328.5 V332.1 M302.0,332.1 H307.2" stroke="#8c8c8c" stroke-width="0.9" fill="none"/>
<path d="M304.6,314.2 V304.2 M302.0,304.2 H307.2 M304.6,314.2 V324.2 M302.0,324.2 H307.2" stroke="#8c8c8c" stroke-width="0.9" fill="none"/>
<path d="M307.0,328.4 V322.0 M304.4,322.0 H309.6 M307.0,328.4 V332.5 M304.4,332.5 H309.6" stroke="#8c8c8c" stroke-width="0.9" fill="none"/>
<path d="M307.0,310.7 V300.7 M304.4,300.7 H309.6 M307.0,310.7 V320.8 M304.4,320.8 H309.6" stroke="#8c8c8c" stroke-width="0.9" fill="none"/>
<path d="M309.6,324.3 V315.1 M307.0,315.1 H312.2 M309.6,324.3 V332.5 M307.0,332.5 H312.2" stroke="#8c8c8c" stroke-width="0.9" fill="none"/>
<path d="M312.3,328.1 V323.0 M309.7,323.0 H314.9 M312.3,328.1 V332.5 M309.7,332.5 H314.9" stroke="#8c8c8c" stroke-width="0.9" fill="none"/>
<path d="M312.3,331.0 V326.1 M309.7,326.1 H314.9 M312.3,331.0 V332.5 M309.7,332.5 H314.9" stroke="#8c8c8c" stroke-width="0.9" fill="none"/>
<path d="M314.8,330.3 V326.2 M312.2,326.2 H317.4 M314.8,330.3 V332.5 M312.2,332.5 H317.4" stroke="#8c8c8c" stroke-width="0.9" fill="none"/>
<path d="M314.8,330.7 V327.6 M312.2,327.6 H317.4 M314.8,330.7 V332.5 M312.2,332.5 H317.4" stroke="#8c8c8c" stroke-width="0.9" fill="none"/>
<path d="M318.0,326.8 V319.1 M315.4,319.1 H320.6 M318.0,326.8 V332.5 M315.4,332.5 H320.6" stroke="#8c8c8c" stroke-width="0.9" fill="none"/>
<path d="M318.0,330.2 V325.3 M315.4,325.3 H320.6 M318.0,330.2 V332.5 M315.4,332.5 H320.6" stroke="#8c8c8c" stroke-width="0.9" fill="none"/>
<path d="M320.7,326.2 V320.9 M318.1,320.9 H323.3 M320.7,326.2 V331.5 M318.1,331.5 H323.3" stroke="#8c8c8c" stroke-width="0.9" fill="none"/>
<path d="M320.7,329.6 V326.4 M318.1,326.4 H323.3 M320.7,329.6 V332.5 M318.1,332.5 H323.3" stroke="#8c8c8c" stroke-width="0.9" fill="none"/>
<path d="M323.2,329.4 V323.6 M320.6,323.6 H325.8 M323.2,329.4 V332.5 M320.6,332.5 H325.8" stroke="#8c8c8c" stroke-width="0.9" fill="none"/>
<path d="M323.2,329.8 V323.9 M320.6,323.9 H325.8 M323.2,329.8 V332.5 M320.6,332.5 H325.8" stroke="#8c8c8c" stroke-width="0.9" fill="none"/>
<path d="M325.7,329.5 V323.8 M323.1,323.8 H328.3 M325.7,329.5 V332.5 M323.1,332.5 H328.3" stroke="#8c8c8c" stroke-width="0.9" fill="none"/>
<path d="M328.6,325.0 V317.3 M326.0,317.3 H331.2 M328.6,325.0 V332.5 M326.0,332.5 H331.2" stroke="#8c8c8c" stroke-width="0.9" fill="none"/>
<path d="M328.6,330.6 V326.7 M326.0,326.7 H331.2 M328.6,330.6 V332.5 M326.0,332.5 H331.2" stroke="#8c8c8c" stroke-width="0.9" fill="none"/>
<path d="M331.5,326.2 V321.2 M328.9,321.2 H334.1 M331.5,326.2 V331.2 M328.9,331.2 H334.1" stroke="#8c8c8c" stroke-width="0.9" fill="none"/>
<path d="M331.5,329.4 V324.6 M328.9,324.6 H334.1 M331.5,329.4 V332.5 M328.9,332.5 H334.1" stroke="#8c8c8c" stroke-width="0.9" fill="none"/>
<path d="M334.5,329.7 V324.4 M331.9,324.4 H337.1 M334.5,329.7 V332.5 M331.9,332.5 H337.1" stroke="#8c8c8c" stroke-width="0.9" fill="none"/>
<path d="M334.5,328.4 V324.1 M331.9,324.1 H337.1 M334.5,328.4 V332.5 M331.9,332.5 H337.1" stroke="#8c8c8c" stroke-width="0.9" fill="none"/>
<path d="M337.6,329.3 V324.0 M335.0,324.0 H340.2 M337.6,329.3 V332.5 M335.0,332.5 H340.2" stroke="#8c8c8c" stroke-width="0.9" fill="none"/>
<path d="M337.6,327.8 V322.1 M335.0,322.1 H340.2 M337.6,327.8 V332.5 M335.0,332.5 H340.2" stroke="#8c8c8c" stroke-width="0.9" fill="none"/>
<path d="M339.8,328.1 V322.7 M337.2,322.7 H342.4 M339.8,328.1 V332.5 M337.2,332.5 H342.4" stroke="#8c8c8c" stroke-width="0.9" fill="none"/>
<path d="M339.8,327.8 V323.4 M337.2,323.4 H342.4 M339.8,327.8 V332.2 M337.2,332.2 H342.4" stroke="#8c8c8c" stroke-width="0.9" fill="none"/>
<path d="M342.7,327.9 V322.7 M340.1,322.7 H345.3 M342.7,327.9 V332.5 M340.1,332.5 H345.3" stroke="#8c8c8c" stroke-width="0.9" fill="none"/>
<path d="M342.7,328.9 V322.7 M340.1,322.7 H345.3 M342.7,328.9 V332.5 M340.1,332.5 H345.3" stroke="#8c8c8c" stroke-width="0.9" fill="none"/>
<path d="M345.5,328.6 V322.5 M342.9,322.5 H348.1 M345.5,328.6 V332.5 M342.9,332.5 H348.1" stroke="#8c8c8c" stroke-width="0.9" fill="none"/>
<path d="M345.5,329.4 V325.1 M342.9,325.1 H348.1 M345.5,329.4 V332.5 M342.9,332.5 H348.1" stroke="#8c8c8c" stroke-width="0.9" fill="none"/>
<path d="M348.4,327.8 V321.4 M345.8,321.4 H351.0 M348.4,327.8 V332.5 M345.8,332.5 H351.0" stroke="#8c8c8c" stroke-width="0.9" fill="none"/>
<path d="M348.4,329.4 V323.4 M345.8,323.4 H351.0 M348.4,329.4 V332.5 M345.8,332.5 H351.0" stroke="#8c8c8c" stroke-width="0.9" fill="none"/>
<path d="M350.9,326.1 V318.6 M348.3,318.6 H353.5 M350.9,326.1 V332.5 M348.3,332.5 H353.5" stroke="#8c8c8c" stroke-width="0.9" fill="none"/>
<path d="M350.9,329.1 V323.0 M348.3,323.0 H353.5 M350.9,329.1 V332.5 M348.3,332.5 H353.5" stroke="#8c8c8c" stroke-width="0.9" fill="none"/>
<path d="M353.8,316.8 V303.9 M351.2,303.9 H356.4 M353.8,316.8 V329.7 M351.2,329.7 H356.4" stroke="#8c8c8c" stroke-width="0.9" fill="none"/>
<path d="M353.8,326.4 V318.5 M351.2,318.5 H356.4 M353.8,326.4 V332.5 M351.2,332.5 H356.4" stroke="#8c8c8c" stroke-width="0.9" fill="none"/>
<path d="M356.5,293.0 V273.9 M353.9,273.9 H359.1 M356.5,293.0 V312.0 M353.9,312.0 H359.1" stroke="#8c8c8c" stroke-width="0.9" fill="none"/>
<path d="M356.5,323.8 V318.6 M353.9,318.6 H359.1 M356.5,323.8 V329.0 M353.9,329.0 H359.1" stroke="#8c8c8c" stroke-width="0.9" fill="none"/>
<path d="M359.6,291.2 V265.6 M357.0,265.6 H362.2 M359.6,291.2 V316.7 M357.0,316.7 H362.2" stroke="#8c8c8c" stroke-width="0.9" fill="none"/>
<path d="M359.6,325.2 V318.9 M357.0,318.9 H362.2 M359.6,325.2 V331.4 M357.0,331.4 H362.2" stroke="#8c8c8c" stroke-width="0.9" fill="none"/>
<path d="M362.5,323.0 V314.7 M359.9,314.7 H365.1 M362.5,323.0 V331.4 M359.9,331.4 H365.1" stroke="#8c8c8c" stroke-width="0.9" fill="none"/>
<path d="M362.5,316.3 V304.9 M359.9,304.9 H365.1 M362.5,316.3 V327.7 M359.9,327.7 H365.1" stroke="#8c8c8c" stroke-width="0.9" fill="none"/>
<path d="M364.8,293.6 V271.4 M362.2,271.4 H367.4 M364.8,293.6 V315.7 M362.2,315.7 H367.4" stroke="#8c8c8c" stroke-width="0.9" fill="none"/>
<path d="M364.8,302.0 V285.9 M362.2,285.9 H367.4 M364.8,302.0 V318.1 M362.2,318.1 H367.4" stroke="#8c8c8c" stroke-width="0.9" fill="none"/>
<path d="M367.7,281.6 V260.1 M365.1,260.1 H370.3 M367.7,281.6 V303.2 M365.1,303.2 H370.3" stroke="#8c8c8c" stroke-width="0.9" fill="none"/>
<path d="M367.7,290.8 V269.6 M365.1,269.6 H370.3 M367.7,290.8 V312.0 M365.1,312.0 H370.3" stroke="#8c8c8c" stroke-width="0.9" fill="none"/>
<path d="M370.7,295.5 V276.1 M368.1,276.1 H373.3 M370.7,295.5 V314.9 M368.1,314.9 H373.3" stroke="#8c8c8c" stroke-width="0.9" fill="none"/>
<path d="M370.7,302.4 V284.9 M368.1,284.9 H373.3 M370.7,302.4 V319.9 M368.1,319.9 H373.3" stroke="#8c8c8c" stroke-width="0.9" fill="none"/>
<path d="M372.9,304.8 V294.2 M370.3,294.2 H375.5 M372.9,304.8 V315.3 M370.3,315.3 H375.5" stroke="#8c8c8c" stroke-width="0.9" fill="none"/>
<path d="M372.9,305.2 V291.8 M370.3,291.8 H375.5 M372.9,305.2 V318.5 M370.3,318.5 H375.5" stroke="#8c8c8c" stroke-width="0.9" fill="none"/>
<path d="M375.7,313.5 V304.9 M373.1,304.9 H378.3 M375.7,313.5 V322.1 M373.1,322.1 H378.3" stroke="#8c8c8c" stroke-width="0.9" fill="none"/>
<path d="M375.7,295.1 V274.9 M373.1,274.9 H378.3 M375.7,295.1 V315.3 M373.1,315.3 H378.3" stroke="#8c8c8c" stroke-width="0.9" fill="none"/>
<path d="M378.6,310.4 V302.4 M376.0,302.4 H381.2 M378.6,310.4 V318.3 M376.0,318.3 H381.2" stroke="#8c8c8c" stroke-width="0.9" fill="none"/>
<path d="M378.6,300.8 V285.5 M376.0,285.5 H381.2 M378.6,300.8 V316.1 M376.0,316.1 H381.2" stroke="#8c8c8c" stroke-width="0.9" fill="none"/>
<path d="M381.0,315.8 V309.1 M378.4,309.1 H383.6 M381.0,315.8 V322.5 M378.4,322.5 H383.6" stroke="#8c8c8c" stroke-width="0.9" fill="none"/>
<path d="M381.0,301.8 V290.6 M378.4,290.6 H383.6 M381.0,301.8 V312.9 M378.4,312.9 H383.6" stroke="#8c8c8c" stroke-width="0.9" fill="none"/>
<path d="M383.5,315.8 V308.2 M380.9,308.2 H386.1 M383.5,315.8 V323.4 M380.9,323.4 H386.1" stroke="#8c8c8c" stroke-width="0.9" fill="none"/>
<path d="M383.5,288.8 V273.2 M380.9,273.2 H386.1 M383.5,288.8 V304.4 M380.9,304.4 H386.1" stroke="#8c8c8c" stroke-width="0.9" fill="none"/>
<path d="M385.8,317.7 V308.7 M383.2,308.7 H388.4 M385.8,317.7 V326.7 M383.2,326.7 H388.4" stroke="#8c8c8c" stroke-width="0.9" fill="none"/>
<path d="M385.8,297.5 V282.1 M383.2,282.1 H388.4 M385.8,297.5 V312.9 M383.2,312.9 H388.4" stroke="#8c8c8c" stroke-width="0.9" fill="none"/>
<path d="M388.6,322.3 V314.3 M386.0,314.3 H391.2 M388.6,322.3 V330.3 M386.0,330.3 H391.2" stroke="#8c8c8c" stroke-width="0.9" fill="none"/>
<path d="M388.6,310.5 V300.8 M386.0,300.8 H391.2 M388.6,310.5 V320.1 M386.0,320.1 H391.2" stroke="#8c8c8c" stroke-width="0.9" fill="none"/>
<path d="M391.7,318.3 V312.7 M389.1,312.7 H394.3 M391.7,318.3 V324.0 M389.1,324.0 H394.3" stroke="#8c8c8c" stroke-width="0.9" fill="none"/>
<path d="M391.7,322.5 V315.6 M389.1,315.6 H394.3 M391.7,322.5 V329.3 M389.1,329.3 H394.3" stroke="#8c8c8c" stroke-width="0.9" fill="none"/>
<path d="M394.1,322.7 V315.9 M391.5,315.9 H396.7 M394.1,322.7 V329.5 M391.5,329.5 H396.7" stroke="#8c8c8c" stroke-width="0.9" fill="none"/>
<path d="M394.1,304.5 V294.3 M391.5,294.3 H396.7 M394.1,304.5 V314.7 M391.5,314.7 H396.7" stroke="#8c8c8c" stroke-width="0.9" fill="none"/>
<path d="M397.2,326.1 V320.6 M394.6,320.6 H399.8 M397.2,326.1 V331.6 M394.6,331.6 H399.8" stroke="#8c8c8c" stroke-width="0.9" fill="none"/>
<path d="M397.2,313.1 V305.9 M394.6,305.9 H399.8 M397.2,313.1 V320.3 M394.6,320.3 H399.8" stroke="#8c8c8c" stroke-width="0.9" fill="none"/>
<path d="M400.0,328.0 V324.3 M397.4,324.3 H402.6 M400.0,328.0 V331.7 M397.4,331.7 H402.6" stroke="#8c8c8c" stroke-width="0.9" fill="none"/>
<path d="M400.0,306.2 V292.1 M397.4,292.1 H402.6 M400.0,306.2 V320.2 M397.4,320.2 H402.6" stroke="#8c8c8c" stroke-width="0.9" fill="none"/>
<path d="M402.5,330.1 V325.4 M399.9,325.4 H405.1 M402.5,330.1 V332.5 M399.9,332.5 H405.1" stroke="#8c8c8c" stroke-width="0.9" fill="none"/>
<path d="M402.5,328.5 V321.7 M399.9,321.7 H405.1 M402.5,328.5 V332.5 M399.9,332.5 H405.1" stroke="#8c8c8c" stroke-width="0.9" fill="none"/>
<path d="M405.6,328.6 V323.9 M403.0,323.9 H408.2 M405.6,328.6 V332.5 M403.0,332.5 H408.2" stroke="#8c8c8c" stroke-width="0.9" fill="none"/>
<path d="M405.6,310.4 V295.6 M403.0,295.6 H408.2 M405.6,310.4 V325.1 M403.0,325.1 H408.2" stroke="#8c8c8c" stroke-width="0.9" fill="none"/>
<path d="M408.4,328.1 V323.4 M405.8,323.4 H411.0 M408.4,328.1 V332.5 M405.8,332.5 H411.0" stroke="#8c8c8c" stroke-width="0.9" fill="none"/>
<path d="M408.4,326.7 V322.5 M405.8,322.5 H411.0 M408.4,326.7 V331.0 M405.8,331.0 H411.0" stroke="#8c8c8c" stroke-width="0.9" fill="none"/>
<path d="M411.2,329.2 V324.2 M408.6,324.2 H413.8 M411.2,329.2 V332.5 M408.6,332.5 H413.8" stroke="#8c8c8c" stroke-width="0.9" fill="none"/>
<path d="M411.2,325.8 V317.6 M408.6,317.6 H413.8 M411.2,325.8 V332.5 M408.6,332.5 H413.8" stroke="#8c8c8c" stroke-width="0.9" fill="none"/>
<path d="M414.4,327.7 V321.8 M411.8,321.8 H417.0 M414.4,327.7 V332.5 M411.8,332.5 H417.0" stroke="#8c8c8c" stroke-width="0.9" fill="none"/>
<path d="M414.4,330.1 V326.0 M411.8,326.0 H417.0 M414.4,330.1 V332.5 M411.8,332.5 H417.0" stroke="#8c8c8c" stroke-width="0.9" fill="none"/>
<path d="M417.5,328.1 V324.8 M414.9,324.8 H420.1 M417.5,328.1 V331.4 M414.9,331.4 H420.1" stroke="#8c8c8c" stroke-width="0.9" fill="none"/>
<path d="M417.5,330.7 V327.6 M414.9,327.6 H420.1 M417.5,330.7 V332.5 M414.9,332.5 H420.1" stroke="#8c8c8c" stroke-width="0.9" fill="none"/>
<path d="M420.3,328.8 V325.1 M417.7,325.1 H422.9 M420.3,328.8 V332.5 M417.7,332.5 H422.9" stroke="#8c8c8c" stroke-width="0.9" fill="none"/>
<path d="M420.3,329.8 V324.7 M417.7,324.7 H422.9 M420.3,329.8 V332.5 M417.7,332.5 H422.9" stroke="#8c8c8c" stroke-width="0.9" fill="none"/>
<path d="M423.4,329.6 V325.3 M420.8,325.3 H426.0 M423.4,329.6 V332.5 M420.8,332.5 H426.0" stroke="#8c8c8c" stroke-width="0.9" fill="none"/>
<path d="M423.4,330.6 V326.5 M420.8,326.5 H426.0 M423.4,330.6 V332.5 M420.8,332.5 H426.0" stroke="#8c8c8c" stroke-width="0.9" fill="none"/>
<path d="M425.8,329.6 V325.6 M423.2,325.6 H428.4 M425.8,329.6 V332.5 M423.2,332.5 H428.4" stroke="#8c8c8c" stroke-width="0.9" fill="none"/>
<path d="M425.8,331.2 V325.7 M423.2,325.7 H428.4 M425.8,331.2 V332.5 M423.2,332.5 H428.4" stroke="#8c8c8c" stroke-width="0.9" fill="none"/>
<path d="M428.9,328.0 V321.1 M426.3,321.1 H431.5 M428.9,328.0 V332.5 M426.3,332.5 H431.5" stroke="#8c8c8c" stroke-width="0.9" fill="none"/>
<path d="M428.9,329.9 V325.0 M426.3,325.0 H431.5 M428.9,329.9 V332.5 M426.3,332.5 H431.5" stroke="#8c8c8c" stroke-width="0.9" fill="none"/>
<path d="M431.4,328.2 V321.1 M428.8,321.1 H434.0 M431.4,328.2 V332.5 M428.8,332.5 H434.0" stroke="#8c8c8c" stroke-width="0.9" fill="none"/>
<path d="M431.4,328.8 V323.8 M428.8,323.8 H434.0 M431.4,328.8 V332.5 M428.8,332.5 H434.0" stroke="#8c8c8c" stroke-width="0.9" fill="none"/>
<path d="M434.0,329.6 V325.5 M431.4,325.5 H436.6 M434.0,329.6 V332.5 M431.4,332.5 H436.6" stroke="#8c8c8c" stroke-width="0.9" fill="none"/>
<path d="M434.0,327.6 V320.1 M431.4,320.1 H436.6 M434.0,327.6 V332.5 M431.4,332.5 H436.6" stroke="#8c8c8c" stroke-width="0.9" fill="none"/>
<path d="M436.7,329.1 V324.9 M434.1,324.9 H439.3 M436.7,329.1 V332.5 M434.1,332.5 H439.3" stroke="#8c8c8c" stroke-width="0.9" fill="none"/>
<path d="M436.7,330.6 V326.4 M434.1,326.4 H439.3 M436.7,330.6 V332.5 M434.1,332.5 H439.3" stroke="#8c8c8c" stroke-width="0.9" fill="none"/>
<path d="M439.5,327.7 V322.5 M436.9,322.5 H442.1 M439.5,327.7 V332.5 M436.9,332.5 H442.1" stroke="#8c8c8c" stroke-width="0.9" fill="none"/>
<path d="M439.5,330.6 V326.9 M436.9,326.9 H442.1 M439.5,330.6 V332.5 M436.9,332.5 H442.1" stroke="#8c8c8c" stroke-width="0.9" fill="none"/>
<path d="M442.5,329.1 V323.0 M439.9,323.0 H445.1 M442.5,329.1 V332.5 M439.9,332.5 H445.1" stroke="#8c8c8c" stroke-width="0.9" fill="none"/>
<path d="M442.5,329.8 V326.8 M439.9,326.8 H445.1 M442.5,329.8 V332.5 M439.9,332.5 H445.1" stroke="#8c8c8c" stroke-width="0.9" fill="none"/>
<path d="M445.2,329.4 V325.4 M442.6,325.4 H447.8 M445.2,329.4 V332.5 M442.6,332.5 H447.8" stroke="#8c8c8c" stroke-width="0.9" fill="none"/>
<path d="M445.2,329.7 V323.6 M442.6,323.6 H447.8 M445.2,329.7 V332.5 M442.6,332.5 H447.8" stroke="#8c8c8c" stroke-width="0.9" fill="none"/>
<path d="M448.2,327.9 V323.6 M445.6,323.6 H450.8 M448.2,327.9 V332.2 M445.6,332.2 H450.8" stroke="#8c8c8c" stroke-width="0.9" fill="none"/>
<path d="M448.2,330.5 V326.9 M445.6,326.9 H450.8 M448.2,330.5 V332.5 M445.6,332.5 H450.8" stroke="#8c8c8c" stroke-width="0.9" fill="none"/>
<path d="M450.6,327.1 V319.4 M448.0,319.4 H453.2 M450.6,327.1 V332.5 M448.0,332.5 H453.2" stroke="#8c8c8c" stroke-width="0.9" fill="none"/>
<path d="M453.3,326.4 V319.8 M450.7,319.8 H455.9 M453.3,326.4 V332.5 M450.7,332.5 H455.9" stroke="#8c8c8c" stroke-width="0.9" fill="none"/>
<path d="M455.6,328.3 V322.1 M453.0,322.1 H458.2 M455.6,328.3 V332.5 M453.0,332.5 H458.2" stroke="#8c8c8c" stroke-width="0.9" fill="none"/>
<path d="M455.6,330.4 V326.7 M453.0,326.7 H458.2 M455.6,330.4 V332.5 M453.0,332.5 H458.2" stroke="#8c8c8c" stroke-width="0.9" fill="none"/>
<path d="M458.3,327.3 V322.4 M455.7,322.4 H460.9 M458.3,327.3 V332.2 M455.7,332.2 H460.9" stroke="#8c8c8c" stroke-width="0.9" fill="none"/>
<path d="M458.3,329.9 V326.1 M455.7,326.1 H460.9 M458.3,329.9 V332.5 M455.7,332.5 H460.9" stroke="#8c8c8c" stroke-width="0.9" fill="none"/>
<path d="M461.0,321.7 V314.2 M458.4,314.2 H463.6 M461.0,321.7 V329.2 M458.4,329.2 H463.6" stroke="#8c8c8c" stroke-width="0.9" fill="none"/>
<path d="M461.0,329.5 V325.3 M458.4,325.3 H463.6 M461.0,329.5 V332.5 M458.4,332.5 H463.6" stroke="#8c8c8c" stroke-width="0.9" fill="none"/>
<path d="M464.0,310.9 V298.3 M461.4,298.3 H466.6 M464.0,310.9 V323.5 M461.4,323.5 H466.6" stroke="#8c8c8c" stroke-width="0.9" fill="none"/>
<path d="M464.0,326.4 V322.5 M461.4,322.5 H466.6 M464.0,326.4 V330.3 M461.4,330.3 H466.6" stroke="#8c8c8c" stroke-width="0.9" fill="none"/>
<path d="M466.4,303.8 V289.8 M463.8,289.8 H469.0 M466.4,303.8 V317.8 M463.8,317.8 H469.0" stroke="#8c8c8c" stroke-width="0.9" fill="none"/>
<path d="M466.4,322.7 V313.1 M463.8,313.1 H469.0 M466.4,322.7 V332.2 M463.8,332.2 H469.0" stroke="#8c8c8c" stroke-width="0.9" fill="none"/>
<path d="M469.5,301.6 V285.8 M466.9,285.8 H472.1 M469.5,301.6 V317.4 M466.9,317.4 H472.1" stroke="#8c8c8c" stroke-width="0.9" fill="none"/>
<path d="M469.5,304.0 V294.7 M466.9,294.7 H472.1 M469.5,304.0 V313.3 M466.9,313.3 H472.1" stroke="#8c8c8c" stroke-width="0.9" fill="none"/>
<path d="M472.5,318.0 V309.5 M469.9,309.5 H475.1 M472.5,318.0 V326.6 M469.9,326.6 H475.1" stroke="#8c8c8c" stroke-width="0.9" fill="none"/>
<path d="M472.5,313.9 V302.6 M469.9,302.6 H475.1 M472.5,313.9 V325.1 M469.9,325.1 H475.1" stroke="#8c8c8c" stroke-width="0.9" fill="none"/>
<path d="M475.4,316.8 V306.3 M472.8,306.3 H478.0 M475.4,316.8 V327.3 M472.8,327.3 H478.0" stroke="#8c8c8c" stroke-width="0.9" fill="none"/>
<path d="M475.4,305.8 V292.3 M472.8,292.3 H478.0 M475.4,305.8 V319.4 M472.8,319.4 H478.0" stroke="#8c8c8c" stroke-width="0.9" fill="none"/>
<path d="M478.5,318.4 V310.2 M475.9,310.2 H481.1 M478.5,318.4 V326.6 M475.9,326.6 H481.1" stroke="#8c8c8c" stroke-width="0.9" fill="none"/>
<path d="M478.5,296.5 V280.6 M475.9,280.6 H481.1 M478.5,296.5 V312.4 M475.9,312.4 H481.1" stroke="#8c8c8c" stroke-width="0.9" fill="none"/>
<path d="M481.6,318.5 V311.6 M479.0,311.6 H484.2 M481.6,318.5 V325.4 M479.0,325.4 H484.2" stroke="#8c8c8c" stroke-width="0.9" fill="none"/>
<path d="M481.6,305.2 V293.3 M479.0,293.3 H484.2 M481.6,305.2 V317.1 M479.0,317.1 H484.2" stroke="#8c8c8c" stroke-width="0.9" fill="none"/>
<path d="M484.6,311.8 V304.0 M482.0,304.0 H487.2 M484.6,311.8 V319.6 M482.0,319.6 H487.2" stroke="#8c8c8c" stroke-width="0.9" fill="none"/>
<path d="M484.6,295.3 V273.1 M482.0,273.1 H487.2 M484.6,295.3 V317.4 M482.0,317.4 H487.2" stroke="#8c8c8c" stroke-width="0.9" fill="none"/>
<path d="M487.5,320.7 V313.0 M484.9,313.0 H490.1 M487.5,320.7 V328.3 M484.9,328.3 H490.1" stroke="#8c8c8c" stroke-width="0.9" fill="none"/>
<path d="M487.5,297.5 V283.2 M484.9,283.2 H490.1 M487.5,297.5 V311.7 M484.9,311.7 H490.1" stroke="#8c8c8c" stroke-width="0.9" fill="none"/>
<path d="M490.5,319.5 V308.4 M487.9,308.4 H493.1 M490.5,319.5 V330.6 M487.9,330.6 H493.1" stroke="#8c8c8c" stroke-width="0.9" fill="none"/>
<path d="M490.5,307.0 V297.2 M487.9,297.2 H493.1 M490.5,307.0 V316.8 M487.9,316.8 H493.1" stroke="#8c8c8c" stroke-width="0.9" fill="none"/>
<path d="M493.2,317.4 V307.7 M490.6,307.7 H495.8 M493.2,317.4 V327.0 M490.6,327.0 H495.8" stroke="#8c8c8c" stroke-width="0.9" fill="none"/>
<path d="M493.2,301.4 V286.0 M490.6,286.0 H495.8 M493.2,301.4 V316.7 M490.6,316.7 H495.8" stroke="#8c8c8c" stroke-width="0.9" fill="none"/>
<path d="M495.7,321.8 V316.1 M493.1,316.1 H498.3 M495.7,321.8 V327.5 M493.1,327.5 H498.3" stroke="#8c8c8c" stroke-width="0.9" fill="none"/>
<path d="M495.7,307.7 V293.9 M493.1,293.9 H498.3 M495.7,307.7 V321.6 M493.1,321.6 H498.3" stroke="#8c8c8c" stroke-width="0.9" fill="none"/>
<path d="M498.7,314.5 V307.4 M496.1,307.4 H501.3 M498.7,314.5 V321.6 M496.1,321.6 H501.3" stroke="#8c8c8c" stroke-width="0.9" fill="none"/>
<path d="M498.7,308.5 V298.4 M496.1,298.4 H501.3 M498.7,308.5 V318.7 M496.1,318.7 H501.3" stroke="#8c8c8c" stroke-width="0.9" fill="none"/>
<path d="M501.7,322.1 V313.0 M499.1,313.0 H504.3 M501.7,322.1 V331.3 M499.1,331.3 H504.3" stroke="#8c8c8c" stroke-width="0.9" fill="none"/>
<path d="M501.7,310.5 V297.1 M499.1,297.1 H504.3 M501.7,310.5 V323.9 M499.1,323.9 H504.3" stroke="#8c8c8c" stroke-width="0.9" fill="none"/>
<path d="M503.9,325.2 V317.8 M501.3,317.8 H506.5 M503.9,325.2 V332.5 M501.3,332.5 H506.5" stroke="#8c8c8c" stroke-width="0.9" fill="none"/>
<path d="M503.9,317.9 V305.5 M501.3,305.5 H506.5 M503.9,317.9 V330.2 M501.3,330.2 H506.5" stroke="#8c8c8c" stroke-width="0.9" fill="none"/>
<path d="M507.1,323.9 V316.1 M504.5,316.1 H509.7 M507.1,323.9 V331.8 M504.5,331.8 H509.7" stroke="#8c8c8c" stroke-width="0.9" fill="none"/>
<path d="M507.1,313.1 V305.8 M504.5,305.8 H509.7 M507.1,313.1 V320.4 M504.5,320.4 H509.7" stroke="#8c8c8c" stroke-width="0.9" fill="none"/>
<path d="M510.2,327.5 V323.2 M507.6,323.2 H512.8 M510.2,327.5 V331.9 M507.6,331.9 H512.8" stroke="#8c8c8c" stroke-width="0.9" fill="none"/>
<path d="M510.2,318.3 V308.3 M507.6,308.3 H512.8 M510.2,318.3 V328.2 M507.6,328.2 H512.8" stroke="#8c8c8c" stroke-width="0.9" fill="none"/>
<path d="M513.3,327.6 V321.3 M510.7,321.3 H515.9 M513.3,327.6 V332.5 M510.7,332.5 H515.9" stroke="#8c8c8c" stroke-width="0.9" fill="none"/>
<path d="M513.3,323.1 V317.8 M510.7,317.8 H515.9 M513.3,323.1 V328.3 M510.7,328.3 H515.9" stroke="#8c8c8c" stroke-width="0.9" fill="none"/>
<path d="M515.8,326.3 V318.5 M513.2,318.5 H518.4 M515.8,326.3 V332.5 M513.2,332.5 H518.4" stroke="#8c8c8c" stroke-width="0.9" fill="none"/>
<path d="M515.8,326.0 V321.5 M513.2,321.5 H518.4 M515.8,326.0 V330.5 M513.2,330.5 H518.4" stroke="#8c8c8c" stroke-width="0.9" fill="none"/>
<path d="M518.6,327.9 V322.9 M516.0,322.9 H521.2 M518.6,327.9 V332.5 M516.0,332.5 H521.2" stroke="#8c8c8c" stroke-width="0.9" fill="none"/>
<path d="M518.6,321.1 V315.2 M516.0,315.2 H521.2 M518.6,321.1 V327.1 M516.0,327.1 H521.2" stroke="#8c8c8c" stroke-width="0.9" fill="none"/>
<path d="M521.5,329.1 V325.8 M518.9,325.8 H524.1 M521.5,329.1 V332.3 M518.9,332.3 H524.1" stroke="#8c8c8c" stroke-width="0.9" fill="none"/>
<path d="M521.5,324.7 V320.0 M518.9,320.0 H524.1 M521.5,324.7 V329.3 M518.9,329.3 H524.1" stroke="#8c8c8c" stroke-width="0.9" fill="none"/>
<path d="M524.0,329.7 V326.5 M521.4,326.5 H526.6 M524.0,329.7 V332.5 M521.4,332.5 H526.6" stroke="#8c8c8c" stroke-width="0.9" fill="none"/>
<path d="M524.0,321.5 V316.3 M521.4,316.3 H526.6 M524.0,321.5 V326.7 M521.4,326.7 H526.6" stroke="#8c8c8c" stroke-width="0.9" fill="none"/>
<path d="M526.8,329.9 V324.5 M524.2,324.5 H529.4 M526.8,329.9 V332.5 M524.2,332.5 H529.4" stroke="#8c8c8c" stroke-width="0.9" fill="none"/>
<path d="M526.8,325.8 V317.9 M524.2,317.9 H529.4 M526.8,325.8 V332.5 M524.2,332.5 H529.4" stroke="#8c8c8c" stroke-width="0.9" fill="none"/>
<path d="M529.2,329.7 V325.3 M526.6,325.3 H531.8 M529.2,329.7 V332.5 M526.6,332.5 H531.8" stroke="#8c8c8c" stroke-width="0.9" fill="none"/>
<path d="M529.2,329.4 V325.3 M526.6,325.3 H531.8 M529.2,329.4 V332.5 M526.6,332.5 H531.8" stroke="#8c8c8c" stroke-width="0.9" fill="none"/>
<path d="M532.0,329.4 V324.7 M529.4,324.7 H534.6 M532.0,329.4 V332.5 M529.4,332.5 H534.6" stroke="#8c8c8c" stroke-width="0.9" fill="none"/>
<path d="M532.0,328.0 V321.0 M529.4,321.0 H534.6 M532.0,328.0 V332.5 M529.4,332.5 H534.6" stroke="#8c8c8c" stroke-width="0.9" fill="none"/>
<path d="M534.5,328.9 V325.6 M531.9,325.6 H537.1 M534.5,328.9 V332.3 M531.9,332.3 H537.1" stroke="#8c8c8c" stroke-width="0.9" fill="none"/>
<path d="M534.5,328.8 V323.0 M531.9,323.0 H537.1 M534.5,328.8 V332.5 M531.9,332.5 H537.1" stroke="#8c8c8c" stroke-width="0.9" fill="none"/>
<path d="M536.9,328.3 V322.6 M534.3,322.6 H539.5 M536.9,328.3 V332.5 M534.3,332.5 H539.5" stroke="#8c8c8c" stroke-width="0.9" fill="none"/>
<path d="M536.9,329.4 V324.7 M534.3,324.7 H539.5 M536.9,329.4 V332.5 M534.3,332.5 H539.5" stroke="#8c8c8c" stroke-width="0.9" fill="none"/>
<path d="M540.0,327.5 V321.8 M537.4,321.8 H542.6 M540.0,327.5 V332.5 M537.4,332.5 H542.6" stroke="#8c8c8c" stroke-width="0.9" fill="none"/>
<path d="M540.0,327.6 V321.6 M537.4,321.6 H542.6 M540.0,327.6 V332.5 M537.4,332.5 H542.6" stroke="#8c8c8c" stroke-width="0.9" fill="none"/>
<path d="M542.5,328.4 V323.0 M539.9,323.0 H545.1 M542.5,328.4 V332.5 M539.9,332.5 H545.1" stroke="#8c8c8c" stroke-width="0.9" fill="none"/>
<path d="M542.5,326.7 V321.9 M539.9,321.9 H545.1 M542.5,326.7 V331.4 M539.9,331.4 H545.1" stroke="#8c8c8c" stroke-width="0.9" fill="none"/>
<path d="M545.4,329.4 V324.6 M542.8,324.6 H548.0 M545.4,329.4 V332.5 M542.8,332.5 H548.0" stroke="#8c8c8c" stroke-width="0.9" fill="none"/>
<path d="M545.4,331.8 V329.0 M542.8,329.0 H548.0 M545.4,331.8 V332.5 M542.8,332.5 H548.0" stroke="#8c8c8c" stroke-width="0.9" fill="none"/>
<path d="M548.0,329.6 V324.1 M545.4,324.1 H550.6 M548.0,329.6 V332.5 M545.4,332.5 H550.6" stroke="#8c8c8c" stroke-width="0.9" fill="none"/>
<path d="M550.8,328.5 V324.9 M548.2,324.9 H553.4 M550.8,328.5 V332.0 M548.2,332.0 H553.4" stroke="#8c8c8c" stroke-width="0.9" fill="none"/>
<path d="M550.8,331.7 V327.4 M548.2,327.4 H553.4 M550.8,331.7 V332.5 M548.2,332.5 H553.4" stroke="#8c8c8c" stroke-width="0.9" fill="none"/>
<path d="M553.2,327.6 V321.7 M550.6,321.7 H555.8 M553.2,327.6 V332.5 M550.6,332.5 H555.8" stroke="#8c8c8c" stroke-width="0.9" fill="none"/>
<path d="M555.8,326.5 V321.4 M553.2,321.4 H558.4 M555.8,326.5 V331.6 M553.2,331.6 H558.4" stroke="#8c8c8c" stroke-width="0.9" fill="none"/>
<path d="M555.8,331.0 V325.9 M553.2,325.9 H558.4 M555.8,331.0 V332.5 M553.2,332.5 H558.4" stroke="#8c8c8c" stroke-width="0.9" fill="none"/>
<path d="M558.8,328.6 V325.2 M556.2,325.2 H561.4 M558.8,328.6 V332.0 M556.2,332.0 H561.4" stroke="#8c8c8c" stroke-width="0.9" fill="none"/>
<path d="M558.8,330.6 V327.4 M556.2,327.4 H561.4 M558.8,330.6 V332.5 M556.2,332.5 H561.4" stroke="#8c8c8c" stroke-width="0.9" fill="none"/>
<path d="M561.9,328.0 V322.0 M559.3,322.0 H564.5 M561.9,328.0 V332.5 M559.3,332.5 H564.5" stroke="#8c8c8c" stroke-width="0.9" fill="none"/>
<path d="M561.9,330.1 V326.6 M559.3,326.6 H564.5 M561.9,330.1 V332.5 M559.3,332.5 H564.5" stroke="#8c8c8c" stroke-width="0.9" fill="none"/>
<path d="M564.2,325.6 V317.3 M561.6,317.3 H566.8 M564.2,325.6 V332.5 M561.6,332.5 H566.8" stroke="#8c8c8c" stroke-width="0.9" fill="none"/>
<path d="M564.2,329.1 V323.7 M561.6,323.7 H566.8 M564.2,329.1 V332.5 M561.6,332.5 H566.8" stroke="#8c8c8c" stroke-width="0.9" fill="none"/>
<path d="M567.2,315.9 V308.6 M564.6,308.6 H569.8 M567.2,315.9 V323.2 M564.6,323.2 H569.8" stroke="#8c8c8c" stroke-width="0.9" fill="none"/>
<path d="M567.2,327.1 V320.9 M564.6,320.9 H569.8 M567.2,327.1 V332.5 M564.6,332.5 H569.8" stroke="#8c8c8c" stroke-width="0.9" fill="none"/>
<path d="M569.8,322.8 V316.9 M567.2,316.9 H572.4 M569.8,322.8 V328.6 M567.2,328.6 H572.4" stroke="#8c8c8c" stroke-width="0.9" fill="none"/>
<path d="M569.8,327.6 V322.8 M567.2,322.8 H572.4 M569.8,327.6 V332.4 M567.2,332.4 H572.4" stroke="#8c8c8c" stroke-width="0.9" fill="none"/>
<path d="M572.6,327.2 V322.2 M570.0,322.2 H575.2 M572.6,327.2 V332.1 M570.0,332.1 H575.2" stroke="#8c8c8c" stroke-width="0.9" fill="none"/>
<path d="M572.6,329.4 V325.0 M570.0,325.0 H575.2 M572.6,329.4 V332.5 M570.0,332.5 H575.2" stroke="#8c8c8c" stroke-width="0.9" fill="none"/>
<path d="M575.0,325.0 V317.0 M572.4,317.0 H577.6 M575.0,325.0 V332.5 M572.4,332.5 H577.6" stroke="#8c8c8c" stroke-width="0.9" fill="none"/>
<path d="M575.0,327.2 V321.0 M572.4,321.0 H577.6 M575.0,327.2 V332.5 M572.4,332.5 H577.6" stroke="#8c8c8c" stroke-width="0.9" fill="none"/>
<path d="M578.0,321.2 V313.7 M575.4,313.7 H580.6 M578.0,321.2 V328.7 M575.4,328.7 H580.6" stroke="#8c8c8c" stroke-width="0.9" fill="none"/>
<path d="M578.0,324.6 V316.2 M575.4,316.2 H580.6 M578.0,324.6 V332.5 M575.4,332.5 H580.6" stroke="#8c8c8c" stroke-width="0.9" fill="none"/>
<polyline points="199.50,329.01 201.10,328.22 202.70,326.73 204.30,328.12 205.90,329.56 207.50,330.12 209.10,329.79 210.70,330.18 212.30,326.63 213.90,327.82 215.50,326.39 217.10,328.74 218.70,326.45 220.30,324.36 221.90,324.86 223.50,325.47 225.10,326.10 226.70,328.25 228.30,324.20 229.90,320.02 231.50,320.25 233.10,321.70 234.70,322.67 236.30,328.25 237.90,327.27 239.50,325.80 241.10,323.65 242.70,320.60 244.30,321.81 245.90,324.70 247.50,326.56 249.10,322.13 250.70,323.95 252.30,322.85 253.90,311.79 255.50,291.27 257.10,276.41 258.70,284.62 260.30,304.66 261.90,315.51 263.50,325.94 265.10,319.62 266.70,316.02 268.30,322.44 269.90,330.10 271.50,326.75 273.10,312.56 274.70,315.14 276.30,316.97 277.90,308.87 279.50,311.69 281.10,317.67 282.70,319.52 284.30,318.90 285.90,317.05 287.50,322.20 289.10,326.23 290.70,322.47 292.30,321.21 293.90,322.07 295.50,325.58 297.10,325.82 298.70,319.75 300.30,329.38 301.90,330.52 303.50,325.64 305.10,329.47 306.70,332.50 308.30,325.97 309.90,322.01 311.50,326.53 313.10,330.26 314.70,331.91 316.30,330.26 317.90,325.40 319.50,325.21 321.10,325.11 322.70,330.49 324.30,331.83 325.90,330.90 327.50,327.07 329.10,325.83 330.70,326.17 332.30,327.51 333.90,329.80 335.50,332.14 337.10,331.33 338.70,326.94 340.30,329.06 341.90,327.67 343.50,328.48 345.10,328.40 346.70,329.98 348.30,328.49 349.90,328.63 351.50,324.10 353.10,317.51 354.70,312.79 356.30,294.13 357.90,285.02 359.50,292.70 361.10,304.75 362.70,320.09 364.30,299.52 365.90,281.28 367.50,279.71 369.10,286.16 370.70,292.22 372.30,304.53 373.90,308.26 375.50,310.03 377.10,314.89 378.70,313.36 380.30,315.37 381.90,321.33 383.50,313.57 385.10,312.92 386.70,322.32 388.30,325.75 389.90,323.83 391.50,320.16 393.10,324.33 394.70,324.31 396.30,324.90 397.90,328.68 399.50,331.28 401.10,327.29 402.70,332.50 404.30,332.14 405.90,330.13 407.50,328.76 409.10,331.82 410.70,329.92 412.30,330.22 413.90,325.81 415.50,327.17 417.10,324.74 418.70,327.83 420.30,327.82 421.90,328.92 423.50,329.83 425.10,328.74 426.70,328.54 428.30,326.61 429.90,326.66 431.50,327.50 433.10,329.97 434.70,328.76 436.30,329.70 437.90,329.88 439.50,329.35 441.10,329.41 442.70,330.06 444.30,329.17 445.90,329.86 447.50,329.91 449.10,326.48 450.70,326.84 452.30,328.41 453.90,327.91 455.50,329.56 457.10,330.32 458.70,325.15 460.30,321.55 461.90,318.09 463.50,313.66 465.10,307.57 466.70,303.63 468.30,300.00 469.90,304.14 471.50,310.10 473.10,318.89 474.70,316.37 476.30,318.25 477.90,316.82 479.50,323.25 481.10,317.85 482.70,316.47 484.30,308.82 485.90,312.35 487.50,323.83 489.10,324.38 490.70,315.50 492.30,316.20 493.90,319.22 495.50,321.95 497.10,316.17 498.70,310.86 500.30,316.51 501.90,318.92 503.50,324.80 505.10,327.49 506.70,320.82 508.30,325.98 509.90,330.91 511.50,324.60 513.10,331.61 514.70,326.26 516.30,326.55 517.90,324.24 519.50,329.30 521.10,331.34 522.70,331.20 524.30,332.19 525.90,329.43 527.50,330.36 529.10,328.74 530.70,330.52 532.30,329.97 533.90,330.06 535.50,326.86 537.10,326.97 538.70,326.50 540.30,327.13 541.90,328.53 543.50,330.07 545.10,328.05 546.70,329.91 548.30,331.22 549.90,330.09 551.50,329.73 553.10,326.77 554.70,325.45 556.30,327.47 557.90,326.53 559.50,330.09 561.10,328.17 562.70,325.84 564.30,325.11 565.90,319.97 567.50,315.40 569.10,320.82 570.70,327.60 572.30,327.12 573.90,327.17 575.50,324.93 577.10,323.06 578.70,321.92 580.30,319.34" fill="none" stroke="#000" stroke-width="3.2" stroke-linejoin="round" stroke-linecap="round"/>
<polyline points="199.50,331.06 201.10,325.19 202.70,319.60 204.30,327.88 205.90,328.41 207.50,328.35 209.10,327.26 210.70,328.68 212.30,329.61 213.90,330.36 215.50,329.17 217.10,330.62 218.70,329.27 220.30,328.10 221.90,327.86 223.50,327.92 225.10,329.15 226.70,330.15 228.30,326.84 229.90,323.63 231.50,326.77 233.10,329.75 234.70,331.08 236.30,328.52 237.90,330.58 239.50,327.88 241.10,329.28 242.70,327.18 244.30,328.32 245.90,328.06 247.50,327.70 249.10,327.44 250.70,325.83 252.30,320.74 253.90,313.78 255.50,306.60 257.10,295.03 258.70,295.00 260.30,301.45 261.90,291.66 263.50,295.13 265.10,300.89 266.70,302.54 268.30,294.09 269.90,290.61 271.50,289.86 273.10,296.07 274.70,300.51 276.30,291.37 277.90,281.65 279.50,285.69 281.10,287.07 282.70,295.14 284.30,302.42 285.90,303.08 287.50,295.52 289.10,313.75 290.70,325.62 292.30,324.13 293.90,317.32 295.50,313.46 297.10,320.91 298.70,314.53 300.30,308.57 301.90,316.66 303.50,323.56 305.10,311.40 306.70,305.39 308.30,319.21 309.90,330.33 311.50,331.35 313.10,331.17 314.70,330.63 316.30,329.02 317.90,330.96 319.50,330.71 321.10,329.15 322.70,327.86 324.30,331.40 325.90,332.50 327.50,332.48 329.10,330.13 330.70,329.30 332.30,330.21 333.90,329.71 335.50,327.85 337.10,327.32 338.70,326.82 340.30,327.10 341.90,330.22 343.50,329.23 345.10,328.09 346.70,327.63 348.30,330.04 349.90,328.03 351.50,328.04 353.10,325.45 354.70,326.54 356.30,323.24 357.90,323.06 359.50,325.23 361.10,323.93 362.70,317.75 364.30,310.83 365.90,293.25 367.50,292.92 369.10,295.31 370.70,305.80 372.30,305.13 373.90,299.65 375.50,293.33 377.10,289.66 378.70,299.77 380.30,301.88 381.90,293.36 383.50,287.86 385.10,290.55 386.70,305.18 388.30,312.55 389.90,320.09 391.50,326.13 393.10,313.13 394.70,300.83 396.30,302.84 397.90,308.97 399.50,305.69 401.10,319.54 402.70,326.76 404.30,314.98 405.90,315.90 407.50,322.68 409.10,327.53 410.70,324.45 412.30,326.35 413.90,325.38 415.50,328.44 417.10,332.50 418.70,328.38 420.30,328.94 421.90,330.95 423.50,332.04 425.10,331.09 426.70,331.47 428.30,329.29 429.90,327.87 431.50,329.16 433.10,328.77 434.70,328.10 436.30,329.37 437.90,329.96 439.50,330.32 441.10,330.93 442.70,330.33 444.30,328.12 445.90,329.80 447.50,332.00 449.10,331.03 450.70,332.15 452.30,330.38 453.90,332.33 455.50,331.30 457.10,331.67 458.70,329.96 460.30,327.80 461.90,329.22 463.50,327.52 465.10,323.04 466.70,323.80 468.30,312.48 469.90,304.07 471.50,312.41 473.10,312.92 474.70,309.85 476.30,306.28 477.90,300.07 479.50,298.08 481.10,306.14 482.70,301.37 484.30,299.98 485.90,293.37 487.50,293.53 489.10,306.05 490.70,306.75 492.30,306.60 493.90,304.57 495.50,303.44 497.10,309.28 498.70,308.47 500.30,309.95 501.90,311.96 503.50,314.07 505.10,316.85 506.70,313.02 508.30,310.63 509.90,316.40 511.50,319.78 513.10,326.64 514.70,328.63 516.30,323.40 517.90,323.28 519.50,316.38 521.10,320.92 522.70,321.15 524.30,321.92 525.90,318.36 527.50,327.24 529.10,327.95 530.70,329.95 532.30,326.76 533.90,328.52 535.50,327.79 537.10,327.45 538.70,329.41 540.30,327.67 541.90,327.26 543.50,328.60 545.10,332.08 546.70,331.73 548.30,332.50 549.90,332.50 551.50,331.79 553.10,332.50 554.70,331.59 556.30,329.42 557.90,329.24 559.50,331.62 561.10,332.07 562.70,328.79 564.30,327.36 565.90,327.62 567.50,328.27 569.10,327.85 570.70,327.00 572.30,328.05 573.90,329.96 575.50,327.87 577.10,325.55 578.70,324.81 580.30,321.62" fill="none" stroke="#ff0000" stroke-width="3.2" stroke-linejoin="round" stroke-linecap="round"/>
<line x1="199.50" y1="332.80" x2="581.20" y2="332.80" stroke="#888" stroke-width="1"/>
<rect x="199.50" y="222.00" width="54.30" height="16.20" fill="#fff"/>
<text x="226.7" y="234.6" font-size="11.3" font-weight="bold" font-style="normal" text-anchor="middle" fill="#000">Light</text>
<rect x="253.80" y="222.00" width="55.40" height="16.20" fill="#000"/>
<text x="281.5" y="234.6" font-size="11.3" font-weight="bold" font-style="normal" text-anchor="middle" fill="#fff">Dark</text>
<rect x="309.20" y="222.00" width="53.40" height="16.20" fill="#fff"/>
<text x="335.9" y="234.6" font-size="11.3" font-weight="bold" font-style="normal" text-anchor="middle" fill="#000">Light</text>
<rect x="362.60" y="222.00" width="55.40" height="16.20" fill="#000"/>
<text x="390.3" y="234.6" font-size="11.3" font-weight="bold" font-style="normal" text-anchor="middle" fill="#fff">Dark</text>
<rect x="418.00" y="222.00" width="54.50" height="16.20" fill="#fff"/>
<text x="445.2" y="234.6" font-size="11.3" font-weight="bold" font-style="normal" text-anchor="middle" fill="#000">Light</text>
<rect x="472.50" y="222.00" width="54.30" height="16.20" fill="#000"/>
<text x="499.6" y="234.6" font-size="11.3" font-weight="bold" font-style="normal" text-anchor="middle" fill="#fff">Dark</text>
<rect x="526.80" y="222.00" width="54.40" height="16.20" fill="#fff"/>
<text x="554.0" y="234.6" font-size="11.3" font-weight="bold" font-style="normal" text-anchor="middle" fill="#000">Light</text>
<rect x="199.5" y="222" width="381.7" height="16.2" fill="none" stroke="#000" stroke-width="1.3"/>
<rect x="353.60" y="238.30" width="104.40" height="16.80" fill="#ececec" stroke="#555" stroke-width="1"/>
<text x="405.8" y="252.0" font-size="11.5" font-weight="bold" font-style="normal" text-anchor="middle" fill="#000">Food deprivation</text>
<path d="M254,333.5 V337.3 H308.6 V333.5 M263.3,337.3 V333.5" stroke="#444" stroke-width="0.9" fill="none"/>
<path d="M354.4,333.5 V337.3 H417.8 V333.5 M362.8,337.3 V333.5" stroke="#444" stroke-width="0.9" fill="none"/>
<path d="M463.4,333.5 V337.3 H526.8 V333.5 M472.5,337.3 V333.5" stroke="#444" stroke-width="0.9" fill="none"/>
<text x="247.8" y="347.0" font-size="7.9" font-weight="bold" font-style="normal" text-anchor="middle" fill="#000">ZT12-13</text>
<text x="290.9" y="347.0" font-size="7.9" font-weight="bold" font-style="normal" text-anchor="middle" fill="#000">ZT13-24</text>
<text x="351.2" y="347.0" font-size="7.9" font-weight="bold" font-style="normal" text-anchor="middle" fill="#000">ZT11-12</text>
<text x="394.4" y="347.0" font-size="7.9" font-weight="bold" font-style="normal" text-anchor="middle" fill="#000">ZT12-24</text>
<text x="460.4" y="347.0" font-size="7.9" font-weight="bold" font-style="normal" text-anchor="middle" fill="#000">ZT11-12</text>
<text x="503.8" y="347.0" font-size="7.9" font-weight="bold" font-style="normal" text-anchor="middle" fill="#000">ZT12-24</text>
<line x1="200.50" y1="365.50" x2="200.50" y2="432.00" stroke="#000" stroke-width="1.5"/>
<line x1="192.50" y1="431.30" x2="579.60" y2="431.30" stroke="#000" stroke-width="1.5"/>
<line x1="192.50" y1="431.30" x2="200.50" y2="431.30" stroke="#000" stroke-width="1.4"/>
<text x="190.8" y="435.1" font-size="10.3" font-weight="bold" font-style="normal" text-anchor="end" fill="#000">0</text>
<line x1="192.50" y1="404.30" x2="200.50" y2="404.30" stroke="#000" stroke-width="1.4"/>
<text x="190.8" y="408.1" font-size="10.3" font-weight="bold" font-style="normal" text-anchor="end" fill="#000">50</text>
<line x1="192.50" y1="377.30" x2="200.50" y2="377.30" stroke="#000" stroke-width="1.4"/>
<text x="190.8" y="381.1" font-size="10.3" font-weight="bold" font-style="normal" text-anchor="end" fill="#000">100</text>
<text font-size="12.3" font-weight="bold" text-anchor="middle" transform="translate(157.2,397.2) rotate(-90)">Food access</text>
<text font-size="12.3" font-weight="bold" text-anchor="middle" transform="translate(171.2,413) rotate(-90)">(counts)</text>
<rect x="209.60" y="413.00" width="13.60" height="18.30" fill="#d2d2d2" stroke="#000" stroke-width="1.8"/>
<line x1="216.40" y1="406.00" x2="216.40" y2="419.30" stroke="#000" stroke-width="1.1"/>
<line x1="212.90" y1="406.00" x2="219.90" y2="406.00" stroke="#000" stroke-width="1.1"/>
<line x1="212.90" y1="419.30" x2="219.90" y2="419.30" stroke="#000" stroke-width="1.1"/>
<circle cx="215.64" cy="421.39" r="0.9" fill="#000"/>
<circle cx="214.31" cy="414.63" r="0.9" fill="#000"/>
<circle cx="219.25" cy="419.46" r="0.9" fill="#000"/>
<rect x="225.00" y="423.70" width="13.60" height="7.60" fill="#ff0000" stroke="#000" stroke-width="1.8"/>
<line x1="231.80" y1="419.70" x2="231.80" y2="427.30" stroke="#000" stroke-width="1.1"/>
<line x1="228.30" y1="419.70" x2="235.30" y2="419.70" stroke="#000" stroke-width="1.1"/>
<line x1="228.30" y1="427.30" x2="235.30" y2="427.30" stroke="#000" stroke-width="1.1"/>
<circle cx="229.34" cy="413.43" r="0.9" fill="#000"/>
<circle cx="232.66" cy="417.55" r="0.9" fill="#000"/>
<circle cx="231.01" cy="419.15" r="0.9" fill="#000"/>
<rect x="256.80" y="419.40" width="13.40" height="11.90" fill="#d2d2d2" stroke="#000" stroke-width="1.8"/>
<line x1="263.50" y1="412.40" x2="263.50" y2="425.70" stroke="#000" stroke-width="1.1"/>
<line x1="260.00" y1="412.40" x2="267.00" y2="412.40" stroke="#000" stroke-width="1.1"/>
<line x1="260.00" y1="425.70" x2="267.00" y2="425.70" stroke="#000" stroke-width="1.1"/>
<circle cx="263.99" cy="426.62" r="0.9" fill="#000"/>
<circle cx="261.95" cy="418.72" r="0.9" fill="#000"/>
<circle cx="262.08" cy="418.25" r="0.9" fill="#000"/>
<rect x="272.00" y="408.10" width="13.40" height="23.20" fill="#ff0000" stroke="#000" stroke-width="1.8"/>
<line x1="278.70" y1="398.10" x2="278.70" y2="417.10" stroke="#000" stroke-width="1.1"/>
<line x1="275.20" y1="398.10" x2="282.20" y2="398.10" stroke="#000" stroke-width="1.1"/>
<line x1="275.20" y1="417.10" x2="282.20" y2="417.10" stroke="#000" stroke-width="1.1"/>
<circle cx="280.09" cy="400.27" r="0.9" fill="#000"/>
<circle cx="278.59" cy="418.12" r="0.9" fill="#000"/>
<circle cx="275.75" cy="420.16" r="0.9" fill="#000"/>
<rect x="351.10" y="390.60" width="13.90" height="40.70" fill="#d2d2d2" stroke="#000" stroke-width="1.8"/>
<line x1="358.05" y1="373.60" x2="358.05" y2="405.90" stroke="#000" stroke-width="1.1"/>
<line x1="354.55" y1="373.60" x2="361.55" y2="373.60" stroke="#000" stroke-width="1.1"/>
<line x1="354.55" y1="405.90" x2="361.55" y2="405.90" stroke="#000" stroke-width="1.1"/>
<circle cx="357.56" cy="403.15" r="0.9" fill="#000"/>
<circle cx="358.71" cy="417.21" r="0.9" fill="#000"/>
<circle cx="355.39" cy="402.98" r="0.9" fill="#000"/>
<rect x="366.80" y="424.50" width="13.80" height="6.80" fill="#ff0000" stroke="#000" stroke-width="1.8"/>
<line x1="373.70" y1="421.50" x2="373.70" y2="427.20" stroke="#000" stroke-width="1.1"/>
<line x1="370.20" y1="421.50" x2="377.20" y2="421.50" stroke="#000" stroke-width="1.1"/>
<line x1="370.20" y1="427.20" x2="377.20" y2="427.20" stroke="#000" stroke-width="1.1"/>
<circle cx="370.93" cy="418.21" r="0.9" fill="#000"/>
<circle cx="372.77" cy="412.82" r="0.9" fill="#000"/>
<circle cx="372.49" cy="419.16" r="0.9" fill="#000"/>
<rect x="398.40" y="419.30" width="13.70" height="12.00" fill="#d2d2d2" stroke="#000" stroke-width="1.8"/>
<line x1="405.25" y1="414.30" x2="405.25" y2="423.80" stroke="#000" stroke-width="1.1"/>
<line x1="401.75" y1="414.30" x2="408.75" y2="414.30" stroke="#000" stroke-width="1.1"/>
<line x1="401.75" y1="423.80" x2="408.75" y2="423.80" stroke="#000" stroke-width="1.1"/>
<circle cx="406.18" cy="425.80" r="0.9" fill="#000"/>
<circle cx="404.47" cy="417.90" r="0.9" fill="#000"/>
<circle cx="406.53" cy="426.05" r="0.9" fill="#000"/>
<rect x="413.90" y="412.10" width="13.70" height="19.20" fill="#ff0000" stroke="#000" stroke-width="1.8"/>
<line x1="420.75" y1="409.10" x2="420.75" y2="414.80" stroke="#000" stroke-width="1.1"/>
<line x1="417.25" y1="409.10" x2="424.25" y2="409.10" stroke="#000" stroke-width="1.1"/>
<line x1="417.25" y1="414.80" x2="424.25" y2="414.80" stroke="#000" stroke-width="1.1"/>
<circle cx="423.45" cy="426.97" r="0.9" fill="#000"/>
<circle cx="419.56" cy="404.63" r="0.9" fill="#000"/>
<circle cx="423.34" cy="402.20" r="0.9" fill="#000"/>
<rect x="493.20" y="403.90" width="13.70" height="27.40" fill="#d2d2d2" stroke="#000" stroke-width="1.8"/>
<line x1="500.05" y1="393.90" x2="500.05" y2="412.90" stroke="#000" stroke-width="1.1"/>
<line x1="496.55" y1="393.90" x2="503.55" y2="393.90" stroke="#000" stroke-width="1.1"/>
<line x1="496.55" y1="412.90" x2="503.55" y2="412.90" stroke="#000" stroke-width="1.1"/>
<circle cx="499.74" cy="417.96" r="0.9" fill="#000"/>
<circle cx="500.22" cy="405.66" r="0.9" fill="#000"/>
<circle cx="502.60" cy="402.49" r="0.9" fill="#000"/>
<rect x="508.70" y="421.80" width="13.20" height="9.50" fill="#ff0000" stroke="#000" stroke-width="1.8"/>
<line x1="515.30" y1="417.80" x2="515.30" y2="425.40" stroke="#000" stroke-width="1.1"/>
<line x1="511.80" y1="417.80" x2="518.80" y2="417.80" stroke="#000" stroke-width="1.1"/>
<line x1="511.80" y1="425.40" x2="518.80" y2="425.40" stroke="#000" stroke-width="1.1"/>
<circle cx="515.61" cy="424.32" r="0.9" fill="#000"/>
<circle cx="513.13" cy="415.94" r="0.9" fill="#000"/>
<circle cx="515.27" cy="419.70" r="0.9" fill="#000"/>
<rect x="540.20" y="422.40" width="13.30" height="8.90" fill="#d2d2d2" stroke="#000" stroke-width="1.8"/>
<line x1="546.85" y1="419.40" x2="546.85" y2="425.10" stroke="#000" stroke-width="1.1"/>
<line x1="543.35" y1="419.40" x2="550.35" y2="419.40" stroke="#000" stroke-width="1.1"/>
<line x1="543.35" y1="425.10" x2="550.35" y2="425.10" stroke="#000" stroke-width="1.1"/>
<circle cx="545.09" cy="418.07" r="0.9" fill="#000"/>
<circle cx="544.21" cy="411.89" r="0.9" fill="#000"/>
<circle cx="545.90" cy="412.83" r="0.9" fill="#000"/>
<rect x="555.30" y="414.00" width="13.70" height="17.30" fill="#ff0000" stroke="#000" stroke-width="1.8"/>
<line x1="562.15" y1="407.00" x2="562.15" y2="420.30" stroke="#000" stroke-width="1.1"/>
<line x1="558.65" y1="407.00" x2="565.65" y2="407.00" stroke="#000" stroke-width="1.1"/>
<line x1="558.65" y1="420.30" x2="565.65" y2="420.30" stroke="#000" stroke-width="1.1"/>
<circle cx="564.96" cy="408.66" r="0.9" fill="#000"/>
<circle cx="560.80" cy="421.83" r="0.9" fill="#000"/>
<circle cx="563.60" cy="408.63" r="0.9" fill="#000"/>
<path d="M215.6,400.3 L215.6,396.6 L232.3,396.6 L232.3,410.0" fill="none" stroke="#666" stroke-width="1.0"/>
<path d="M358.0,365.5 L358.0,359.6 L374.0,359.6 L374.0,401.3" fill="none" stroke="#666" stroke-width="1.0"/>
<path d="M499.5,375.2 L499.5,370.0 L516.2,370.0 L516.2,402.4" fill="none" stroke="#666" stroke-width="1.0"/>
<text x="224.4" y="401.0" font-size="18.5" font-weight="bold" font-style="normal" text-anchor="middle" fill="#000">*</text>
<text x="367.6" y="364.6" font-size="18.5" font-weight="bold" font-style="normal" text-anchor="middle" fill="#000">*</text>
<text x="508.1" y="375.2" font-size="18.5" font-weight="bold" font-style="normal" text-anchor="middle" fill="#000">*</text>
<text x="212.1" y="447.9" font-size="10" font-weight="bold" text-anchor="middle" transform="rotate(-15 212.1 444.3)">ZT12-13</text>
<text x="263" y="447.4" font-size="10" font-weight="bold" text-anchor="middle" transform="rotate(-15 263 443.8)">ZT13-24</text>
<text x="353.9" y="447.3" font-size="10" font-weight="bold" text-anchor="middle" transform="rotate(-15 353.9 443.7)">ZT11-12</text>
<text x="402.3" y="447.9" font-size="10" font-weight="bold" text-anchor="middle" transform="rotate(-15 402.3 444.3)">ZT12-24</text>
<text x="498.6" y="447.3" font-size="10" font-weight="bold" text-anchor="middle" transform="rotate(-15 498.6 443.7)">ZT11-12</text>
<text x="547.1" y="447.3" font-size="10" font-weight="bold" text-anchor="middle" transform="rotate(-15 547.1 443.7)">ZT12-24</text>
<text x="240.8" y="471.0" font-size="12" font-weight="bold" font-style="normal" text-anchor="middle" fill="#000">Ad lib</text>
<text x="384.3" y="471.0" font-size="12" font-weight="bold" font-style="normal" text-anchor="middle" fill="#000">Food deprivation</text>
<text x="525.0" y="470.3" font-size="12" font-weight="bold" font-style="normal" text-anchor="middle" fill="#000">Refeeding</text>
<line x1="52.50" y1="510.40" x2="52.50" y2="597.50" stroke="#000" stroke-width="1.3"/>
<line x1="48.90" y1="596.90" x2="52.50" y2="596.90" stroke="#000" stroke-width="1.1"/>
<text x="43.0" y="600.6" font-size="10.3" font-weight="bold" font-style="normal" text-anchor="end" fill="#000">0</text>
<line x1="48.90" y1="579.69" x2="52.50" y2="579.69" stroke="#000" stroke-width="1.1"/>
<text x="43.0" y="583.4" font-size="10.3" font-weight="bold" font-style="normal" text-anchor="end" fill="#000">1000</text>
<line x1="48.90" y1="562.48" x2="52.50" y2="562.48" stroke="#000" stroke-width="1.1"/>
<text x="43.0" y="566.2" font-size="10.3" font-weight="bold" font-style="normal" text-anchor="end" fill="#000">2000</text>
<line x1="48.90" y1="545.27" x2="52.50" y2="545.27" stroke="#000" stroke-width="1.1"/>
<text x="43.0" y="549.0" font-size="10.3" font-weight="bold" font-style="normal" text-anchor="end" fill="#000">3000</text>
<line x1="48.90" y1="528.06" x2="52.50" y2="528.06" stroke="#000" stroke-width="1.1"/>
<text x="43.0" y="531.8" font-size="10.3" font-weight="bold" font-style="normal" text-anchor="end" fill="#000">4000</text>
<line x1="48.90" y1="510.85" x2="52.50" y2="510.85" stroke="#000" stroke-width="1.1"/>
<text x="43.0" y="514.5" font-size="10.3" font-weight="bold" font-style="normal" text-anchor="end" fill="#000">5000</text>
<text font-size="11.4" font-weight="bold" text-anchor="middle" transform="translate(13.3,552.7) rotate(-90)">VO<tspan font-size="7.5" dy="3">2</tspan><tspan dy="-3"> (ml/kg/h)</tspan></text>
<path d="M53.5,545.9 V552.0 M50.9,545.9 H56.1 M50.9,552.0 H56.1" stroke="#9c9c9c" stroke-width="0.8" fill="none"/>
<path d="M53.5,542.3 V551.0 M50.9,542.3 H56.1 M50.9,551.0 H56.1" stroke="#9c9c9c" stroke-width="0.8" fill="none"/>
<path d="M58.0,555.4 V563.0 M55.4,555.4 H60.6 M55.4,563.0 H60.6" stroke="#9c9c9c" stroke-width="0.8" fill="none"/>
<path d="M58.0,556.3 V562.6 M55.4,556.3 H60.6 M55.4,562.6 H60.6" stroke="#9c9c9c" stroke-width="0.8" fill="none"/>
<path d="M62.6,553.1 V562.4 M60.0,553.1 H65.2 M60.0,562.4 H65.2" stroke="#9c9c9c" stroke-width="0.8" fill="none"/>
<path d="M62.6,555.2 V563.1 M60.0,555.2 H65.2 M60.0,563.1 H65.2" stroke="#9c9c9c" stroke-width="0.8" fill="none"/>
<path d="M66.9,558.1 V564.5 M64.3,558.1 H69.5 M64.3,564.5 H69.5" stroke="#9c9c9c" stroke-width="0.8" fill="none"/>
<path d="M66.9,560.6 V565.7 M64.3,560.6 H69.5 M64.3,565.7 H69.5" stroke="#9c9c9c" stroke-width="0.8" fill="none"/>
<path d="M71.0,558.1 V566.2 M68.4,558.1 H73.6 M68.4,566.2 H73.6" stroke="#9c9c9c" stroke-width="0.8" fill="none"/>
<path d="M71.0,557.8 V563.4 M68.4,557.8 H73.6 M68.4,563.4 H73.6" stroke="#9c9c9c" stroke-width="0.8" fill="none"/>
<path d="M75.6,557.8 V564.2 M73.0,557.8 H78.2 M73.0,564.2 H78.2" stroke="#9c9c9c" stroke-width="0.8" fill="none"/>
<path d="M75.6,559.6 V566.0 M73.0,559.6 H78.2 M73.0,566.0 H78.2" stroke="#9c9c9c" stroke-width="0.8" fill="none"/>
<path d="M79.2,553.8 V564.1 M76.6,553.8 H81.8 M76.6,564.1 H81.8" stroke="#9c9c9c" stroke-width="0.8" fill="none"/>
<path d="M79.2,557.6 V566.6 M76.6,557.6 H81.8 M76.6,566.6 H81.8" stroke="#9c9c9c" stroke-width="0.8" fill="none"/>
<path d="M84.0,554.2 V562.5 M81.4,554.2 H86.6 M81.4,562.5 H86.6" stroke="#9c9c9c" stroke-width="0.8" fill="none"/>
<path d="M84.0,555.6 V561.0 M81.4,555.6 H86.6 M81.4,561.0 H86.6" stroke="#9c9c9c" stroke-width="0.8" fill="none"/>
<path d="M88.0,554.7 V562.4 M85.4,554.7 H90.6 M85.4,562.4 H90.6" stroke="#9c9c9c" stroke-width="0.8" fill="none"/>
<path d="M88.0,556.7 V562.5 M85.4,556.7 H90.6 M85.4,562.5 H90.6" stroke="#9c9c9c" stroke-width="0.8" fill="none"/>
<path d="M92.9,556.2 V563.2 M90.3,556.2 H95.5 M90.3,563.2 H95.5" stroke="#9c9c9c" stroke-width="0.8" fill="none"/>
<path d="M92.9,557.2 V563.2 M90.3,557.2 H95.5 M90.3,563.2 H95.5" stroke="#9c9c9c" stroke-width="0.8" fill="none"/>
<path d="M97.7,559.8 V565.6 M95.1,559.8 H100.3 M95.1,565.6 H100.3" stroke="#9c9c9c" stroke-width="0.8" fill="none"/>
<path d="M97.7,556.0 V565.9 M95.1,556.0 H100.3 M95.1,565.9 H100.3" stroke="#9c9c9c" stroke-width="0.8" fill="none"/>
<path d="M101.8,557.3 V565.3 M99.2,557.3 H104.4 M99.2,565.3 H104.4" stroke="#9c9c9c" stroke-width="0.8" fill="none"/>
<path d="M101.8,560.4 V567.3 M99.2,560.4 H104.4 M99.2,567.3 H104.4" stroke="#9c9c9c" stroke-width="0.8" fill="none"/>
<path d="M106.1,553.7 V559.8 M103.5,553.7 H108.7 M103.5,559.8 H108.7" stroke="#9c9c9c" stroke-width="0.8" fill="none"/>
<path d="M106.1,555.8 V561.2 M103.5,555.8 H108.7 M103.5,561.2 H108.7" stroke="#9c9c9c" stroke-width="0.8" fill="none"/>
<path d="M110.9,553.0 V559.3 M108.3,553.0 H113.5 M108.3,559.3 H113.5" stroke="#9c9c9c" stroke-width="0.8" fill="none"/>
<path d="M110.9,552.4 V561.6 M108.3,552.4 H113.5 M108.3,561.6 H113.5" stroke="#9c9c9c" stroke-width="0.8" fill="none"/>
<path d="M114.7,554.1 V564.2 M112.1,554.1 H117.3 M112.1,564.2 H117.3" stroke="#9c9c9c" stroke-width="0.8" fill="none"/>
<path d="M114.7,551.7 V561.5 M112.1,551.7 H117.3 M112.1,561.5 H117.3" stroke="#9c9c9c" stroke-width="0.8" fill="none"/>
<path d="M119.3,561.1 V570.2 M116.7,561.1 H121.9 M116.7,570.2 H121.9" stroke="#9c9c9c" stroke-width="0.8" fill="none"/>
<path d="M119.3,553.2 V561.4 M116.7,553.2 H121.9 M116.7,561.4 H121.9" stroke="#9c9c9c" stroke-width="0.8" fill="none"/>
<path d="M123.9,549.8 V555.6 M121.3,549.8 H126.5 M121.3,555.6 H126.5" stroke="#9c9c9c" stroke-width="0.8" fill="none"/>
<path d="M123.9,552.0 V559.6 M121.3,552.0 H126.5 M121.3,559.6 H126.5" stroke="#9c9c9c" stroke-width="0.8" fill="none"/>
<path d="M128.7,537.2 V543.4 M126.1,537.2 H131.3 M126.1,543.4 H131.3" stroke="#9c9c9c" stroke-width="0.8" fill="none"/>
<path d="M128.7,536.2 V546.2 M126.1,536.2 H131.3 M126.1,546.2 H131.3" stroke="#9c9c9c" stroke-width="0.8" fill="none"/>
<path d="M133.5,529.8 V537.1 M130.9,529.8 H136.1 M130.9,537.1 H136.1" stroke="#9c9c9c" stroke-width="0.8" fill="none"/>
<path d="M133.5,531.1 V538.2 M130.9,531.1 H136.1 M130.9,538.2 H136.1" stroke="#9c9c9c" stroke-width="0.8" fill="none"/>
<path d="M137.7,530.6 V537.7 M135.1,530.6 H140.3 M135.1,537.7 H140.3" stroke="#9c9c9c" stroke-width="0.8" fill="none"/>
<path d="M137.7,530.5 V540.8 M135.1,530.5 H140.3 M135.1,540.8 H140.3" stroke="#9c9c9c" stroke-width="0.8" fill="none"/>
<path d="M141.7,530.5 V535.8 M139.1,530.5 H144.3 M139.1,535.8 H144.3" stroke="#9c9c9c" stroke-width="0.8" fill="none"/>
<path d="M141.7,531.9 V537.5 M139.1,531.9 H144.3 M139.1,537.5 H144.3" stroke="#9c9c9c" stroke-width="0.8" fill="none"/>
<path d="M146.3,525.5 V535.8 M143.7,525.5 H148.9 M143.7,535.8 H148.9" stroke="#9c9c9c" stroke-width="0.8" fill="none"/>
<path d="M146.3,526.6 V534.3 M143.7,526.6 H148.9 M143.7,534.3 H148.9" stroke="#9c9c9c" stroke-width="0.8" fill="none"/>
<path d="M150.6,530.6 V538.6 M148.0,530.6 H153.2 M148.0,538.6 H153.2" stroke="#9c9c9c" stroke-width="0.8" fill="none"/>
<path d="M150.6,528.2 V537.2 M148.0,528.2 H153.2 M148.0,537.2 H153.2" stroke="#9c9c9c" stroke-width="0.8" fill="none"/>
<path d="M154.4,539.6 V547.9 M151.8,539.6 H157.0 M151.8,547.9 H157.0" stroke="#9c9c9c" stroke-width="0.8" fill="none"/>
<path d="M154.4,530.7 V538.7 M151.8,530.7 H157.0 M151.8,538.7 H157.0" stroke="#9c9c9c" stroke-width="0.8" fill="none"/>
<path d="M158.8,534.1 V540.2 M156.2,534.1 H161.4 M156.2,540.2 H161.4" stroke="#9c9c9c" stroke-width="0.8" fill="none"/>
<path d="M158.8,533.5 V539.6 M156.2,533.5 H161.4 M156.2,539.6 H161.4" stroke="#9c9c9c" stroke-width="0.8" fill="none"/>
<path d="M162.8,534.5 V544.4 M160.2,534.5 H165.4 M160.2,544.4 H165.4" stroke="#9c9c9c" stroke-width="0.8" fill="none"/>
<path d="M162.8,535.4 V542.4 M160.2,535.4 H165.4 M160.2,542.4 H165.4" stroke="#9c9c9c" stroke-width="0.8" fill="none"/>
<path d="M167.2,537.7 V544.4 M164.6,537.7 H169.8 M164.6,544.4 H169.8" stroke="#9c9c9c" stroke-width="0.8" fill="none"/>
<path d="M167.2,537.1 V542.8 M164.6,537.1 H169.8 M164.6,542.8 H169.8" stroke="#9c9c9c" stroke-width="0.8" fill="none"/>
<path d="M170.8,537.4 V546.8 M168.2,537.4 H173.4 M168.2,546.8 H173.4" stroke="#9c9c9c" stroke-width="0.8" fill="none"/>
<path d="M170.8,536.5 V545.7 M168.2,536.5 H173.4 M168.2,545.7 H173.4" stroke="#9c9c9c" stroke-width="0.8" fill="none"/>
<path d="M174.9,539.2 V547.9 M172.3,539.2 H177.5 M172.3,547.9 H177.5" stroke="#9c9c9c" stroke-width="0.8" fill="none"/>
<path d="M174.9,539.6 V548.2 M172.3,539.6 H177.5 M172.3,548.2 H177.5" stroke="#9c9c9c" stroke-width="0.8" fill="none"/>
<path d="M179.8,542.6 V552.7 M177.2,542.6 H182.4 M177.2,552.7 H182.4" stroke="#9c9c9c" stroke-width="0.8" fill="none"/>
<path d="M179.8,543.0 V550.3 M177.2,543.0 H182.4 M177.2,550.3 H182.4" stroke="#9c9c9c" stroke-width="0.8" fill="none"/>
<path d="M184.7,540.0 V550.2 M182.1,540.0 H187.3 M182.1,550.2 H187.3" stroke="#9c9c9c" stroke-width="0.8" fill="none"/>
<path d="M184.7,543.9 V552.1 M182.1,543.9 H187.3 M182.1,552.1 H187.3" stroke="#9c9c9c" stroke-width="0.8" fill="none"/>
<path d="M189.6,541.7 V549.4 M187.0,541.7 H192.2 M187.0,549.4 H192.2" stroke="#9c9c9c" stroke-width="0.8" fill="none"/>
<path d="M189.6,545.5 V552.6 M187.0,545.5 H192.2 M187.0,552.6 H192.2" stroke="#9c9c9c" stroke-width="0.8" fill="none"/>
<path d="M193.4,543.4 V553.1 M190.8,543.4 H196.0 M190.8,553.1 H196.0" stroke="#9c9c9c" stroke-width="0.8" fill="none"/>
<path d="M193.4,550.5 V556.5 M190.8,550.5 H196.0 M190.8,556.5 H196.0" stroke="#9c9c9c" stroke-width="0.8" fill="none"/>
<path d="M197.0,542.4 V551.7 M194.4,542.4 H199.6 M194.4,551.7 H199.6" stroke="#9c9c9c" stroke-width="0.8" fill="none"/>
<path d="M197.0,543.1 V552.3 M194.4,543.1 H199.6 M194.4,552.3 H199.6" stroke="#9c9c9c" stroke-width="0.8" fill="none"/>
<path d="M201.3,545.4 V554.8 M198.7,545.4 H203.9 M198.7,554.8 H203.9" stroke="#9c9c9c" stroke-width="0.8" fill="none"/>
<path d="M201.3,548.2 V553.7 M198.7,548.2 H203.9 M198.7,553.7 H203.9" stroke="#9c9c9c" stroke-width="0.8" fill="none"/>
<polyline points="52.50,546.40 54.10,551.26 55.70,557.56 57.30,560.19 58.90,560.70 60.50,558.36 62.10,556.46 63.70,555.77 65.30,558.20 66.90,562.27 68.50,562.81 70.10,563.71 71.70,559.84 73.30,560.29 74.90,561.31 76.50,560.66 78.10,559.61 79.70,556.74 81.30,555.95 82.90,557.78 84.50,558.37 86.10,557.53 87.70,559.30 89.30,558.17 90.90,559.49 92.50,558.45 94.10,562.15 95.70,560.58 97.30,560.75 98.90,565.46 100.50,563.45 102.10,560.29 103.70,556.54 105.30,556.62 106.90,557.40 108.50,556.38 110.10,553.92 111.70,555.16 113.30,559.11 114.90,561.00 116.50,563.29 118.10,565.83 119.70,564.82 121.30,561.47 122.90,554.21 124.50,550.91 126.10,549.70 127.70,544.66 129.30,538.01 130.90,533.95 132.50,534.71 134.10,534.64 135.70,534.66 137.30,534.48 138.90,533.77 140.50,534.24 142.10,534.49 143.70,530.32 145.30,528.57 146.90,530.05 148.50,531.09 150.10,535.33 151.70,537.43 153.30,542.78 154.90,543.96 156.50,542.43 158.10,535.92 159.70,538.58 161.30,537.81 162.90,540.18 164.50,541.98 166.10,541.13 167.70,541.89 169.30,540.11 170.90,542.91 172.50,542.68 174.10,543.05 175.70,542.45 177.30,547.05 178.90,546.52 180.50,547.50 182.10,545.61 183.70,543.70 185.30,545.69 186.90,543.85 188.50,544.14 190.10,546.05 191.70,549.98 193.30,547.07 194.90,545.91 196.50,547.71 198.10,548.94 199.70,548.22 201.30,551.58 202.90,551.28" fill="none" stroke="#000" stroke-width="3.3" stroke-linejoin="round" stroke-linecap="round"/>
<polyline points="52.50,544.98 54.10,547.45 55.70,552.93 57.30,558.15 58.90,561.24 60.50,563.92 62.10,559.35 63.70,559.54 65.30,561.40 66.90,563.56 68.50,561.91 70.10,560.97 71.70,563.31 73.30,563.99 74.90,564.50 76.50,561.16 78.10,560.14 79.70,561.60 81.30,563.01 82.90,561.16 84.50,557.92 86.10,558.37 87.70,558.89 89.30,558.32 90.90,562.15 92.50,560.61 94.10,559.28 95.70,558.33 97.30,559.12 98.90,560.99 100.50,562.56 102.10,563.02 103.70,562.50 105.30,558.57 106.90,557.50 108.50,557.08 110.10,558.24 111.70,555.12 113.30,556.54 114.90,556.20 116.50,555.92 118.10,555.56 119.70,555.46 121.30,559.19 122.90,557.16 124.50,556.09 126.10,551.77 127.70,546.38 129.30,538.41 130.90,537.10 132.50,535.72 134.10,533.05 135.70,534.21 137.30,535.67 138.90,537.12 140.50,533.38 142.10,533.69 143.70,533.46 145.30,530.84 146.90,530.31 148.50,531.18 150.10,533.45 151.70,531.36 153.30,534.52 154.90,535.98 156.50,534.95 158.10,538.11 159.70,535.57 161.30,537.44 162.90,538.61 164.50,542.50 166.10,541.22 167.70,537.96 169.30,540.33 170.90,541.40 172.50,541.74 174.10,544.15 175.70,545.67 177.30,545.95 178.90,547.44 180.50,547.83 182.10,544.90 183.70,548.97 185.30,547.31 186.90,548.12 188.50,548.78 190.10,550.85 191.70,551.36 193.30,555.45 194.90,550.69 196.50,547.73 198.10,549.83 199.70,552.41 201.30,550.75 202.90,551.79" fill="none" stroke="#ff0000" stroke-width="3.3" stroke-linejoin="round" stroke-linecap="round"/>
<rect x="52.50" y="583.70" width="75.10" height="12.60" fill="#fff" stroke="#000" stroke-width="1.2"/>
<rect x="127.60" y="583.70" width="75.70" height="12.60" fill="#000" stroke="#000" stroke-width="1.2"/>
<text x="90.3" y="594.4" font-size="11.8" font-weight="bold" font-style="normal" text-anchor="middle" fill="#000">Light</text>
<text x="165.8" y="594.4" font-size="11.8" font-weight="bold" font-style="normal" text-anchor="middle" fill="#fff">Dark</text>
<line x1="253.00" y1="513.10" x2="253.00" y2="596.00" stroke="#000" stroke-width="1.3"/>
<line x1="248.50" y1="575.20" x2="253.00" y2="575.20" stroke="#000" stroke-width="1.1"/>
<line x1="248.50" y1="554.50" x2="253.00" y2="554.50" stroke="#000" stroke-width="1.1"/>
<line x1="248.50" y1="533.80" x2="253.00" y2="533.80" stroke="#000" stroke-width="1.1"/>
<line x1="248.50" y1="513.10" x2="253.00" y2="513.10" stroke="#000" stroke-width="1.1"/>
<text x="247.8" y="537.6" font-size="10.5" font-weight="bold" font-style="normal" text-anchor="end" fill="#000">1</text>
<text x="248.3" y="579.0" font-size="10.5" font-weight="bold" font-style="normal" text-anchor="end" fill="#000">0.9</text>
<text font-size="11" font-weight="bold" text-anchor="middle" transform="translate(228.5,557) rotate(-90)">RER (VCO<tspan font-size="7.2" dy="3">2</tspan><tspan dy="-3">/VO</tspan><tspan font-size="7.2" dy="3">2</tspan><tspan dy="-3">)</tspan></text>
<path d="M254.0,534.3 V549.8 M251.4,534.3 H256.6 M251.4,549.8 H256.6" stroke="#9c9c9c" stroke-width="0.8" fill="none"/>
<path d="M254.0,547.4 V564.3 M251.4,547.4 H256.6 M251.4,564.3 H256.6" stroke="#9c9c9c" stroke-width="0.8" fill="none"/>
<path d="M258.8,540.8 V556.9 M256.2,540.8 H261.4 M256.2,556.9 H261.4" stroke="#9c9c9c" stroke-width="0.8" fill="none"/>
<path d="M258.8,553.0 V566.7 M256.2,553.0 H261.4 M256.2,566.7 H261.4" stroke="#9c9c9c" stroke-width="0.8" fill="none"/>
<path d="M263.5,536.5 V557.1 M260.9,536.5 H266.1 M260.9,557.1 H266.1" stroke="#9c9c9c" stroke-width="0.8" fill="none"/>
<path d="M263.5,551.3 V568.9 M260.9,551.3 H266.1 M260.9,568.9 H266.1" stroke="#9c9c9c" stroke-width="0.8" fill="none"/>
<path d="M267.1,541.7 V556.0 M264.5,541.7 H269.7 M264.5,556.0 H269.7" stroke="#9c9c9c" stroke-width="0.8" fill="none"/>
<path d="M267.1,553.4 V569.8 M264.5,553.4 H269.7 M264.5,569.8 H269.7" stroke="#9c9c9c" stroke-width="0.8" fill="none"/>
<path d="M271.4,545.1 V559.8 M268.8,545.1 H274.0 M268.8,559.8 H274.0" stroke="#9c9c9c" stroke-width="0.8" fill="none"/>
<path d="M271.4,552.0 V572.4 M268.8,552.0 H274.0 M268.8,572.4 H274.0" stroke="#9c9c9c" stroke-width="0.8" fill="none"/>
<path d="M276.2,540.8 V562.4 M273.6,540.8 H278.8 M273.6,562.4 H278.8" stroke="#9c9c9c" stroke-width="0.8" fill="none"/>
<path d="M276.2,551.1 V572.3 M273.6,551.1 H278.8 M273.6,572.3 H278.8" stroke="#9c9c9c" stroke-width="0.8" fill="none"/>
<path d="M279.7,546.6 V564.8 M277.1,546.6 H282.3 M277.1,564.8 H282.3" stroke="#9c9c9c" stroke-width="0.8" fill="none"/>
<path d="M279.7,558.0 V571.2 M277.1,558.0 H282.3 M277.1,571.2 H282.3" stroke="#9c9c9c" stroke-width="0.8" fill="none"/>
<path d="M284.6,541.0 V560.8 M282.0,541.0 H287.2 M282.0,560.8 H287.2" stroke="#9c9c9c" stroke-width="0.8" fill="none"/>
<path d="M284.6,553.0 V572.9 M282.0,553.0 H287.2 M282.0,572.9 H287.2" stroke="#9c9c9c" stroke-width="0.8" fill="none"/>
<path d="M288.4,542.5 V555.5 M285.8,542.5 H291.0 M285.8,555.5 H291.0" stroke="#9c9c9c" stroke-width="0.8" fill="none"/>
<path d="M288.4,552.5 V573.0 M285.8,552.5 H291.0 M285.8,573.0 H291.0" stroke="#9c9c9c" stroke-width="0.8" fill="none"/>
<path d="M292.8,537.9 V556.4 M290.2,537.9 H295.4 M290.2,556.4 H295.4" stroke="#9c9c9c" stroke-width="0.8" fill="none"/>
<path d="M292.8,553.1 V570.2 M290.2,553.1 H295.4 M290.2,570.2 H295.4" stroke="#9c9c9c" stroke-width="0.8" fill="none"/>
<path d="M297.5,531.0 V546.8 M294.9,531.0 H300.1 M294.9,546.8 H300.1" stroke="#9c9c9c" stroke-width="0.8" fill="none"/>
<path d="M297.5,549.1 V564.2 M294.9,549.1 H300.1 M294.9,564.2 H300.1" stroke="#9c9c9c" stroke-width="0.8" fill="none"/>
<path d="M301.5,538.3 V553.7 M298.9,538.3 H304.1 M298.9,553.7 H304.1" stroke="#9c9c9c" stroke-width="0.8" fill="none"/>
<path d="M301.5,547.2 V565.9 M298.9,547.2 H304.1 M298.9,565.9 H304.1" stroke="#9c9c9c" stroke-width="0.8" fill="none"/>
<path d="M306.3,544.9 V558.0 M303.7,544.9 H308.9 M303.7,558.0 H308.9" stroke="#9c9c9c" stroke-width="0.8" fill="none"/>
<path d="M306.3,551.4 V564.5 M303.7,551.4 H308.9 M303.7,564.5 H308.9" stroke="#9c9c9c" stroke-width="0.8" fill="none"/>
<path d="M310.6,544.4 V563.6 M308.0,544.4 H313.2 M308.0,563.6 H313.2" stroke="#9c9c9c" stroke-width="0.8" fill="none"/>
<path d="M310.6,548.6 V563.0 M308.0,548.6 H313.2 M308.0,563.0 H313.2" stroke="#9c9c9c" stroke-width="0.8" fill="none"/>
<path d="M314.5,544.3 V557.3 M311.9,544.3 H317.1 M311.9,557.3 H317.1" stroke="#9c9c9c" stroke-width="0.8" fill="none"/>
<path d="M314.5,548.3 V561.0 M311.9,548.3 H317.1 M311.9,561.0 H317.1" stroke="#9c9c9c" stroke-width="0.8" fill="none"/>
<path d="M318.7,542.3 V561.5 M316.1,542.3 H321.3 M316.1,561.5 H321.3" stroke="#9c9c9c" stroke-width="0.8" fill="none"/>
<path d="M318.7,548.1 V567.1 M316.1,548.1 H321.3 M316.1,567.1 H321.3" stroke="#9c9c9c" stroke-width="0.8" fill="none"/>
<path d="M322.5,544.7 V558.1 M319.9,544.7 H325.1 M319.9,558.1 H325.1" stroke="#9c9c9c" stroke-width="0.8" fill="none"/>
<path d="M322.5,550.9 V572.6 M319.9,550.9 H325.1 M319.9,572.6 H325.1" stroke="#9c9c9c" stroke-width="0.8" fill="none"/>
<path d="M326.8,545.1 V561.6 M324.2,545.1 H329.4 M324.2,561.6 H329.4" stroke="#9c9c9c" stroke-width="0.8" fill="none"/>
<path d="M326.8,554.5 V573.8 M324.2,554.5 H329.4 M324.2,573.8 H329.4" stroke="#9c9c9c" stroke-width="0.8" fill="none"/>
<path d="M331.4,551.5 V569.2 M328.8,551.5 H334.0 M328.8,569.2 H334.0" stroke="#9c9c9c" stroke-width="0.8" fill="none"/>
<path d="M331.4,557.3 V570.5 M328.8,557.3 H334.0 M328.8,570.5 H334.0" stroke="#9c9c9c" stroke-width="0.8" fill="none"/>
<path d="M336.1,559.9 V574.4 M333.5,559.9 H338.7 M333.5,574.4 H338.7" stroke="#9c9c9c" stroke-width="0.8" fill="none"/>
<path d="M336.1,562.8 V575.7 M333.5,562.8 H338.7 M333.5,575.7 H338.7" stroke="#9c9c9c" stroke-width="0.8" fill="none"/>
<path d="M340.2,557.8 V575.5 M337.6,557.8 H342.8 M337.6,575.5 H342.8" stroke="#9c9c9c" stroke-width="0.8" fill="none"/>
<path d="M340.2,557.5 V576.1 M337.6,557.5 H342.8 M337.6,576.1 H342.8" stroke="#9c9c9c" stroke-width="0.8" fill="none"/>
<path d="M343.9,550.4 V569.9 M341.3,550.4 H346.5 M341.3,569.9 H346.5" stroke="#9c9c9c" stroke-width="0.8" fill="none"/>
<path d="M343.9,555.0 V572.3 M341.3,555.0 H346.5 M341.3,572.3 H346.5" stroke="#9c9c9c" stroke-width="0.8" fill="none"/>
<path d="M347.7,544.5 V565.4 M345.1,544.5 H350.3 M345.1,565.4 H350.3" stroke="#9c9c9c" stroke-width="0.8" fill="none"/>
<path d="M347.7,549.3 V569.7 M345.1,549.3 H350.3 M345.1,569.7 H350.3" stroke="#9c9c9c" stroke-width="0.8" fill="none"/>
<path d="M352.5,539.6 V558.7 M349.9,539.6 H355.1 M349.9,558.7 H355.1" stroke="#9c9c9c" stroke-width="0.8" fill="none"/>
<path d="M352.5,548.2 V562.8 M349.9,548.2 H355.1 M349.9,562.8 H355.1" stroke="#9c9c9c" stroke-width="0.8" fill="none"/>
<path d="M357.2,533.7 V555.1 M354.6,533.7 H359.8 M354.6,555.1 H359.8" stroke="#9c9c9c" stroke-width="0.8" fill="none"/>
<path d="M357.2,545.2 V562.9 M354.6,545.2 H359.8 M354.6,562.9 H359.8" stroke="#9c9c9c" stroke-width="0.8" fill="none"/>
<path d="M362.0,530.2 V552.3 M359.4,530.2 H364.6 M359.4,552.3 H364.6" stroke="#9c9c9c" stroke-width="0.8" fill="none"/>
<path d="M362.0,544.9 V561.2 M359.4,544.9 H364.6 M359.4,561.2 H364.6" stroke="#9c9c9c" stroke-width="0.8" fill="none"/>
<path d="M367.0,528.3 V550.1 M364.4,528.3 H369.6 M364.4,550.1 H369.6" stroke="#9c9c9c" stroke-width="0.8" fill="none"/>
<path d="M367.0,541.9 V562.2 M364.4,541.9 H369.6 M364.4,562.2 H369.6" stroke="#9c9c9c" stroke-width="0.8" fill="none"/>
<path d="M370.5,530.2 V546.1 M367.9,530.2 H373.1 M367.9,546.1 H373.1" stroke="#9c9c9c" stroke-width="0.8" fill="none"/>
<path d="M370.5,542.0 V560.6 M367.9,542.0 H373.1 M367.9,560.6 H373.1" stroke="#9c9c9c" stroke-width="0.8" fill="none"/>
<path d="M374.9,530.0 V549.9 M372.3,530.0 H377.5 M372.3,549.9 H377.5" stroke="#9c9c9c" stroke-width="0.8" fill="none"/>
<path d="M374.9,541.0 V559.8 M372.3,541.0 H377.5 M372.3,559.8 H377.5" stroke="#9c9c9c" stroke-width="0.8" fill="none"/>
<path d="M378.6,527.7 V549.3 M376.0,527.7 H381.2 M376.0,549.3 H381.2" stroke="#9c9c9c" stroke-width="0.8" fill="none"/>
<path d="M378.6,540.7 V558.5 M376.0,540.7 H381.2 M376.0,558.5 H381.2" stroke="#9c9c9c" stroke-width="0.8" fill="none"/>
<path d="M383.4,527.8 V542.3 M380.8,527.8 H386.0 M380.8,542.3 H386.0" stroke="#9c9c9c" stroke-width="0.8" fill="none"/>
<path d="M383.4,537.4 V559.8 M380.8,537.4 H386.0 M380.8,559.8 H386.0" stroke="#9c9c9c" stroke-width="0.8" fill="none"/>
<path d="M387.8,519.9 V540.0 M385.2,519.9 H390.4 M385.2,540.0 H390.4" stroke="#9c9c9c" stroke-width="0.8" fill="none"/>
<path d="M387.8,537.7 V557.5 M385.2,537.7 H390.4 M385.2,557.5 H390.4" stroke="#9c9c9c" stroke-width="0.8" fill="none"/>
<path d="M392.6,526.1 V542.1 M390.0,526.1 H395.2 M390.0,542.1 H395.2" stroke="#9c9c9c" stroke-width="0.8" fill="none"/>
<path d="M392.6,542.2 V555.4 M390.0,542.2 H395.2 M390.0,555.4 H395.2" stroke="#9c9c9c" stroke-width="0.8" fill="none"/>
<path d="M396.7,529.1 V543.3 M394.1,529.1 H399.3 M394.1,543.3 H399.3" stroke="#9c9c9c" stroke-width="0.8" fill="none"/>
<path d="M396.7,542.9 V560.7 M394.1,542.9 H399.3 M394.1,560.7 H399.3" stroke="#9c9c9c" stroke-width="0.8" fill="none"/>
<path d="M401.4,531.0 V547.0 M398.8,531.0 H404.0 M398.8,547.0 H404.0" stroke="#9c9c9c" stroke-width="0.8" fill="none"/>
<path d="M401.4,546.6 V560.3 M398.8,546.6 H404.0 M398.8,560.3 H404.0" stroke="#9c9c9c" stroke-width="0.8" fill="none"/>
<polyline points="253.00,538.29 254.60,544.20 256.20,552.41 257.80,548.68 259.40,549.92 261.00,549.67 262.60,545.27 264.20,546.45 265.80,545.41 267.40,549.14 269.00,552.91 270.60,553.61 272.20,552.77 273.80,551.79 275.40,550.92 277.00,549.91 278.60,551.54 280.20,557.45 281.80,554.65 283.40,552.90 285.00,550.41 286.60,550.77 288.20,548.86 289.80,548.56 291.40,549.83 293.00,545.58 294.60,545.99 296.20,539.87 297.80,538.52 299.40,541.86 301.00,543.14 302.60,547.94 304.20,549.85 305.80,553.28 307.40,551.60 309.00,553.30 310.60,553.66 312.20,550.41 313.80,552.73 315.40,551.77 317.00,550.12 318.60,550.43 320.20,552.43 321.80,553.71 323.40,551.61 325.00,548.87 326.60,553.01 328.20,555.83 329.80,558.81 331.40,559.79 333.00,561.92 334.60,563.47 336.20,565.67 337.80,569.50 339.40,568.73 341.00,565.99 342.60,560.67 344.20,558.41 345.80,555.59 347.40,556.70 349.00,551.73 350.60,549.65 352.20,551.46 353.80,548.51 355.40,545.28 357.00,546.18 358.60,541.73 360.20,543.07 361.80,540.50 363.40,541.60 365.00,541.29 366.60,540.68 368.20,538.70 369.80,537.05 371.40,539.80 373.00,538.33 374.60,540.60 376.20,538.83 377.80,539.45 379.40,539.59 381.00,538.75 382.60,537.80 384.20,533.57 385.80,533.09 387.40,532.20 389.00,528.96 390.60,531.65 392.20,536.08 393.80,533.71 395.40,535.13 397.00,536.64 398.60,537.21 400.20,535.98 401.80,539.84" fill="none" stroke="#000" stroke-width="3.3" stroke-linejoin="round" stroke-linecap="round"/>
<polyline points="253.00,551.81 254.60,557.33 256.20,563.18 257.80,561.62 259.40,558.10 261.00,558.44 262.60,559.91 264.20,560.32 265.80,562.30 267.40,560.39 269.00,564.55 270.60,561.88 272.20,562.07 273.80,562.48 275.40,560.65 277.00,561.99 278.60,565.57 280.20,564.81 281.80,565.63 283.40,562.08 285.00,563.57 286.60,563.56 288.20,564.08 289.80,564.84 291.40,563.63 293.00,563.12 294.60,560.31 296.20,557.14 297.80,557.34 299.40,555.19 301.00,555.03 302.60,561.36 304.20,560.15 305.80,557.20 307.40,558.42 309.00,555.37 310.60,555.62 312.20,557.22 313.80,556.03 315.40,554.38 317.00,557.99 318.60,558.83 320.20,558.54 321.80,559.43 323.40,562.77 325.00,564.11 326.60,566.42 328.20,564.42 329.80,563.69 331.40,562.06 333.00,565.91 334.60,565.29 336.20,571.52 337.80,569.96 339.40,565.97 341.00,564.86 342.60,564.40 344.20,564.89 345.80,559.85 347.40,561.71 349.00,555.70 350.60,555.06 352.20,554.66 353.80,554.86 355.40,555.95 357.00,554.81 358.60,553.01 360.20,552.71 361.80,553.60 363.40,551.39 365.00,554.46 366.60,553.07 368.20,553.63 369.80,552.23 371.40,549.77 373.00,549.62 374.60,552.04 376.20,550.98 377.80,551.55 379.40,548.71 381.00,549.38 382.60,550.01 384.20,549.03 385.80,546.43 387.40,548.03 389.00,546.43 390.60,546.86 392.20,548.63 393.80,549.31 395.40,551.31 397.00,553.39 398.60,553.37 400.20,555.24 401.80,553.94" fill="none" stroke="#ff0000" stroke-width="3.3" stroke-linejoin="round" stroke-linecap="round"/>
<rect x="253.00" y="582.70" width="74.50" height="12.80" fill="#fff" stroke="#000" stroke-width="1.2"/>
<rect x="327.50" y="582.70" width="75.30" height="12.80" fill="#000" stroke="#000" stroke-width="1.2"/>
<text x="290.3" y="593.6" font-size="11.8" font-weight="bold" font-style="normal" text-anchor="middle" fill="#000">Light</text>
<text x="365.2" y="593.6" font-size="11.8" font-weight="bold" font-style="normal" text-anchor="middle" fill="#fff">Dark</text>
<line x1="466.60" y1="513.70" x2="466.60" y2="598.00" stroke="#000" stroke-width="1.3"/>
<line x1="462.00" y1="584.80" x2="466.60" y2="584.80" stroke="#000" stroke-width="1.1"/>
<text x="457.8" y="588.6" font-size="10.3" font-weight="bold" font-style="normal" text-anchor="end" fill="#000">0</text>
<line x1="462.00" y1="561.10" x2="466.60" y2="561.10" stroke="#000" stroke-width="1.1"/>
<text x="457.8" y="564.9" font-size="10.3" font-weight="bold" font-style="normal" text-anchor="end" fill="#000">100</text>
<line x1="462.00" y1="537.40" x2="466.60" y2="537.40" stroke="#000" stroke-width="1.1"/>
<text x="457.8" y="541.2" font-size="10.3" font-weight="bold" font-style="normal" text-anchor="end" fill="#000">200</text>
<line x1="462.00" y1="513.70" x2="466.60" y2="513.70" stroke="#000" stroke-width="1.1"/>
<text x="457.8" y="517.5" font-size="10.3" font-weight="bold" font-style="normal" text-anchor="end" fill="#000">300</text>
<text font-size="11.4" font-weight="bold" text-anchor="middle" transform="translate(431.8,552.5) rotate(-90)">Activity (Count)</text>
<path d="M467.6,564.0 V578.7 M465.0,564.0 H470.2 M465.0,578.7 H470.2" stroke="#9c9c9c" stroke-width="0.8" fill="none"/>
<path d="M467.6,536.2 V567.3 M465.0,536.2 H470.2 M465.0,567.3 H470.2" stroke="#9c9c9c" stroke-width="0.8" fill="none"/>
<path d="M471.7,571.9 V584.1 M469.1,571.9 H474.3 M469.1,584.1 H474.3" stroke="#9c9c9c" stroke-width="0.8" fill="none"/>
<path d="M471.7,575.9 V585.1 M469.1,575.9 H474.3 M469.1,585.1 H474.3" stroke="#9c9c9c" stroke-width="0.8" fill="none"/>
<path d="M475.6,568.0 V588.1 M473.0,568.0 H478.2 M473.0,588.1 H478.2" stroke="#9c9c9c" stroke-width="0.8" fill="none"/>
<path d="M475.6,573.9 V586.8 M473.0,573.9 H478.2 M473.0,586.8 H478.2" stroke="#9c9c9c" stroke-width="0.8" fill="none"/>
<path d="M480.1,558.9 V575.7 M477.5,558.9 H482.7 M477.5,575.7 H482.7" stroke="#9c9c9c" stroke-width="0.8" fill="none"/>
<path d="M480.1,572.9 V589.2 M477.5,572.9 H482.7 M477.5,589.2 H482.7" stroke="#9c9c9c" stroke-width="0.8" fill="none"/>
<path d="M484.2,569.1 V587.5 M481.6,569.1 H486.8 M481.6,587.5 H486.8" stroke="#9c9c9c" stroke-width="0.8" fill="none"/>
<path d="M484.2,574.8 V589.3 M481.6,574.8 H486.8 M481.6,589.3 H486.8" stroke="#9c9c9c" stroke-width="0.8" fill="none"/>
<path d="M488.3,566.5 V581.3 M485.7,566.5 H490.9 M485.7,581.3 H490.9" stroke="#9c9c9c" stroke-width="0.8" fill="none"/>
<path d="M488.3,565.3 V583.6 M485.7,565.3 H490.9 M485.7,583.6 H490.9" stroke="#9c9c9c" stroke-width="0.8" fill="none"/>
<path d="M493.0,556.1 V578.4 M490.4,556.1 H495.6 M490.4,578.4 H495.6" stroke="#9c9c9c" stroke-width="0.8" fill="none"/>
<path d="M493.0,571.4 V586.6 M490.4,571.4 H495.6 M490.4,586.6 H495.6" stroke="#9c9c9c" stroke-width="0.8" fill="none"/>
<path d="M497.0,555.0 V579.7 M494.4,555.0 H499.6 M494.4,579.7 H499.6" stroke="#9c9c9c" stroke-width="0.8" fill="none"/>
<path d="M497.0,563.3 V584.8 M494.4,563.3 H499.6 M494.4,584.8 H499.6" stroke="#9c9c9c" stroke-width="0.8" fill="none"/>
<path d="M500.8,560.2 V581.0 M498.2,560.2 H503.4 M498.2,581.0 H503.4" stroke="#9c9c9c" stroke-width="0.8" fill="none"/>
<path d="M500.8,564.1 V584.6 M498.2,564.1 H503.4 M498.2,584.6 H503.4" stroke="#9c9c9c" stroke-width="0.8" fill="none"/>
<path d="M505.3,555.6 V580.8 M502.7,555.6 H507.9 M502.7,580.8 H507.9" stroke="#9c9c9c" stroke-width="0.8" fill="none"/>
<path d="M505.3,567.7 V588.0 M502.7,567.7 H507.9 M502.7,588.0 H507.9" stroke="#9c9c9c" stroke-width="0.8" fill="none"/>
<path d="M509.1,556.1 V581.4 M506.5,556.1 H511.7 M506.5,581.4 H511.7" stroke="#9c9c9c" stroke-width="0.8" fill="none"/>
<path d="M509.1,559.0 V576.8 M506.5,559.0 H511.7 M506.5,576.8 H511.7" stroke="#9c9c9c" stroke-width="0.8" fill="none"/>
<path d="M513.2,567.2 V588.7 M510.6,567.2 H515.8 M510.6,588.7 H515.8" stroke="#9c9c9c" stroke-width="0.8" fill="none"/>
<path d="M513.2,574.9 V585.7 M510.6,574.9 H515.8 M510.6,585.7 H515.8" stroke="#9c9c9c" stroke-width="0.8" fill="none"/>
<path d="M517.3,568.4 V586.0 M514.7,568.4 H519.9 M514.7,586.0 H519.9" stroke="#9c9c9c" stroke-width="0.8" fill="none"/>
<path d="M517.3,574.1 V586.3 M514.7,574.1 H519.9 M514.7,586.3 H519.9" stroke="#9c9c9c" stroke-width="0.8" fill="none"/>
<path d="M521.2,558.3 V580.9 M518.6,558.3 H523.8 M518.6,580.9 H523.8" stroke="#9c9c9c" stroke-width="0.8" fill="none"/>
<path d="M521.2,571.1 V587.6 M518.6,571.1 H523.8 M518.6,587.6 H523.8" stroke="#9c9c9c" stroke-width="0.8" fill="none"/>
<path d="M525.8,542.8 V570.5 M523.2,542.8 H528.4 M523.2,570.5 H528.4" stroke="#9c9c9c" stroke-width="0.8" fill="none"/>
<path d="M525.8,558.1 V581.5 M523.2,558.1 H528.4 M523.2,581.5 H528.4" stroke="#9c9c9c" stroke-width="0.8" fill="none"/>
<path d="M530.7,557.1 V580.4 M528.1,557.1 H533.3 M528.1,580.4 H533.3" stroke="#9c9c9c" stroke-width="0.8" fill="none"/>
<path d="M530.7,559.8 V583.7 M528.1,559.8 H533.3 M528.1,583.7 H533.3" stroke="#9c9c9c" stroke-width="0.8" fill="none"/>
<path d="M534.9,571.4 V588.7 M532.3,571.4 H537.5 M532.3,588.7 H537.5" stroke="#9c9c9c" stroke-width="0.8" fill="none"/>
<path d="M534.9,572.9 V587.8 M532.3,572.9 H537.5 M532.3,587.8 H537.5" stroke="#9c9c9c" stroke-width="0.8" fill="none"/>
<path d="M539.9,567.2 V585.4 M537.3,567.2 H542.5 M537.3,585.4 H542.5" stroke="#9c9c9c" stroke-width="0.8" fill="none"/>
<path d="M539.9,577.5 V590.1 M537.3,577.5 H542.5 M537.3,590.1 H542.5" stroke="#9c9c9c" stroke-width="0.8" fill="none"/>
<path d="M544.4,551.9 V571.7 M541.8,551.9 H547.0 M541.8,571.7 H547.0" stroke="#9c9c9c" stroke-width="0.8" fill="none"/>
<path d="M544.4,549.6 V568.5 M541.8,549.6 H547.0 M541.8,568.5 H547.0" stroke="#9c9c9c" stroke-width="0.8" fill="none"/>
<path d="M548.4,509.3 V541.7 M545.8,509.3 H551.0 M545.8,541.7 H551.0" stroke="#9c9c9c" stroke-width="0.8" fill="none"/>
<path d="M548.4,531.2 V555.0 M545.8,531.2 H551.0 M545.8,555.0 H551.0" stroke="#9c9c9c" stroke-width="0.8" fill="none"/>
<path d="M552.1,516.2 V549.5 M549.5,516.2 H554.7 M549.5,549.5 H554.7" stroke="#9c9c9c" stroke-width="0.8" fill="none"/>
<path d="M552.1,531.9 V563.0 M549.5,531.9 H554.7 M549.5,563.0 H554.7" stroke="#9c9c9c" stroke-width="0.8" fill="none"/>
<path d="M555.7,525.8 V557.7 M553.1,525.8 H558.3 M553.1,557.7 H558.3" stroke="#9c9c9c" stroke-width="0.8" fill="none"/>
<path d="M555.7,540.7 V562.4 M553.1,540.7 H558.3 M553.1,562.4 H558.3" stroke="#9c9c9c" stroke-width="0.8" fill="none"/>
<path d="M559.9,528.9 V556.4 M557.3,528.9 H562.5 M557.3,556.4 H562.5" stroke="#9c9c9c" stroke-width="0.8" fill="none"/>
<path d="M559.9,537.2 V563.4 M557.3,537.2 H562.5 M557.3,563.4 H562.5" stroke="#9c9c9c" stroke-width="0.8" fill="none"/>
<path d="M564.5,526.7 V556.1 M561.9,526.7 H567.1 M561.9,556.1 H567.1" stroke="#9c9c9c" stroke-width="0.8" fill="none"/>
<path d="M564.5,547.0 V569.4 M561.9,547.0 H567.1 M561.9,569.4 H567.1" stroke="#9c9c9c" stroke-width="0.8" fill="none"/>
<path d="M569.1,540.9 V562.6 M566.5,540.9 H571.7 M566.5,562.6 H571.7" stroke="#9c9c9c" stroke-width="0.8" fill="none"/>
<path d="M569.1,545.5 V568.0 M566.5,545.5 H571.7 M566.5,568.0 H571.7" stroke="#9c9c9c" stroke-width="0.8" fill="none"/>
<path d="M573.6,543.2 V571.3 M571.0,543.2 H576.2 M571.0,571.3 H576.2" stroke="#9c9c9c" stroke-width="0.8" fill="none"/>
<path d="M573.6,535.7 V567.7 M571.0,535.7 H576.2 M571.0,567.7 H576.2" stroke="#9c9c9c" stroke-width="0.8" fill="none"/>
<path d="M577.5,544.8 V570.3 M574.9,544.8 H580.1 M574.9,570.3 H580.1" stroke="#9c9c9c" stroke-width="0.8" fill="none"/>
<path d="M577.5,554.7 V573.7 M574.9,554.7 H580.1 M574.9,573.7 H580.1" stroke="#9c9c9c" stroke-width="0.8" fill="none"/>
<path d="M582.1,558.9 V581.8 M579.5,558.9 H584.7 M579.5,581.8 H584.7" stroke="#9c9c9c" stroke-width="0.8" fill="none"/>
<path d="M582.1,563.0 V577.5 M579.5,563.0 H584.7 M579.5,577.5 H584.7" stroke="#9c9c9c" stroke-width="0.8" fill="none"/>
<path d="M586.1,551.6 V577.8 M583.5,551.6 H588.7 M583.5,577.8 H588.7" stroke="#9c9c9c" stroke-width="0.8" fill="none"/>
<path d="M586.1,554.9 V574.2 M583.5,554.9 H588.7 M583.5,574.2 H588.7" stroke="#9c9c9c" stroke-width="0.8" fill="none"/>
<path d="M590.5,569.3 V588.5 M587.9,569.3 H593.1 M587.9,588.5 H593.1" stroke="#9c9c9c" stroke-width="0.8" fill="none"/>
<path d="M590.5,569.4 V583.2 M587.9,569.4 H593.1 M587.9,583.2 H593.1" stroke="#9c9c9c" stroke-width="0.8" fill="none"/>
<path d="M595.2,573.5 V583.2 M592.6,573.5 H597.8 M592.6,583.2 H597.8" stroke="#9c9c9c" stroke-width="0.8" fill="none"/>
<path d="M595.2,560.9 V578.1 M592.6,560.9 H597.8 M592.6,578.1 H597.8" stroke="#9c9c9c" stroke-width="0.8" fill="none"/>
<path d="M599.0,561.1 V578.3 M596.4,561.1 H601.6 M596.4,578.3 H601.6" stroke="#9c9c9c" stroke-width="0.8" fill="none"/>
<path d="M599.0,562.3 V577.8 M596.4,562.3 H601.6 M596.4,577.8 H601.6" stroke="#9c9c9c" stroke-width="0.8" fill="none"/>
<path d="M602.5,552.5 V577.1 M599.9,552.5 H605.1 M599.9,577.1 H605.1" stroke="#9c9c9c" stroke-width="0.8" fill="none"/>
<path d="M602.5,566.5 V580.2 M599.9,566.5 H605.1 M599.9,580.2 H605.1" stroke="#9c9c9c" stroke-width="0.8" fill="none"/>
<path d="M606.9,549.6 V572.7 M604.3,549.6 H609.5 M604.3,572.7 H609.5" stroke="#9c9c9c" stroke-width="0.8" fill="none"/>
<path d="M606.9,570.9 V589.8 M604.3,570.9 H609.5 M604.3,589.8 H609.5" stroke="#9c9c9c" stroke-width="0.8" fill="none"/>
<path d="M611.6,553.2 V575.8 M609.0,553.2 H614.2 M609.0,575.8 H614.2" stroke="#9c9c9c" stroke-width="0.8" fill="none"/>
<path d="M611.6,569.6 V582.3 M609.0,569.6 H614.2 M609.0,582.3 H614.2" stroke="#9c9c9c" stroke-width="0.8" fill="none"/>
<path d="M616.3,563.3 V577.4 M613.7,563.3 H618.9 M613.7,577.4 H618.9" stroke="#9c9c9c" stroke-width="0.8" fill="none"/>
<path d="M616.3,554.5 V579.7 M613.7,554.5 H618.9 M613.7,579.7 H618.9" stroke="#9c9c9c" stroke-width="0.8" fill="none"/>
<path d="M620.2,561.6 V577.8 M617.6,561.6 H622.8 M617.6,577.8 H622.8" stroke="#9c9c9c" stroke-width="0.8" fill="none"/>
<path d="M620.2,565.1 V579.7 M617.6,565.1 H622.8 M617.6,579.7 H622.8" stroke="#9c9c9c" stroke-width="0.8" fill="none"/>
<polyline points="466.60,568.80 468.00,571.31 469.40,575.04 470.80,577.16 472.20,578.82 473.60,578.89 475.00,578.70 476.40,578.06 477.80,574.75 479.20,569.15 480.60,566.49 482.00,568.65 483.40,576.16 484.80,578.28 486.20,577.34 487.60,575.50 489.00,572.38 490.40,566.33 491.80,561.80 493.20,566.64 494.60,569.69 496.00,570.01 497.40,566.19 498.80,567.54 500.20,568.55 501.60,572.87 503.00,572.10 504.40,571.03 505.80,566.32 507.20,563.79 508.60,567.87 510.00,572.86 511.40,578.72 512.80,577.50 514.20,577.70 515.60,579.50 517.00,576.53 518.40,573.77 519.80,572.53 521.20,569.42 522.60,559.82 524.00,550.01 525.40,555.48 526.80,560.25 528.20,563.19 529.60,567.56 531.00,570.01 532.40,572.84 533.80,578.64 535.20,581.05 536.60,577.55 538.00,578.58 539.40,576.82 540.80,576.27 542.20,572.68 543.60,565.79 545.00,558.62 546.40,549.20 547.80,527.45 549.20,528.30 550.60,531.04 552.00,533.51 553.40,536.88 554.80,540.08 556.20,543.21 557.60,541.66 559.00,542.16 560.40,541.74 561.80,537.58 563.20,539.05 564.60,542.10 566.00,543.23 567.40,546.60 568.80,550.93 570.20,553.67 571.60,555.18 573.00,555.50 574.40,558.22 575.80,557.06 577.20,556.19 578.60,559.42 580.00,562.91 581.40,569.78 582.80,567.73 584.20,565.16 585.60,562.90 587.00,566.93 588.40,570.81 589.80,578.59 591.20,579.57 592.60,577.84 594.00,578.47 595.40,577.58 596.80,575.79 598.20,572.03 599.60,566.86 601.00,567.11 602.40,564.77 603.80,562.92 605.20,562.13 606.60,561.14 608.00,559.10 609.40,558.77 610.80,562.56 612.20,566.57 613.60,571.16 615.00,570.89 616.40,569.75 617.80,569.77 619.20,568.80 620.60,570.03 622.00,571.71" fill="none" stroke="#000" stroke-width="3.3" stroke-linejoin="round" stroke-linecap="round"/>
<polyline points="466.60,544.15 468.00,556.79 469.40,573.69 470.80,581.06 472.20,578.63 473.60,577.28 475.00,579.40 476.40,580.23 477.80,582.01 479.20,581.15 480.60,579.68 482.00,581.69 483.40,581.81 484.80,581.86 486.20,578.73 487.60,575.26 489.00,577.47 490.40,579.31 491.80,581.07 493.20,579.34 494.60,575.70 496.00,574.03 497.40,573.36 498.80,575.62 500.20,573.71 501.60,575.04 503.00,574.63 504.40,576.60 505.80,575.51 507.20,572.39 508.60,565.12 510.00,570.37 511.40,577.10 512.80,579.27 514.20,580.01 515.60,581.24 517.00,580.53 518.40,579.03 519.80,579.75 521.20,580.65 522.60,577.96 524.00,575.48 525.40,570.65 526.80,567.66 528.20,570.55 529.60,572.41 531.00,570.33 532.40,572.98 533.80,576.41 535.20,582.10 536.60,582.56 538.00,584.03 539.40,584.73 540.80,583.56 542.20,580.61 543.60,562.77 545.00,561.26 546.40,561.97 547.80,548.22 549.20,538.59 550.60,544.24 552.00,546.94 553.40,545.55 554.80,547.10 556.20,552.65 557.60,555.98 559.00,553.28 560.40,549.49 561.80,551.13 563.20,557.84 564.60,558.68 566.00,550.09 567.40,546.23 568.80,554.18 570.20,560.56 571.60,553.36 573.00,546.73 574.40,557.02 575.80,565.54 577.20,566.11 578.60,561.19 580.00,558.61 581.40,567.34 582.80,574.21 584.20,579.65 585.60,567.43 587.00,557.75 588.40,565.93 589.80,574.70 591.20,574.44 592.60,573.24 594.00,571.03 595.40,568.76 596.80,572.75 598.20,576.61 599.60,565.66 601.00,565.89 602.40,572.17 603.80,577.17 605.20,578.45 606.60,578.72 608.00,580.70 609.40,578.79 610.80,576.28 612.20,573.42 613.60,566.45 615.00,560.95 616.40,566.89 617.80,573.23 619.20,574.35 620.60,572.66 622.00,570.59" fill="none" stroke="#ff0000" stroke-width="3.3" stroke-linejoin="round" stroke-linecap="round"/>
<rect x="466.60" y="584.60" width="78.40" height="13.10" fill="#fff" stroke="#000" stroke-width="1.2"/>
<rect x="545.00" y="584.60" width="77.70" height="13.10" fill="#000" stroke="#000" stroke-width="1.2"/>
<text x="505.8" y="595.8" font-size="11.8" font-weight="bold" font-style="normal" text-anchor="middle" fill="#000">Light</text>
<text x="583.9" y="595.8" font-size="11.8" font-weight="bold" font-style="normal" text-anchor="middle" fill="#fff">Dark</text>
<line x1="62.40" y1="624.40" x2="62.40" y2="708.00" stroke="#000" stroke-width="1.6"/>
<line x1="62.40" y1="707.20" x2="193.70" y2="707.20" stroke="#000" stroke-width="1.6"/>
<line x1="55.00" y1="707.20" x2="62.40" y2="707.20" stroke="#000" stroke-width="1.3"/>
<text x="53.4" y="711.0" font-size="10.5" font-weight="bold" font-style="normal" text-anchor="end" fill="#000">0</text>
<line x1="58.30" y1="699.02" x2="62.40" y2="699.02" stroke="#000" stroke-width="1.3"/>
<line x1="55.00" y1="690.83" x2="62.40" y2="690.83" stroke="#000" stroke-width="1.3"/>
<text x="53.4" y="694.6" font-size="10.5" font-weight="bold" font-style="normal" text-anchor="end" fill="#000">1000</text>
<line x1="58.30" y1="682.65" x2="62.40" y2="682.65" stroke="#000" stroke-width="1.3"/>
<line x1="55.00" y1="674.46" x2="62.40" y2="674.46" stroke="#000" stroke-width="1.3"/>
<text x="53.4" y="678.3" font-size="10.5" font-weight="bold" font-style="normal" text-anchor="end" fill="#000">2000</text>
<line x1="58.30" y1="666.28" x2="62.40" y2="666.28" stroke="#000" stroke-width="1.3"/>
<line x1="55.00" y1="658.09" x2="62.40" y2="658.09" stroke="#000" stroke-width="1.3"/>
<text x="53.4" y="661.9" font-size="10.5" font-weight="bold" font-style="normal" text-anchor="end" fill="#000">3000</text>
<line x1="58.30" y1="649.91" x2="62.40" y2="649.91" stroke="#000" stroke-width="1.3"/>
<line x1="55.00" y1="641.72" x2="62.40" y2="641.72" stroke="#000" stroke-width="1.3"/>
<text x="53.4" y="645.5" font-size="10.5" font-weight="bold" font-style="normal" text-anchor="end" fill="#000">4000</text>
<line x1="58.30" y1="633.54" x2="62.40" y2="633.54" stroke="#000" stroke-width="1.3"/>
<line x1="55.00" y1="625.35" x2="62.40" y2="625.35" stroke="#000" stroke-width="1.3"/>
<text x="53.4" y="629.1" font-size="10.5" font-weight="bold" font-style="normal" text-anchor="end" fill="#000">5000</text>
<text font-size="12.4" font-weight="bold" text-anchor="middle" transform="translate(21.4,668) rotate(-90)">VO<tspan font-size="8" dy="3.2">2</tspan><tspan dy="-3.2"> (ml/kg/h)</tspan></text>
<rect x="69.40" y="671.19" width="8.20" height="36.01" fill="#d2d2d2" stroke="#000" stroke-width="2.0"/>
<rect x="79.60" y="671.68" width="9.10" height="35.52" fill="#ff0000" stroke="#000" stroke-width="2.0"/>
<rect x="101.70" y="671.19" width="8.70" height="36.01" fill="#d2d2d2" stroke="#000" stroke-width="2.0"/>
<rect x="112.40" y="672.00" width="8.90" height="35.20" fill="#ff0000" stroke="#000" stroke-width="2.0"/>
<rect x="134.50" y="649.91" width="8.80" height="57.29" fill="#d2d2d2" stroke="#000" stroke-width="2.0"/>
<rect x="145.30" y="649.91" width="8.70" height="57.29" fill="#ff0000" stroke="#000" stroke-width="2.0"/>
<rect x="167.60" y="659.73" width="8.80" height="47.47" fill="#d2d2d2" stroke="#000" stroke-width="2.0"/>
<rect x="178.40" y="660.55" width="8.10" height="46.65" fill="#ff0000" stroke="#000" stroke-width="2.0"/>
<line x1="73.50" y1="669.22" x2="73.50" y2="673.15" stroke="#000" stroke-width="1.1"/>
<line x1="70.50" y1="669.22" x2="76.50" y2="669.22" stroke="#000" stroke-width="1.1"/>
<line x1="70.50" y1="673.15" x2="76.50" y2="673.15" stroke="#000" stroke-width="1.1"/>
<circle cx="73.80" cy="670.82" r="1.2" fill="#000"/>
<circle cx="76.25" cy="672.94" r="1.2" fill="#000"/>
<circle cx="73.69" cy="669.79" r="1.2" fill="#000"/>
<circle cx="76.48" cy="666.79" r="1.2" fill="#000"/>
<circle cx="76.08" cy="674.98" r="1.2" fill="#000"/>
<circle cx="75.11" cy="671.51" r="1.2" fill="#000"/>
<circle cx="72.85" cy="667.57" r="1.2" fill="#000"/>
<circle cx="76.50" cy="666.51" r="1.2" fill="#000"/>
<line x1="84.15" y1="669.22" x2="84.15" y2="674.13" stroke="#000" stroke-width="1.1"/>
<line x1="81.15" y1="669.22" x2="87.15" y2="669.22" stroke="#000" stroke-width="1.1"/>
<line x1="81.15" y1="674.13" x2="87.15" y2="674.13" stroke="#000" stroke-width="1.1"/>
<circle cx="83.61" cy="666.10" r="1.2" fill="#000"/>
<circle cx="82.40" cy="672.99" r="1.2" fill="#000"/>
<circle cx="82.03" cy="672.22" r="1.2" fill="#000"/>
<circle cx="85.62" cy="668.39" r="1.2" fill="#000"/>
<circle cx="84.78" cy="665.38" r="1.2" fill="#000"/>
<circle cx="85.66" cy="669.57" r="1.2" fill="#000"/>
<circle cx="82.75" cy="681.93" r="1.2" fill="#000"/>
<circle cx="81.55" cy="676.30" r="1.2" fill="#000"/>
<line x1="106.05" y1="669.39" x2="106.05" y2="672.99" stroke="#000" stroke-width="1.1"/>
<line x1="103.05" y1="669.39" x2="109.05" y2="669.39" stroke="#000" stroke-width="1.1"/>
<line x1="103.05" y1="672.99" x2="109.05" y2="672.99" stroke="#000" stroke-width="1.1"/>
<circle cx="109.17" cy="674.00" r="1.2" fill="#000"/>
<circle cx="108.75" cy="672.79" r="1.2" fill="#000"/>
<circle cx="104.41" cy="674.15" r="1.2" fill="#000"/>
<circle cx="105.95" cy="678.35" r="1.2" fill="#000"/>
<circle cx="105.24" cy="673.98" r="1.2" fill="#000"/>
<circle cx="105.91" cy="668.66" r="1.2" fill="#000"/>
<circle cx="106.30" cy="671.71" r="1.2" fill="#000"/>
<circle cx="103.67" cy="671.95" r="1.2" fill="#000"/>
<line x1="116.85" y1="670.53" x2="116.85" y2="673.48" stroke="#000" stroke-width="1.1"/>
<line x1="113.85" y1="670.53" x2="119.85" y2="670.53" stroke="#000" stroke-width="1.1"/>
<line x1="113.85" y1="673.48" x2="119.85" y2="673.48" stroke="#000" stroke-width="1.1"/>
<circle cx="117.42" cy="667.94" r="1.2" fill="#000"/>
<circle cx="115.67" cy="672.81" r="1.2" fill="#000"/>
<circle cx="119.47" cy="673.42" r="1.2" fill="#000"/>
<circle cx="117.37" cy="676.96" r="1.2" fill="#000"/>
<circle cx="113.97" cy="672.58" r="1.2" fill="#000"/>
<circle cx="118.41" cy="667.43" r="1.2" fill="#000"/>
<circle cx="114.49" cy="673.82" r="1.2" fill="#000"/>
<circle cx="117.47" cy="667.11" r="1.2" fill="#000"/>
<line x1="138.90" y1="647.94" x2="138.90" y2="651.87" stroke="#000" stroke-width="1.1"/>
<line x1="135.90" y1="647.94" x2="141.90" y2="647.94" stroke="#000" stroke-width="1.1"/>
<line x1="135.90" y1="651.87" x2="141.90" y2="651.87" stroke="#000" stroke-width="1.1"/>
<circle cx="137.39" cy="649.47" r="1.2" fill="#000"/>
<circle cx="141.13" cy="649.12" r="1.2" fill="#000"/>
<circle cx="140.76" cy="652.95" r="1.2" fill="#000"/>
<circle cx="141.96" cy="647.34" r="1.2" fill="#000"/>
<circle cx="140.70" cy="650.19" r="1.2" fill="#000"/>
<circle cx="140.78" cy="644.87" r="1.2" fill="#000"/>
<circle cx="140.72" cy="652.03" r="1.2" fill="#000"/>
<circle cx="137.31" cy="646.86" r="1.2" fill="#000"/>
<line x1="149.65" y1="647.29" x2="149.65" y2="652.52" stroke="#000" stroke-width="1.1"/>
<line x1="146.65" y1="647.29" x2="152.65" y2="647.29" stroke="#000" stroke-width="1.1"/>
<line x1="146.65" y1="652.52" x2="152.65" y2="652.52" stroke="#000" stroke-width="1.1"/>
<circle cx="151.90" cy="655.68" r="1.2" fill="#000"/>
<circle cx="148.01" cy="649.39" r="1.2" fill="#000"/>
<circle cx="147.45" cy="651.36" r="1.2" fill="#000"/>
<circle cx="149.50" cy="652.37" r="1.2" fill="#000"/>
<circle cx="152.52" cy="653.41" r="1.2" fill="#000"/>
<circle cx="147.50" cy="654.59" r="1.2" fill="#000"/>
<circle cx="148.11" cy="654.50" r="1.2" fill="#000"/>
<circle cx="152.32" cy="650.79" r="1.2" fill="#000"/>
<line x1="172.00" y1="658.25" x2="172.00" y2="661.20" stroke="#000" stroke-width="1.1"/>
<line x1="169.00" y1="658.25" x2="175.00" y2="658.25" stroke="#000" stroke-width="1.1"/>
<line x1="169.00" y1="661.20" x2="175.00" y2="661.20" stroke="#000" stroke-width="1.1"/>
<circle cx="169.06" cy="658.55" r="1.2" fill="#000"/>
<circle cx="172.92" cy="658.23" r="1.2" fill="#000"/>
<circle cx="174.70" cy="660.68" r="1.2" fill="#000"/>
<circle cx="172.86" cy="661.19" r="1.2" fill="#000"/>
<circle cx="174.26" cy="657.97" r="1.2" fill="#000"/>
<circle cx="170.81" cy="654.14" r="1.2" fill="#000"/>
<circle cx="171.03" cy="658.87" r="1.2" fill="#000"/>
<circle cx="171.48" cy="660.70" r="1.2" fill="#000"/>
<line x1="182.45" y1="658.74" x2="182.45" y2="662.35" stroke="#000" stroke-width="1.1"/>
<line x1="179.45" y1="658.74" x2="185.45" y2="658.74" stroke="#000" stroke-width="1.1"/>
<line x1="179.45" y1="662.35" x2="185.45" y2="662.35" stroke="#000" stroke-width="1.1"/>
<circle cx="181.72" cy="657.23" r="1.2" fill="#000"/>
<circle cx="180.58" cy="661.51" r="1.2" fill="#000"/>
<circle cx="184.68" cy="659.44" r="1.2" fill="#000"/>
<circle cx="181.43" cy="662.91" r="1.2" fill="#000"/>
<circle cx="180.96" cy="668.51" r="1.2" fill="#000"/>
<circle cx="182.63" cy="663.13" r="1.2" fill="#000"/>
<circle cx="181.86" cy="664.07" r="1.2" fill="#000"/>
<circle cx="183.38" cy="664.60" r="1.2" fill="#000"/>
<text x="55.5" y="727.8" font-size="10" font-weight="bold" text-anchor="middle" transform="rotate(-19 55.5 725.5999999999999)">Early light</text>
<text x="90.3" y="727.2" font-size="10" font-weight="bold" text-anchor="middle" transform="rotate(-19 90.3 725.0)">Late light</text>
<text x="120.8" y="729.0" font-size="10" font-weight="bold" text-anchor="middle" transform="rotate(-19 120.8 726.8)">Early dark</text>
<text x="156.4" y="726.5" font-size="10" font-weight="bold" text-anchor="middle" transform="rotate(-19 156.4 724.3)">Late dark</text>
<line x1="263.90" y1="624.20" x2="263.90" y2="707.80" stroke="#000" stroke-width="1.6"/>
<line x1="263.90" y1="707.00" x2="397.20" y2="707.00" stroke="#000" stroke-width="1.6"/>
<line x1="256.50" y1="707.00" x2="263.90" y2="707.00" stroke="#000" stroke-width="1.3"/>
<text x="256.8" y="710.8" font-size="10.5" font-weight="bold" font-style="normal" text-anchor="end" fill="#000">0.8</text>
<line x1="260.00" y1="690.55" x2="263.90" y2="690.55" stroke="#000" stroke-width="1.3"/>
<line x1="256.50" y1="674.10" x2="263.90" y2="674.10" stroke="#000" stroke-width="1.3"/>
<text x="256.8" y="677.9" font-size="10.5" font-weight="bold" font-style="normal" text-anchor="end" fill="#000">0.9</text>
<line x1="260.00" y1="657.65" x2="263.90" y2="657.65" stroke="#000" stroke-width="1.3"/>
<line x1="256.50" y1="641.20" x2="263.90" y2="641.20" stroke="#000" stroke-width="1.3"/>
<text x="256.8" y="645.0" font-size="10.5" font-weight="bold" font-style="normal" text-anchor="end" fill="#000">1.0</text>
<line x1="260.00" y1="624.75" x2="263.90" y2="624.75" stroke="#000" stroke-width="1.3"/>
<text font-size="12.2" font-weight="bold" text-anchor="middle" transform="translate(231.9,668.9) rotate(-90)">RER (VCO<tspan font-size="8" dy="3.2">2</tspan><tspan dy="-3.2">/VO</tspan><tspan font-size="8" dy="3.2">2</tspan><tspan dy="-3.2">)</tspan></text>
<rect x="270.60" y="654.36" width="9.30" height="52.64" fill="#d2d2d2" stroke="#000" stroke-width="2.0"/>
<rect x="281.90" y="663.24" width="8.50" height="43.76" fill="#ff0000" stroke="#000" stroke-width="2.0"/>
<rect x="303.20" y="654.36" width="9.30" height="52.64" fill="#d2d2d2" stroke="#000" stroke-width="2.0"/>
<rect x="314.50" y="660.94" width="8.50" height="46.06" fill="#ff0000" stroke="#000" stroke-width="2.0"/>
<rect x="335.80" y="656.00" width="8.80" height="51.00" fill="#d2d2d2" stroke="#000" stroke-width="2.0"/>
<rect x="346.60" y="660.94" width="9.00" height="46.06" fill="#ff0000" stroke="#000" stroke-width="2.0"/>
<rect x="369.00" y="644.49" width="8.70" height="62.51" fill="#d2d2d2" stroke="#000" stroke-width="2.0"/>
<rect x="379.70" y="654.36" width="8.50" height="52.64" fill="#ff0000" stroke="#000" stroke-width="2.0"/>
<line x1="275.25" y1="650.41" x2="275.25" y2="658.31" stroke="#000" stroke-width="1.1"/>
<line x1="272.25" y1="650.41" x2="278.25" y2="650.41" stroke="#000" stroke-width="1.1"/>
<line x1="272.25" y1="658.31" x2="278.25" y2="658.31" stroke="#000" stroke-width="1.1"/>
<circle cx="272.11" cy="657.38" r="1.2" fill="#000"/>
<circle cx="275.93" cy="647.34" r="1.2" fill="#000"/>
<circle cx="273.05" cy="675.44" r="1.2" fill="#000"/>
<circle cx="276.36" cy="664.97" r="1.2" fill="#000"/>
<circle cx="277.37" cy="669.73" r="1.2" fill="#000"/>
<circle cx="275.37" cy="649.72" r="1.2" fill="#000"/>
<circle cx="273.00" cy="671.79" r="1.2" fill="#000"/>
<circle cx="277.64" cy="646.90" r="1.2" fill="#000"/>
<circle cx="275.13" cy="658.21" r="1.2" fill="#000"/>
<line x1="286.15" y1="658.31" x2="286.15" y2="668.18" stroke="#000" stroke-width="1.1"/>
<line x1="283.15" y1="658.31" x2="289.15" y2="658.31" stroke="#000" stroke-width="1.1"/>
<line x1="283.15" y1="668.18" x2="289.15" y2="668.18" stroke="#000" stroke-width="1.1"/>
<circle cx="289.00" cy="663.77" r="1.2" fill="#000"/>
<circle cx="284.65" cy="646.06" r="1.2" fill="#000"/>
<circle cx="288.94" cy="665.55" r="1.2" fill="#000"/>
<circle cx="284.53" cy="663.91" r="1.2" fill="#000"/>
<circle cx="285.96" cy="660.19" r="1.2" fill="#000"/>
<circle cx="285.09" cy="666.07" r="1.2" fill="#000"/>
<circle cx="287.61" cy="668.67" r="1.2" fill="#000"/>
<circle cx="287.50" cy="668.96" r="1.2" fill="#000"/>
<circle cx="285.74" cy="654.77" r="1.2" fill="#000"/>
<line x1="307.85" y1="649.43" x2="307.85" y2="659.30" stroke="#000" stroke-width="1.1"/>
<line x1="304.85" y1="649.43" x2="310.85" y2="649.43" stroke="#000" stroke-width="1.1"/>
<line x1="304.85" y1="659.30" x2="310.85" y2="659.30" stroke="#000" stroke-width="1.1"/>
<circle cx="309.85" cy="660.13" r="1.2" fill="#000"/>
<circle cx="307.93" cy="670.39" r="1.2" fill="#000"/>
<circle cx="309.27" cy="627.58" r="1.2" fill="#000"/>
<circle cx="307.79" cy="658.60" r="1.2" fill="#000"/>
<circle cx="305.14" cy="665.48" r="1.2" fill="#000"/>
<circle cx="310.31" cy="663.51" r="1.2" fill="#000"/>
<circle cx="310.15" cy="645.44" r="1.2" fill="#000"/>
<circle cx="308.18" cy="678.00" r="1.2" fill="#000"/>
<circle cx="310.93" cy="637.61" r="1.2" fill="#000"/>
<line x1="318.75" y1="656.33" x2="318.75" y2="665.55" stroke="#000" stroke-width="1.1"/>
<line x1="315.75" y1="656.33" x2="321.75" y2="656.33" stroke="#000" stroke-width="1.1"/>
<line x1="315.75" y1="665.55" x2="321.75" y2="665.55" stroke="#000" stroke-width="1.1"/>
<circle cx="316.07" cy="661.58" r="1.2" fill="#000"/>
<circle cx="320.79" cy="676.40" r="1.2" fill="#000"/>
<circle cx="318.88" cy="646.13" r="1.2" fill="#000"/>
<circle cx="319.88" cy="656.96" r="1.2" fill="#000"/>
<circle cx="320.65" cy="676.35" r="1.2" fill="#000"/>
<circle cx="319.75" cy="663.67" r="1.2" fill="#000"/>
<circle cx="315.55" cy="662.93" r="1.2" fill="#000"/>
<circle cx="320.44" cy="663.59" r="1.2" fill="#000"/>
<circle cx="316.63" cy="653.26" r="1.2" fill="#000"/>
<line x1="340.20" y1="652.72" x2="340.20" y2="659.30" stroke="#000" stroke-width="1.1"/>
<line x1="337.20" y1="652.72" x2="343.20" y2="652.72" stroke="#000" stroke-width="1.1"/>
<line x1="337.20" y1="659.30" x2="343.20" y2="659.30" stroke="#000" stroke-width="1.1"/>
<circle cx="338.32" cy="656.74" r="1.2" fill="#000"/>
<circle cx="341.45" cy="659.76" r="1.2" fill="#000"/>
<circle cx="340.93" cy="652.62" r="1.2" fill="#000"/>
<circle cx="339.54" cy="657.74" r="1.2" fill="#000"/>
<circle cx="337.11" cy="658.86" r="1.2" fill="#000"/>
<circle cx="337.50" cy="658.75" r="1.2" fill="#000"/>
<circle cx="340.92" cy="647.12" r="1.2" fill="#000"/>
<circle cx="337.85" cy="663.25" r="1.2" fill="#000"/>
<circle cx="338.27" cy="664.34" r="1.2" fill="#000"/>
<line x1="351.10" y1="658.31" x2="351.10" y2="663.57" stroke="#000" stroke-width="1.1"/>
<line x1="348.10" y1="658.31" x2="354.10" y2="658.31" stroke="#000" stroke-width="1.1"/>
<line x1="348.10" y1="663.57" x2="354.10" y2="663.57" stroke="#000" stroke-width="1.1"/>
<circle cx="352.90" cy="686.98" r="1.2" fill="#000"/>
<circle cx="351.52" cy="637.16" r="1.2" fill="#000"/>
<circle cx="352.03" cy="694.34" r="1.2" fill="#000"/>
<circle cx="349.89" cy="673.81" r="1.2" fill="#000"/>
<circle cx="351.89" cy="641.96" r="1.2" fill="#000"/>
<circle cx="352.94" cy="688.68" r="1.2" fill="#000"/>
<circle cx="348.51" cy="689.27" r="1.2" fill="#000"/>
<circle cx="350.44" cy="655.47" r="1.2" fill="#000"/>
<circle cx="352.49" cy="649.85" r="1.2" fill="#000"/>
<line x1="373.35" y1="642.52" x2="373.35" y2="646.46" stroke="#000" stroke-width="1.1"/>
<line x1="370.35" y1="642.52" x2="376.35" y2="642.52" stroke="#000" stroke-width="1.1"/>
<line x1="370.35" y1="646.46" x2="376.35" y2="646.46" stroke="#000" stroke-width="1.1"/>
<circle cx="373.04" cy="645.00" r="1.2" fill="#000"/>
<circle cx="372.10" cy="636.09" r="1.2" fill="#000"/>
<circle cx="376.42" cy="648.88" r="1.2" fill="#000"/>
<circle cx="370.98" cy="649.97" r="1.2" fill="#000"/>
<circle cx="373.09" cy="636.95" r="1.2" fill="#000"/>
<circle cx="370.65" cy="650.05" r="1.2" fill="#000"/>
<circle cx="372.39" cy="651.65" r="1.2" fill="#000"/>
<circle cx="374.71" cy="653.95" r="1.2" fill="#000"/>
<circle cx="375.65" cy="647.30" r="1.2" fill="#000"/>
<line x1="383.95" y1="650.41" x2="383.95" y2="658.31" stroke="#000" stroke-width="1.1"/>
<line x1="380.95" y1="650.41" x2="386.95" y2="650.41" stroke="#000" stroke-width="1.1"/>
<line x1="380.95" y1="658.31" x2="386.95" y2="658.31" stroke="#000" stroke-width="1.1"/>
<circle cx="382.75" cy="655.77" r="1.2" fill="#000"/>
<circle cx="386.36" cy="682.00" r="1.2" fill="#000"/>
<circle cx="386.21" cy="650.92" r="1.2" fill="#000"/>
<circle cx="381.73" cy="675.82" r="1.2" fill="#000"/>
<circle cx="384.28" cy="630.78" r="1.2" fill="#000"/>
<circle cx="385.37" cy="684.41" r="1.2" fill="#000"/>
<circle cx="384.97" cy="640.77" r="1.2" fill="#000"/>
<circle cx="383.59" cy="648.69" r="1.2" fill="#000"/>
<circle cx="381.41" cy="668.47" r="1.2" fill="#000"/>
<path d="M373.6,625.5 L373.6,617.0 L384.1,617.0 L384.1,625.5" fill="none" stroke="#444" stroke-width="1.0"/>
<text x="379.9" y="615.8" font-size="19.5" font-weight="bold" font-style="normal" text-anchor="middle" fill="#000">*</text>
<text x="257" y="727.8" font-size="10" font-weight="bold" text-anchor="middle" transform="rotate(-19 257 725.5999999999999)">Early light</text>
<text x="291.9" y="727.2" font-size="10" font-weight="bold" text-anchor="middle" transform="rotate(-19 291.9 725.0)">Late light</text>
<text x="321.8" y="728.5" font-size="10" font-weight="bold" text-anchor="middle" transform="rotate(-19 321.8 726.3)">Early dark</text>
<text x="356.7" y="727.2" font-size="10" font-weight="bold" text-anchor="middle" transform="rotate(-19 356.7 725.0)">Late dark</text>
<line x1="476.10" y1="623.40" x2="476.10" y2="706.80" stroke="#000" stroke-width="1.6"/>
<line x1="476.10" y1="706.10" x2="607.50" y2="706.10" stroke="#000" stroke-width="1.6"/>
<line x1="469.80" y1="706.10" x2="476.10" y2="706.10" stroke="#000" stroke-width="1.3"/>
<text x="467.8" y="709.9" font-size="10.5" font-weight="bold" font-style="normal" text-anchor="end" fill="#000">0</text>
<line x1="473.00" y1="696.02" x2="476.10" y2="696.02" stroke="#000" stroke-width="1.3"/>
<line x1="469.80" y1="685.95" x2="476.10" y2="685.95" stroke="#000" stroke-width="1.3"/>
<text x="467.8" y="689.8" font-size="10.5" font-weight="bold" font-style="normal" text-anchor="end" fill="#000">100</text>
<line x1="473.00" y1="675.88" x2="476.10" y2="675.88" stroke="#000" stroke-width="1.3"/>
<line x1="469.80" y1="665.80" x2="476.10" y2="665.80" stroke="#000" stroke-width="1.3"/>
<text x="467.8" y="669.6" font-size="10.5" font-weight="bold" font-style="normal" text-anchor="end" fill="#000">200</text>
<line x1="473.00" y1="655.73" x2="476.10" y2="655.73" stroke="#000" stroke-width="1.3"/>
<line x1="469.80" y1="645.65" x2="476.10" y2="645.65" stroke="#000" stroke-width="1.3"/>
<text x="467.8" y="649.4" font-size="10.5" font-weight="bold" font-style="normal" text-anchor="end" fill="#000">300</text>
<line x1="473.00" y1="635.58" x2="476.10" y2="635.58" stroke="#000" stroke-width="1.3"/>
<line x1="469.80" y1="625.50" x2="476.10" y2="625.50" stroke="#000" stroke-width="1.3"/>
<text x="467.8" y="629.3" font-size="10.5" font-weight="bold" font-style="normal" text-anchor="end" fill="#000">400</text>
<text font-size="11.8" font-weight="bold" text-anchor="middle" transform="translate(441,668.2) rotate(-90)">Activity (counts)</text>
<rect x="482.20" y="698.64" width="7.80" height="7.46" fill="#d2d2d2" stroke="#000" stroke-width="2.0"/>
<rect x="492.00" y="701.87" width="10.00" height="4.23" fill="#ff0000" stroke="#000" stroke-width="2.0"/>
<rect x="515.00" y="696.63" width="8.50" height="9.47" fill="#d2d2d2" stroke="#000" stroke-width="2.0"/>
<rect x="525.50" y="701.26" width="9.30" height="4.84" fill="#ff0000" stroke="#000" stroke-width="2.0"/>
<rect x="547.90" y="675.88" width="8.40" height="30.23" fill="#d2d2d2" stroke="#000" stroke-width="2.0"/>
<rect x="558.30" y="681.72" width="9.10" height="24.38" fill="#ff0000" stroke="#000" stroke-width="2.0"/>
<rect x="580.70" y="695.02" width="8.40" height="11.08" fill="#d2d2d2" stroke="#000" stroke-width="2.0"/>
<rect x="591.10" y="697.44" width="8.50" height="8.66" fill="#ff0000" stroke="#000" stroke-width="2.0"/>
<line x1="486.10" y1="697.64" x2="486.10" y2="699.65" stroke="#000" stroke-width="1.1"/>
<line x1="483.10" y1="697.64" x2="489.10" y2="697.64" stroke="#000" stroke-width="1.1"/>
<line x1="483.10" y1="699.65" x2="489.10" y2="699.65" stroke="#000" stroke-width="1.1"/>
<circle cx="487.58" cy="699.44" r="1.2" fill="#000"/>
<circle cx="483.73" cy="697.56" r="1.2" fill="#000"/>
<circle cx="485.76" cy="696.30" r="1.2" fill="#000"/>
<circle cx="483.66" cy="700.03" r="1.2" fill="#000"/>
<circle cx="483.82" cy="701.10" r="1.2" fill="#000"/>
<circle cx="489.15" cy="697.79" r="1.2" fill="#000"/>
<circle cx="484.72" cy="700.03" r="1.2" fill="#000"/>
<circle cx="485.29" cy="696.99" r="1.2" fill="#000"/>
<circle cx="483.36" cy="699.30" r="1.2" fill="#000"/>
<line x1="497.00" y1="700.46" x2="497.00" y2="703.28" stroke="#000" stroke-width="1.1"/>
<line x1="494.00" y1="700.46" x2="500.00" y2="700.46" stroke="#000" stroke-width="1.1"/>
<line x1="494.00" y1="703.28" x2="500.00" y2="703.28" stroke="#000" stroke-width="1.1"/>
<circle cx="496.13" cy="694.85" r="1.2" fill="#000"/>
<circle cx="495.88" cy="702.47" r="1.2" fill="#000"/>
<circle cx="496.90" cy="702.47" r="1.2" fill="#000"/>
<circle cx="496.59" cy="699.00" r="1.2" fill="#000"/>
<circle cx="498.71" cy="700.68" r="1.2" fill="#000"/>
<circle cx="497.99" cy="702.47" r="1.2" fill="#000"/>
<circle cx="495.57" cy="700.27" r="1.2" fill="#000"/>
<circle cx="497.75" cy="702.47" r="1.2" fill="#000"/>
<circle cx="497.25" cy="702.47" r="1.2" fill="#000"/>
<line x1="519.25" y1="694.61" x2="519.25" y2="698.64" stroke="#000" stroke-width="1.1"/>
<line x1="516.25" y1="694.61" x2="522.25" y2="694.61" stroke="#000" stroke-width="1.1"/>
<line x1="516.25" y1="698.64" x2="522.25" y2="698.64" stroke="#000" stroke-width="1.1"/>
<circle cx="521.14" cy="702.47" r="1.2" fill="#000"/>
<circle cx="522.38" cy="702.47" r="1.2" fill="#000"/>
<circle cx="518.90" cy="695.06" r="1.2" fill="#000"/>
<circle cx="518.40" cy="681.71" r="1.2" fill="#000"/>
<circle cx="522.16" cy="702.47" r="1.2" fill="#000"/>
<circle cx="521.20" cy="692.83" r="1.2" fill="#000"/>
<circle cx="517.35" cy="697.59" r="1.2" fill="#000"/>
<circle cx="520.35" cy="693.75" r="1.2" fill="#000"/>
<circle cx="516.07" cy="697.29" r="1.2" fill="#000"/>
<line x1="530.15" y1="700.06" x2="530.15" y2="702.47" stroke="#000" stroke-width="1.1"/>
<line x1="527.15" y1="700.06" x2="533.15" y2="700.06" stroke="#000" stroke-width="1.1"/>
<line x1="527.15" y1="702.47" x2="533.15" y2="702.47" stroke="#000" stroke-width="1.1"/>
<circle cx="533.32" cy="702.33" r="1.2" fill="#000"/>
<circle cx="529.93" cy="701.73" r="1.2" fill="#000"/>
<circle cx="527.58" cy="700.51" r="1.2" fill="#000"/>
<circle cx="530.87" cy="699.79" r="1.2" fill="#000"/>
<circle cx="532.88" cy="702.47" r="1.2" fill="#000"/>
<circle cx="531.99" cy="699.77" r="1.2" fill="#000"/>
<circle cx="530.84" cy="699.78" r="1.2" fill="#000"/>
<circle cx="530.91" cy="702.47" r="1.2" fill="#000"/>
<circle cx="533.00" cy="700.19" r="1.2" fill="#000"/>
<line x1="552.10" y1="670.23" x2="552.10" y2="681.52" stroke="#000" stroke-width="1.1"/>
<line x1="549.10" y1="670.23" x2="555.10" y2="670.23" stroke="#000" stroke-width="1.1"/>
<line x1="549.10" y1="681.52" x2="555.10" y2="681.52" stroke="#000" stroke-width="1.1"/>
<circle cx="555.16" cy="646.00" r="1.2" fill="#000"/>
<circle cx="549.74" cy="685.87" r="1.2" fill="#000"/>
<circle cx="550.48" cy="649.77" r="1.2" fill="#000"/>
<circle cx="552.24" cy="671.21" r="1.2" fill="#000"/>
<circle cx="551.73" cy="702.47" r="1.2" fill="#000"/>
<circle cx="549.76" cy="668.35" r="1.2" fill="#000"/>
<circle cx="554.12" cy="667.21" r="1.2" fill="#000"/>
<circle cx="549.79" cy="646.61" r="1.2" fill="#000"/>
<circle cx="553.55" cy="662.63" r="1.2" fill="#000"/>
<line x1="562.85" y1="675.27" x2="562.85" y2="688.17" stroke="#000" stroke-width="1.1"/>
<line x1="559.85" y1="675.27" x2="565.85" y2="675.27" stroke="#000" stroke-width="1.1"/>
<line x1="559.85" y1="688.17" x2="565.85" y2="688.17" stroke="#000" stroke-width="1.1"/>
<circle cx="563.26" cy="685.70" r="1.2" fill="#000"/>
<circle cx="559.84" cy="668.51" r="1.2" fill="#000"/>
<circle cx="563.22" cy="698.09" r="1.2" fill="#000"/>
<circle cx="564.94" cy="670.63" r="1.2" fill="#000"/>
<circle cx="562.51" cy="696.72" r="1.2" fill="#000"/>
<circle cx="561.11" cy="692.54" r="1.2" fill="#000"/>
<circle cx="562.85" cy="668.47" r="1.2" fill="#000"/>
<circle cx="564.56" cy="658.26" r="1.2" fill="#000"/>
<circle cx="560.80" cy="687.84" r="1.2" fill="#000"/>
<line x1="584.90" y1="693.41" x2="584.90" y2="696.63" stroke="#000" stroke-width="1.1"/>
<line x1="581.90" y1="693.41" x2="587.90" y2="693.41" stroke="#000" stroke-width="1.1"/>
<line x1="581.90" y1="696.63" x2="587.90" y2="696.63" stroke="#000" stroke-width="1.1"/>
<circle cx="584.16" cy="699.55" r="1.2" fill="#000"/>
<circle cx="581.76" cy="690.17" r="1.2" fill="#000"/>
<circle cx="585.92" cy="693.23" r="1.2" fill="#000"/>
<circle cx="587.98" cy="696.97" r="1.2" fill="#000"/>
<circle cx="583.82" cy="696.00" r="1.2" fill="#000"/>
<circle cx="585.17" cy="691.15" r="1.2" fill="#000"/>
<circle cx="583.27" cy="692.22" r="1.2" fill="#000"/>
<circle cx="587.44" cy="695.37" r="1.2" fill="#000"/>
<circle cx="586.32" cy="696.27" r="1.2" fill="#000"/>
<line x1="595.35" y1="696.02" x2="595.35" y2="698.85" stroke="#000" stroke-width="1.1"/>
<line x1="592.35" y1="696.02" x2="598.35" y2="696.02" stroke="#000" stroke-width="1.1"/>
<line x1="592.35" y1="698.85" x2="598.35" y2="698.85" stroke="#000" stroke-width="1.1"/>
<circle cx="592.15" cy="691.54" r="1.2" fill="#000"/>
<circle cx="598.03" cy="690.74" r="1.2" fill="#000"/>
<circle cx="596.60" cy="696.27" r="1.2" fill="#000"/>
<circle cx="595.52" cy="699.26" r="1.2" fill="#000"/>
<circle cx="592.85" cy="697.05" r="1.2" fill="#000"/>
<circle cx="595.45" cy="697.92" r="1.2" fill="#000"/>
<circle cx="595.14" cy="696.47" r="1.2" fill="#000"/>
<circle cx="592.57" cy="698.05" r="1.2" fill="#000"/>
<circle cx="592.33" cy="694.65" r="1.2" fill="#000"/>
<text x="467.5" y="727.8" font-size="10" font-weight="bold" text-anchor="middle" transform="rotate(-19 467.5 725.5999999999999)">Early light</text>
<text x="503.7" y="727.2" font-size="10" font-weight="bold" text-anchor="middle" transform="rotate(-19 503.7 725.0)">Late light</text>
<text x="534.2" y="729.0" font-size="10" font-weight="bold" text-anchor="middle" transform="rotate(-19 534.2 726.8)">Early dark</text>
<text x="569.5" y="726.5" font-size="10" font-weight="bold" text-anchor="middle" transform="rotate(-19 569.5 724.3)">Late dark</text>
<line x1="60.70" y1="786.90" x2="60.70" y2="870.00" stroke="#000" stroke-width="1.6"/>
<line x1="52.40" y1="869.30" x2="116.40" y2="869.30" stroke="#000" stroke-width="1.6"/>
<line x1="52.40" y1="869.30" x2="60.70" y2="869.30" stroke="#000" stroke-width="1.3"/>
<text x="49.8" y="873.1" font-size="10.5" font-weight="bold" font-style="normal" text-anchor="end" fill="#000">0</text>
<line x1="56.30" y1="852.95" x2="60.70" y2="852.95" stroke="#000" stroke-width="1.3"/>
<line x1="52.40" y1="836.60" x2="60.70" y2="836.60" stroke="#000" stroke-width="1.3"/>
<text x="49.8" y="840.4" font-size="10.5" font-weight="bold" font-style="normal" text-anchor="end" fill="#000">100</text>
<line x1="56.30" y1="820.25" x2="60.70" y2="820.25" stroke="#000" stroke-width="1.3"/>
<line x1="52.40" y1="803.90" x2="60.70" y2="803.90" stroke="#000" stroke-width="1.3"/>
<text x="49.8" y="807.7" font-size="10.5" font-weight="bold" font-style="normal" text-anchor="end" fill="#000">200</text>
<line x1="56.30" y1="787.55" x2="60.70" y2="787.55" stroke="#000" stroke-width="1.3"/>
<text transform="translate(28.4,830.0) rotate(-90)" font-size="12.4" font-weight="bold" text-anchor="middle" fill="#000">Triglyceride (mg/dL)</text>
<rect x="71.00" y="820.25" width="15.20" height="49.05" fill="#d2d2d2" stroke="#000" stroke-width="1.9"/>
<rect x="90.10" y="822.21" width="14.80" height="47.09" fill="#ff0000" stroke="#000" stroke-width="1.9"/>
<line x1="78.60" y1="812.50" x2="78.60" y2="827.60" stroke="#000" stroke-width="1.3"/>
<line x1="73.90" y1="812.50" x2="83.30" y2="812.50" stroke="#000" stroke-width="1.3"/>
<line x1="73.90" y1="827.60" x2="83.30" y2="827.60" stroke="#000" stroke-width="1.3"/>
<line x1="97.50" y1="817.00" x2="97.50" y2="826.00" stroke="#000" stroke-width="1.3"/>
<line x1="93.00" y1="817.00" x2="102.00" y2="817.00" stroke="#000" stroke-width="1.3"/>
<line x1="93.00" y1="826.00" x2="102.00" y2="826.00" stroke="#000" stroke-width="1.3"/>
<circle cx="78.60" cy="792.30" r="1.0" fill="#000"/>
<circle cx="77.60" cy="828.60" r="1.0" fill="#000"/>
<circle cx="78.60" cy="833.40" r="1.0" fill="#000"/>
<circle cx="78.00" cy="822.00" r="1.0" fill="#000"/>
<circle cx="97.00" cy="811.70" r="1.0" fill="#000"/>
<circle cx="97.00" cy="823.70" r="1.0" fill="#000"/>
<circle cx="97.00" cy="829.20" r="1.0" fill="#000"/>
<circle cx="95.00" cy="825.00" r="1.0" fill="#000"/>
<line x1="199.80" y1="787.20" x2="199.80" y2="870.80" stroke="#000" stroke-width="1.6"/>
<line x1="192.10" y1="870.10" x2="257.90" y2="870.10" stroke="#000" stroke-width="1.6"/>
<line x1="192.10" y1="870.10" x2="199.80" y2="870.10" stroke="#000" stroke-width="1.3"/>
<text x="191.0" y="873.9" font-size="10.5" font-weight="bold" font-style="normal" text-anchor="end" fill="#000">0</text>
<line x1="192.10" y1="829.05" x2="199.80" y2="829.05" stroke="#000" stroke-width="1.3"/>
<text x="191.0" y="832.9" font-size="10.5" font-weight="bold" font-style="normal" text-anchor="end" fill="#000">500</text>
<line x1="192.10" y1="788.00" x2="199.80" y2="788.00" stroke="#000" stroke-width="1.3"/>
<text x="191.0" y="791.8" font-size="10.5" font-weight="bold" font-style="normal" text-anchor="end" fill="#000">1000</text>
<text transform="translate(160.4,822.5) rotate(-90)" font-size="12.5" font-weight="bold" text-anchor="middle" fill="#000">Free fatty acids (mEq/L)</text>
<rect x="211.10" y="814.40" width="15.70" height="55.70" fill="#d2d2d2" stroke="#000" stroke-width="1.9"/>
<rect x="229.50" y="844.00" width="16.10" height="26.10" fill="#ff0000" stroke="#000" stroke-width="1.9"/>
<line x1="219.20" y1="805.40" x2="219.20" y2="822.10" stroke="#000" stroke-width="1.3"/>
<line x1="214.70" y1="805.40" x2="223.70" y2="805.40" stroke="#000" stroke-width="1.3"/>
<line x1="214.70" y1="822.10" x2="223.70" y2="822.10" stroke="#000" stroke-width="1.3"/>
<line x1="238.00" y1="838.00" x2="238.00" y2="843.50" stroke="#000" stroke-width="1.3"/>
<line x1="233.70" y1="838.00" x2="242.30" y2="838.00" stroke="#000" stroke-width="1.3"/>
<line x1="233.70" y1="843.50" x2="242.30" y2="843.50" stroke="#000" stroke-width="1.3"/>
<circle cx="219.20" cy="788.70" r="1.0" fill="#000"/>
<circle cx="219.20" cy="828.40" r="1.0" fill="#000"/>
<circle cx="219.20" cy="835.70" r="1.0" fill="#000"/>
<circle cx="236.00" cy="847.20" r="1.0" fill="#000"/>
<circle cx="240.00" cy="847.20" r="1.0" fill="#000"/>
<path d="M219.2,781.3 L219.2,776.1 L238.0,776.1 L238.0,824.8" fill="none" stroke="#333" stroke-width="1.2"/>
<text x="228.4" y="775.6" font-size="19" font-weight="bold" font-style="normal" text-anchor="middle" fill="#000">*</text>
<line x1="331.80" y1="786.70" x2="331.80" y2="869.80" stroke="#000" stroke-width="1.6"/>
<line x1="323.70" y1="869.10" x2="388.20" y2="869.10" stroke="#000" stroke-width="1.6"/>
<line x1="323.70" y1="869.10" x2="331.80" y2="869.10" stroke="#000" stroke-width="1.3"/>
<text x="322.5" y="872.9" font-size="10.3" font-weight="bold" font-style="normal" text-anchor="end" fill="#000">0</text>
<line x1="323.70" y1="841.90" x2="331.80" y2="841.90" stroke="#000" stroke-width="1.3"/>
<text x="322.5" y="845.7" font-size="10.3" font-weight="bold" font-style="normal" text-anchor="end" fill="#000">100</text>
<line x1="323.70" y1="814.70" x2="331.80" y2="814.70" stroke="#000" stroke-width="1.3"/>
<text x="322.5" y="818.5" font-size="10.3" font-weight="bold" font-style="normal" text-anchor="end" fill="#000">200</text>
<line x1="323.70" y1="787.50" x2="331.80" y2="787.50" stroke="#000" stroke-width="1.3"/>
<text x="322.5" y="791.3" font-size="10.3" font-weight="bold" font-style="normal" text-anchor="end" fill="#000">300</text>
<text font-size="12.6" font-weight="bold" text-anchor="middle" transform="translate(297.9,829.3) rotate(-90)">Ketone bodies (<tspan font-weight="normal">μ</tspan>mol/L)</text>
<rect x="342.10" y="813.00" width="15.20" height="56.10" fill="#d2d2d2" stroke="#000" stroke-width="1.9"/>
<rect x="360.40" y="836.90" width="15.40" height="32.20" fill="#ff0000" stroke="#000" stroke-width="1.9"/>
<line x1="349.70" y1="806.40" x2="349.70" y2="819.00" stroke="#000" stroke-width="1.3"/>
<line x1="345.20" y1="806.40" x2="354.20" y2="806.40" stroke="#000" stroke-width="1.3"/>
<line x1="345.20" y1="819.00" x2="354.20" y2="819.00" stroke="#000" stroke-width="1.3"/>
<line x1="368.10" y1="832.80" x2="368.10" y2="840.50" stroke="#000" stroke-width="1.3"/>
<line x1="363.80" y1="832.80" x2="372.40" y2="832.80" stroke="#000" stroke-width="1.3"/>
<line x1="363.80" y1="840.50" x2="372.40" y2="840.50" stroke="#000" stroke-width="1.3"/>
<circle cx="349.70" cy="797.50" r="1.0" fill="#000"/>
<circle cx="349.70" cy="802.00" r="1.0" fill="#000"/>
<circle cx="349.70" cy="833.80" r="1.0" fill="#000"/>
<circle cx="368.10" cy="823.00" r="1.0" fill="#000"/>
<circle cx="368.10" cy="847.50" r="1.0" fill="#000"/>
<circle cx="366.00" cy="838.00" r="1.0" fill="#000"/>
<path d="M349.7,791.6 L349.7,784.9 L368.9,784.9 L368.9,816.3" fill="none" stroke="#333" stroke-width="1.2"/>
<text x="359.7" y="783.0" font-size="18" font-weight="bold" font-style="normal" text-anchor="middle" fill="#000">*</text>
<line x1="465.70" y1="785.80" x2="465.70" y2="869.30" stroke="#000" stroke-width="1.6"/>
<line x1="459.00" y1="868.60" x2="630.80" y2="868.60" stroke="#000" stroke-width="1.6"/>
<line x1="459.00" y1="868.60" x2="465.70" y2="868.60" stroke="#000" stroke-width="1.3"/>
<text x="457.5" y="872.4" font-size="10.3" font-weight="bold" font-style="normal" text-anchor="end" fill="#000">0</text>
<line x1="462.00" y1="852.15" x2="465.70" y2="852.15" stroke="#000" stroke-width="1.3"/>
<line x1="459.00" y1="835.70" x2="465.70" y2="835.70" stroke="#000" stroke-width="1.3"/>
<text x="457.5" y="839.5" font-size="10.3" font-weight="bold" font-style="normal" text-anchor="end" fill="#000">50</text>
<line x1="462.00" y1="819.25" x2="465.70" y2="819.25" stroke="#000" stroke-width="1.3"/>
<line x1="459.00" y1="802.80" x2="465.70" y2="802.80" stroke="#000" stroke-width="1.3"/>
<text x="457.5" y="806.6" font-size="10.3" font-weight="bold" font-style="normal" text-anchor="end" fill="#000">100</text>
<line x1="462.00" y1="786.35" x2="465.70" y2="786.35" stroke="#000" stroke-width="1.3"/>
<text transform="translate(433.0,828.8) rotate(-90)" font-size="12.4" font-weight="bold" text-anchor="middle" fill="#000">Cholesterol (mg/dL)</text>
<rect x="476.00" y="803.46" width="15.10" height="65.14" fill="#d2d2d2" stroke="#000" stroke-width="1.9"/>
<rect x="493.90" y="812.67" width="16.30" height="55.93" fill="#ff0000" stroke="#000" stroke-width="1.9"/>
<rect x="530.20" y="864.65" width="13.60" height="3.95" fill="#d2d2d2" stroke="#000" stroke-width="1.9"/>
<rect x="545.80" y="864.98" width="15.40" height="3.62" fill="#ff0000" stroke="#000" stroke-width="1.9"/>
<rect x="585.30" y="834.71" width="15.60" height="33.89" fill="#d2d2d2" stroke="#000" stroke-width="1.9"/>
<rect x="603.20" y="837.67" width="15.60" height="30.93" fill="#ff0000" stroke="#000" stroke-width="1.9"/>
<line x1="483.50" y1="800.83" x2="483.50" y2="806.09" stroke="#000" stroke-width="1.3"/>
<line x1="479.50" y1="800.83" x2="487.50" y2="800.83" stroke="#000" stroke-width="1.3"/>
<line x1="479.50" y1="806.09" x2="487.50" y2="806.09" stroke="#000" stroke-width="1.3"/>
<line x1="502.00" y1="811.02" x2="502.00" y2="814.32" stroke="#000" stroke-width="1.3"/>
<line x1="498.00" y1="811.02" x2="506.00" y2="811.02" stroke="#000" stroke-width="1.3"/>
<line x1="498.00" y1="814.32" x2="506.00" y2="814.32" stroke="#000" stroke-width="1.3"/>
<line x1="593.00" y1="833.07" x2="593.00" y2="836.36" stroke="#000" stroke-width="1.3"/>
<line x1="589.00" y1="833.07" x2="597.00" y2="833.07" stroke="#000" stroke-width="1.3"/>
<line x1="589.00" y1="836.36" x2="597.00" y2="836.36" stroke="#000" stroke-width="1.3"/>
<line x1="611.00" y1="837.02" x2="611.00" y2="838.33" stroke="#000" stroke-width="1.3"/>
<line x1="607.00" y1="837.02" x2="615.00" y2="837.02" stroke="#000" stroke-width="1.3"/>
<line x1="607.00" y1="838.33" x2="615.00" y2="838.33" stroke="#000" stroke-width="1.3"/>
<circle cx="480.00" cy="796.60" r="1.7" fill="#000"/>
<circle cx="487.20" cy="796.60" r="1.7" fill="#000"/>
<circle cx="480.00" cy="807.30" r="1.7" fill="#000"/>
<circle cx="487.20" cy="807.30" r="1.7" fill="#000"/>
<circle cx="483.50" cy="801.00" r="1.7" fill="#000"/>
<circle cx="495.50" cy="810.50" r="1.7" fill="#000"/>
<circle cx="502.00" cy="809.00" r="1.7" fill="#000"/>
<circle cx="507.00" cy="811.00" r="1.7" fill="#000"/>
<circle cx="498.50" cy="813.00" r="1.7" fill="#000"/>
<circle cx="505.00" cy="812.50" r="1.7" fill="#000"/>
<circle cx="589.50" cy="830.00" r="1.7" fill="#000"/>
<circle cx="596.00" cy="829.50" r="1.7" fill="#000"/>
<circle cx="589.50" cy="838.50" r="1.7" fill="#000"/>
<circle cx="596.00" cy="838.00" r="1.7" fill="#000"/>
<circle cx="593.00" cy="833.00" r="1.7" fill="#000"/>
<circle cx="607.00" cy="835.50" r="1.5" fill="#000"/>
<circle cx="611.00" cy="837.00" r="1.5" fill="#000"/>
<circle cx="615.00" cy="836.50" r="1.5" fill="#000"/>
<circle cx="609.00" cy="838.50" r="1.5" fill="#000"/>
<circle cx="532.50" cy="864.50" r="1.5" fill="#000"/>
<circle cx="537.00" cy="862.80" r="1.5" fill="#000"/>
<circle cx="541.00" cy="864.50" r="1.5" fill="#000"/>
<circle cx="549.00" cy="864.60" r="1.5" fill="#000"/>
<circle cx="554.00" cy="864.20" r="1.5" fill="#000"/>
<circle cx="558.50" cy="864.90" r="1.5" fill="#000"/>
<path d="M483.6,789.4 L483.6,779.9 L501.5,779.9 L501.5,796.6" fill="none" stroke="#000" stroke-width="1.0"/>
<text x="493.1" y="778.6" font-size="19" font-weight="bold" font-style="normal" text-anchor="middle" fill="#000">*</text>
<text x="493.1" y="882.5" font-size="12" font-weight="bold" font-style="normal" text-anchor="middle" fill="#000">Total</text>
<text x="547.5" y="882.5" font-size="12" font-weight="bold" font-style="normal" text-anchor="middle" fill="#000">LDL</text>
<text x="601.7" y="882.5" font-size="12" font-weight="bold" font-style="normal" text-anchor="middle" fill="#000">HDL</text>
<line x1="43.20" y1="940.80" x2="43.20" y2="1061.60" stroke="#000" stroke-width="1.4"/>
<line x1="43.20" y1="1060.90" x2="179.00" y2="1060.90" stroke="#000" stroke-width="1.4"/>
<line x1="40.20" y1="1060.90" x2="43.20" y2="1060.90" stroke="#000" stroke-width="1.2"/>
<text x="31.6" y="1064.7" font-size="10.8" font-weight="bold" font-style="normal" text-anchor="end" fill="#000">0</text>
<line x1="40.20" y1="1036.96" x2="43.20" y2="1036.96" stroke="#000" stroke-width="1.2"/>
<text x="31.6" y="1040.8" font-size="10.8" font-weight="bold" font-style="normal" text-anchor="end" fill="#000">10</text>
<line x1="40.20" y1="1013.02" x2="43.20" y2="1013.02" stroke="#000" stroke-width="1.2"/>
<text x="31.6" y="1016.8" font-size="10.8" font-weight="bold" font-style="normal" text-anchor="end" fill="#000">20</text>
<line x1="40.20" y1="989.08" x2="43.20" y2="989.08" stroke="#000" stroke-width="1.2"/>
<text x="31.6" y="992.9" font-size="10.8" font-weight="bold" font-style="normal" text-anchor="end" fill="#000">30</text>
<line x1="40.20" y1="965.14" x2="43.20" y2="965.14" stroke="#000" stroke-width="1.2"/>
<text x="31.6" y="968.9" font-size="10.8" font-weight="bold" font-style="normal" text-anchor="end" fill="#000">40</text>
<line x1="40.20" y1="941.20" x2="43.20" y2="941.20" stroke="#000" stroke-width="1.2"/>
<text x="31.6" y="945.0" font-size="10.8" font-weight="bold" font-style="normal" text-anchor="end" fill="#000">50</text>
<line x1="43.20" y1="1060.90" x2="43.20" y2="1064.00" stroke="#000" stroke-width="1.2"/>
<line x1="53.38" y1="1060.90" x2="53.38" y2="1064.00" stroke="#000" stroke-width="1.2"/>
<line x1="63.56" y1="1060.90" x2="63.56" y2="1064.00" stroke="#000" stroke-width="1.2"/>
<line x1="73.74" y1="1060.90" x2="73.74" y2="1064.00" stroke="#000" stroke-width="1.2"/>
<line x1="83.92" y1="1060.90" x2="83.92" y2="1064.00" stroke="#000" stroke-width="1.2"/>
<line x1="94.10" y1="1060.90" x2="94.10" y2="1064.00" stroke="#000" stroke-width="1.2"/>
<line x1="104.28" y1="1060.90" x2="104.28" y2="1064.00" stroke="#000" stroke-width="1.2"/>
<line x1="114.46" y1="1060.90" x2="114.46" y2="1064.00" stroke="#000" stroke-width="1.2"/>
<line x1="124.64" y1="1060.90" x2="124.64" y2="1064.00" stroke="#000" stroke-width="1.2"/>
<line x1="134.82" y1="1060.90" x2="134.82" y2="1064.00" stroke="#000" stroke-width="1.2"/>
<line x1="145.00" y1="1060.90" x2="145.00" y2="1064.00" stroke="#000" stroke-width="1.2"/>
<line x1="155.18" y1="1060.90" x2="155.18" y2="1064.00" stroke="#000" stroke-width="1.2"/>
<line x1="165.36" y1="1060.90" x2="165.36" y2="1064.00" stroke="#000" stroke-width="1.2"/>
<line x1="175.54" y1="1060.90" x2="175.54" y2="1064.00" stroke="#000" stroke-width="1.2"/>
<text x="43.2" y="1076.8" font-size="10.8" font-weight="bold" font-style="normal" text-anchor="middle" fill="#000">4</text>
<text x="63.6" y="1076.8" font-size="10.8" font-weight="bold" font-style="normal" text-anchor="middle" fill="#000">6</text>
<text x="83.9" y="1076.8" font-size="10.8" font-weight="bold" font-style="normal" text-anchor="middle" fill="#000">8</text>
<text x="104.3" y="1076.8" font-size="10.8" font-weight="bold" font-style="normal" text-anchor="middle" fill="#000">10</text>
<text x="124.6" y="1076.8" font-size="10.8" font-weight="bold" font-style="normal" text-anchor="middle" fill="#000">12</text>
<text x="145.0" y="1076.8" font-size="10.8" font-weight="bold" font-style="normal" text-anchor="middle" fill="#000">14</text>
<text x="165.4" y="1076.8" font-size="10.8" font-weight="bold" font-style="normal" text-anchor="middle" fill="#000">16</text>
<text x="110.3" y="1091.0" font-size="11.6" font-weight="bold" font-style="normal" text-anchor="middle" fill="#000">Age (Weeks)</text>
<text transform="translate(13.5,1006.0) rotate(-90)" font-size="11.4" font-weight="bold" text-anchor="middle" fill="#000">Body weight (g)</text>
<path d="M88.7,971.6 V929.5 H177.3 V932.8" fill="none" stroke="#999" stroke-width="1"/>
<text x="133.0" y="931.1" font-size="19" font-weight="normal" font-style="normal" text-anchor="middle" fill="#000">*</text>
<line x1="73.74" y1="989.44" x2="73.74" y2="994.47" stroke="#8c8c8c" stroke-width="1"/>
<line x1="70.94" y1="989.44" x2="76.54" y2="989.44" stroke="#8c8c8c" stroke-width="1"/>
<line x1="70.94" y1="994.47" x2="76.54" y2="994.47" stroke="#8c8c8c" stroke-width="1"/>
<line x1="73.74" y1="996.86" x2="73.74" y2="1001.41" stroke="#8c8c8c" stroke-width="1"/>
<line x1="70.94" y1="996.86" x2="76.54" y2="996.86" stroke="#8c8c8c" stroke-width="1"/>
<line x1="70.94" y1="1001.41" x2="76.54" y2="1001.41" stroke="#8c8c8c" stroke-width="1"/>
<line x1="83.92" y1="985.73" x2="83.92" y2="991.47" stroke="#8c8c8c" stroke-width="1"/>
<line x1="81.12" y1="985.73" x2="86.72" y2="985.73" stroke="#8c8c8c" stroke-width="1"/>
<line x1="81.12" y1="991.47" x2="86.72" y2="991.47" stroke="#8c8c8c" stroke-width="1"/>
<line x1="83.92" y1="994.11" x2="83.92" y2="999.37" stroke="#8c8c8c" stroke-width="1"/>
<line x1="81.12" y1="994.11" x2="86.72" y2="994.11" stroke="#8c8c8c" stroke-width="1"/>
<line x1="81.12" y1="999.37" x2="86.72" y2="999.37" stroke="#8c8c8c" stroke-width="1"/>
<line x1="94.10" y1="978.67" x2="94.10" y2="985.13" stroke="#8c8c8c" stroke-width="1"/>
<line x1="91.30" y1="978.67" x2="96.90" y2="978.67" stroke="#8c8c8c" stroke-width="1"/>
<line x1="91.30" y1="985.13" x2="96.90" y2="985.13" stroke="#8c8c8c" stroke-width="1"/>
<line x1="94.10" y1="990.40" x2="94.10" y2="996.38" stroke="#8c8c8c" stroke-width="1"/>
<line x1="91.30" y1="990.40" x2="96.90" y2="990.40" stroke="#8c8c8c" stroke-width="1"/>
<line x1="91.30" y1="996.38" x2="96.90" y2="996.38" stroke="#8c8c8c" stroke-width="1"/>
<line x1="104.28" y1="974.00" x2="104.28" y2="981.18" stroke="#8c8c8c" stroke-width="1"/>
<line x1="101.48" y1="974.00" x2="107.08" y2="974.00" stroke="#8c8c8c" stroke-width="1"/>
<line x1="101.48" y1="981.18" x2="107.08" y2="981.18" stroke="#8c8c8c" stroke-width="1"/>
<line x1="104.28" y1="988.12" x2="104.28" y2="994.83" stroke="#8c8c8c" stroke-width="1"/>
<line x1="101.48" y1="988.12" x2="107.08" y2="988.12" stroke="#8c8c8c" stroke-width="1"/>
<line x1="101.48" y1="994.83" x2="107.08" y2="994.83" stroke="#8c8c8c" stroke-width="1"/>
<line x1="114.46" y1="969.57" x2="114.46" y2="977.47" stroke="#8c8c8c" stroke-width="1"/>
<line x1="111.66" y1="969.57" x2="117.26" y2="969.57" stroke="#8c8c8c" stroke-width="1"/>
<line x1="111.66" y1="977.47" x2="117.26" y2="977.47" stroke="#8c8c8c" stroke-width="1"/>
<line x1="114.46" y1="984.17" x2="114.46" y2="991.59" stroke="#8c8c8c" stroke-width="1"/>
<line x1="111.66" y1="984.17" x2="117.26" y2="984.17" stroke="#8c8c8c" stroke-width="1"/>
<line x1="111.66" y1="991.59" x2="117.26" y2="991.59" stroke="#8c8c8c" stroke-width="1"/>
<line x1="124.64" y1="965.62" x2="124.64" y2="974.24" stroke="#8c8c8c" stroke-width="1"/>
<line x1="121.84" y1="965.62" x2="127.44" y2="965.62" stroke="#8c8c8c" stroke-width="1"/>
<line x1="121.84" y1="974.24" x2="127.44" y2="974.24" stroke="#8c8c8c" stroke-width="1"/>
<line x1="124.64" y1="980.22" x2="124.64" y2="988.36" stroke="#8c8c8c" stroke-width="1"/>
<line x1="121.84" y1="980.22" x2="127.44" y2="980.22" stroke="#8c8c8c" stroke-width="1"/>
<line x1="121.84" y1="988.36" x2="127.44" y2="988.36" stroke="#8c8c8c" stroke-width="1"/>
<line x1="134.82" y1="958.80" x2="134.82" y2="968.13" stroke="#8c8c8c" stroke-width="1"/>
<line x1="132.02" y1="958.80" x2="137.62" y2="958.80" stroke="#8c8c8c" stroke-width="1"/>
<line x1="132.02" y1="968.13" x2="137.62" y2="968.13" stroke="#8c8c8c" stroke-width="1"/>
<line x1="134.82" y1="976.75" x2="134.82" y2="985.61" stroke="#8c8c8c" stroke-width="1"/>
<line x1="132.02" y1="976.75" x2="137.62" y2="976.75" stroke="#8c8c8c" stroke-width="1"/>
<line x1="132.02" y1="985.61" x2="137.62" y2="985.61" stroke="#8c8c8c" stroke-width="1"/>
<line x1="145.00" y1="955.32" x2="145.00" y2="965.38" stroke="#8c8c8c" stroke-width="1"/>
<line x1="142.20" y1="955.32" x2="147.80" y2="955.32" stroke="#8c8c8c" stroke-width="1"/>
<line x1="142.20" y1="965.38" x2="147.80" y2="965.38" stroke="#8c8c8c" stroke-width="1"/>
<line x1="145.00" y1="972.80" x2="145.00" y2="982.38" stroke="#8c8c8c" stroke-width="1"/>
<line x1="142.20" y1="972.80" x2="147.80" y2="972.80" stroke="#8c8c8c" stroke-width="1"/>
<line x1="142.20" y1="982.38" x2="147.80" y2="982.38" stroke="#8c8c8c" stroke-width="1"/>
<line x1="155.18" y1="949.70" x2="155.18" y2="960.47" stroke="#8c8c8c" stroke-width="1"/>
<line x1="152.38" y1="949.70" x2="157.98" y2="949.70" stroke="#8c8c8c" stroke-width="1"/>
<line x1="152.38" y1="960.47" x2="157.98" y2="960.47" stroke="#8c8c8c" stroke-width="1"/>
<line x1="155.18" y1="969.57" x2="155.18" y2="979.86" stroke="#8c8c8c" stroke-width="1"/>
<line x1="152.38" y1="969.57" x2="157.98" y2="969.57" stroke="#8c8c8c" stroke-width="1"/>
<line x1="152.38" y1="979.86" x2="157.98" y2="979.86" stroke="#8c8c8c" stroke-width="1"/>
<line x1="165.36" y1="945.03" x2="165.36" y2="956.52" stroke="#8c8c8c" stroke-width="1"/>
<line x1="162.56" y1="945.03" x2="168.16" y2="945.03" stroke="#8c8c8c" stroke-width="1"/>
<line x1="162.56" y1="956.52" x2="168.16" y2="956.52" stroke="#8c8c8c" stroke-width="1"/>
<line x1="165.36" y1="966.82" x2="165.36" y2="977.83" stroke="#8c8c8c" stroke-width="1"/>
<line x1="162.56" y1="966.82" x2="168.16" y2="966.82" stroke="#8c8c8c" stroke-width="1"/>
<line x1="162.56" y1="977.83" x2="168.16" y2="977.83" stroke="#8c8c8c" stroke-width="1"/>
<line x1="175.54" y1="941.08" x2="175.54" y2="953.29" stroke="#8c8c8c" stroke-width="1"/>
<line x1="172.74" y1="941.08" x2="178.34" y2="941.08" stroke="#8c8c8c" stroke-width="1"/>
<line x1="172.74" y1="953.29" x2="178.34" y2="953.29" stroke="#8c8c8c" stroke-width="1"/>
<line x1="175.54" y1="962.87" x2="175.54" y2="974.60" stroke="#8c8c8c" stroke-width="1"/>
<line x1="172.74" y1="962.87" x2="178.34" y2="962.87" stroke="#8c8c8c" stroke-width="1"/>
<line x1="172.74" y1="974.60" x2="178.34" y2="974.60" stroke="#8c8c8c" stroke-width="1"/>
<polyline points="43.20,1013.02 53.38,1002.25 63.56,997.46 73.74,991.95 83.92,988.60 94.10,981.90 104.28,977.59 114.46,973.52 124.64,969.93 134.82,963.46 145.00,960.35 155.18,955.09 165.36,950.78 175.54,947.19" fill="none" stroke="#000" stroke-width="1.1" stroke-linejoin="round" stroke-linecap="round"/>
<polyline points="43.20,1017.81 53.38,1008.23 63.56,1003.44 73.74,999.13 83.92,996.74 94.10,993.39 104.28,991.47 114.46,987.88 124.64,984.29 134.82,981.18 145.00,977.59 155.18,974.72 165.36,972.32 175.54,968.73" fill="none" stroke="#ff0000" stroke-width="1.1" stroke-linejoin="round" stroke-linecap="round"/>
<circle cx="43.20" cy="1013.02" r="3.4" fill="#000"/>
<circle cx="53.38" cy="1002.25" r="3.4" fill="#000"/>
<circle cx="63.56" cy="997.46" r="3.4" fill="#000"/>
<circle cx="73.74" cy="991.95" r="3.4" fill="#000"/>
<circle cx="83.92" cy="988.60" r="3.4" fill="#000"/>
<circle cx="94.10" cy="981.90" r="3.4" fill="#000"/>
<circle cx="104.28" cy="977.59" r="3.4" fill="#000"/>
<circle cx="114.46" cy="973.52" r="3.4" fill="#000"/>
<circle cx="124.64" cy="969.93" r="3.4" fill="#000"/>
<circle cx="134.82" cy="963.46" r="3.4" fill="#000"/>
<circle cx="145.00" cy="960.35" r="3.4" fill="#000"/>
<circle cx="155.18" cy="955.09" r="3.4" fill="#000"/>
<circle cx="165.36" cy="950.78" r="3.4" fill="#000"/>
<circle cx="175.54" cy="947.19" r="3.4" fill="#000"/>
<circle cx="43.20" cy="1017.81" r="3.5" fill="#ff0000"/>
<circle cx="53.38" cy="1008.23" r="3.5" fill="#ff0000"/>
<circle cx="63.56" cy="1003.44" r="3.5" fill="#ff0000"/>
<circle cx="73.74" cy="999.13" r="3.5" fill="#ff0000"/>
<circle cx="83.92" cy="996.74" r="3.5" fill="#ff0000"/>
<circle cx="94.10" cy="993.39" r="3.5" fill="#ff0000"/>
<circle cx="104.28" cy="991.47" r="3.5" fill="#ff0000"/>
<circle cx="114.46" cy="987.88" r="3.5" fill="#ff0000"/>
<circle cx="124.64" cy="984.29" r="3.5" fill="#ff0000"/>
<circle cx="134.82" cy="981.18" r="3.5" fill="#ff0000"/>
<circle cx="145.00" cy="977.59" r="3.5" fill="#ff0000"/>
<circle cx="155.18" cy="974.72" r="3.5" fill="#ff0000"/>
<circle cx="165.36" cy="972.32" r="3.5" fill="#ff0000"/>
<circle cx="175.54" cy="968.73" r="3.5" fill="#ff0000"/>
</svg></body></html>
